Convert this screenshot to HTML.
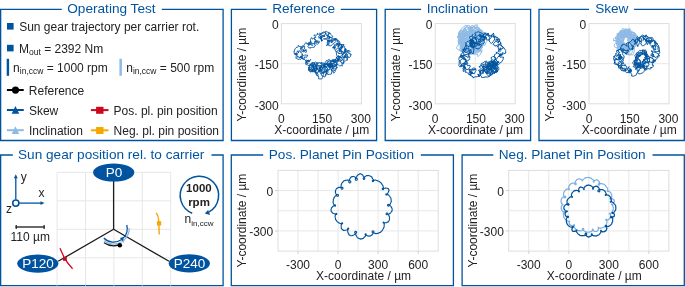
<!DOCTYPE html>
<html><head><meta charset="utf-8"><style>
html,body{margin:0;padding:0;background:#fff;width:685px;height:287px;overflow:hidden}
svg{display:block;will-change:transform}
text{font-family:"Liberation Sans",sans-serif}
</style></head><body>
<svg width="685" height="287" viewBox="0 0 685 287">
<path d="M61.80,9.4 H0.65 V140.5 H223.1 V9.4 H161.80" fill="none" stroke="#00549F" stroke-width="1.3"/>
<text x="111.45" y="13.10" text-anchor="middle" font-size="13.63" fill="#00549F">Operating Test</text>
<path d="M266.60,9.4 H231.4 V140.5 H376.6 V9.4 H340.80" fill="none" stroke="#00549F" stroke-width="1.3"/>
<text x="303.65" y="13.10" text-anchor="middle" font-size="13.63" fill="#00549F">Reference</text>
<path d="M421.10,9.4 H385.2 V140.5 H530.6 V9.4 H494.10" fill="none" stroke="#00549F" stroke-width="1.3"/>
<text x="457.35" y="13.10" text-anchor="middle" font-size="13.63" fill="#00549F">Inclination</text>
<path d="M589.00,9.4 H539.0 V140.5 H684.3 V9.4 H634.10" fill="none" stroke="#00549F" stroke-width="1.3"/>
<text x="611.80" y="13.10" text-anchor="middle" font-size="13.63" fill="#00549F">Skew</text>
<path d="M12.80,155.0 H0.65 V285.6 H223.1 V155.0 H211.50" fill="none" stroke="#00549F" stroke-width="1.3"/>
<text x="111.15" y="158.70" text-anchor="middle" font-size="13.63" fill="#00549F">Sun gear position rel. to carrier</text>
<path d="M263.20,155.0 H231.3 V285.6 H453.4 V155.0 H420.80" fill="none" stroke="#00549F" stroke-width="1.3"/>
<text x="341.45" y="158.70" text-anchor="middle" font-size="13.63" fill="#00549F">Pos. Planet Pin Position</text>
<path d="M493.30,155.0 H462.1 V285.6 H684.3 V155.0 H652.50" fill="none" stroke="#00549F" stroke-width="1.3"/>
<text x="572.20" y="158.70" text-anchor="middle" font-size="13.63" fill="#00549F">Neg. Planet Pin Position</text>
<rect x="7" y="23" width="6.6" height="6.6" fill="#00549F"/>
<text x="19.2" y="31.2" fill="#222222" font-size="12">Sun gear trajectory per carrier rot.</text>
<rect x="7" y="44.8" width="6.6" height="6.6" fill="#00549F"/>
<text x="19.0" y="52.5" fill="#222222" font-size="12">M<tspan font-size="8.5" dy="2.5">out</tspan><tspan dy="-2.5"> = 2392 Nm</tspan></text>
<rect x="6.7" y="58.8" width="2.4" height="17" fill="#00549F"/>
<text x="13.1" y="71.7" fill="#222222" font-size="12">n<tspan font-size="8.5" dy="2.6">in,ccw</tspan><tspan dy="-2.6"> = 1000 rpm</tspan></text>
<rect x="119.4" y="58.8" width="2.5" height="17" fill="#8EBAE5"/>
<text x="126.2" y="71.7" fill="#222222" font-size="12">n<tspan font-size="8.5" dy="2.6">in,ccw</tspan><tspan dy="-2.6"> = 500 rpm</tspan></text>
<line x1="6.9" y1="90.0" x2="23.7" y2="90.0" stroke="#000" stroke-width="2"/>
<circle cx="15.5" cy="90.1" r="3.6" fill="#000"/>
<text x="28.8" y="95" fill="#222222" font-size="12">Reference</text>
<line x1="6.9" y1="110.0" x2="23.8" y2="110.0" stroke="#00549F" stroke-width="2"/>
<path d="M15.45,106.1 L19.25,113.8 L11.649999999999999,113.8Z" fill="#00549F"/>
<text x="28.9" y="115" fill="#222222" font-size="12">Skew</text>
<line x1="6.9" y1="130.2" x2="23.8" y2="130.2" stroke="#8EBAE5" stroke-width="2"/>
<path d="M15.45,126.3 L19.25,134.0 L11.649999999999999,134.0Z" fill="#8EBAE5"/>
<text x="28.9" y="135" fill="#222222" font-size="12">Inclination</text>
<line x1="90.9" y1="110.1" x2="108.5" y2="110.1" stroke="#CC071E" stroke-width="2"/>
<rect x="96.1" y="106.8" width="7.4" height="7.0" fill="#CC071E"/>
<text x="113.6" y="114.8" fill="#222222" font-size="12">Pos. pl. pin position</text>
<line x1="90.9" y1="130.3" x2="108.5" y2="130.3" stroke="#F6A800" stroke-width="2"/>
<rect x="96.1" y="127.0" width="7.4" height="7.0" fill="#F6A800"/>
<text x="113.6" y="134.9" fill="#222222" font-size="12">Neg. pl. pin position</text>
<line x1="321.4" y1="23.6" x2="321.4" y2="103.8" stroke="#e7e7e7" stroke-width="1"/>
<line x1="281.4" y1="63.7" x2="361.4" y2="63.7" stroke="#e7e7e7" stroke-width="1"/>
<rect x="281.4" y="23.6" width="80.0" height="80.19999999999999" fill="none" stroke="#dddddd" stroke-width="1"/>
<path d="M323.8 35.9 324.5 35.4 323.7 36.4 323.7 35.8 323.7 35.5 323.4 35.8 325.1 36.4 324.1 36.3 323.6 36.9 323.4 36.6 323.2 36.7 323.0 36.3 322.2 35.8 320.9 34.1 319.8 34.0 319.8 34.1 319.8 32.9 320.8 33.7 323.2 32.1 324.7 32.0 326.3 31.3 328.6 32.8 329.1 31.9 329.0 33.2 329.1 33.4 328.4 35.1 326.9 35.5 327.9 36.1 327.1 35.7 327.5 36.1 327.5 36.1 327.1 35.5 327.2 35.2 328.1 35.6 328.2 36.6 330.0 36.6 328.9 38.4 329.5 38.2 328.3 37.8 328.2 38.1 327.6 39.1 325.5 39.3 324.5 38.9 324.0 39.3 323.4 38.9 324.9 38.9 328.0 37.4 328.0 35.0 328.7 33.6 328.7 33.0 329.9 33.7 330.7 33.3 330.7 34.3 331.9 35.5 333.0 36.9 330.7 37.5 330.9 37.4 330.0 37.5 331.3 37.7 332.0 38.8 332.6 38.7 334.0 39.1 334.5 38.6 336.4 38.7 334.9 40.0 335.9 41.4 334.3 43.2 334.3 43.1 332.8 44.0 330.9 45.9 329.9 45.7 328.9 45.8 328.2 44.5 327.1 44.5 327.6 42.9 326.9 42.1 328.9 41.8 328.9 41.4 329.1 40.2 330.7 40.9 331.7 40.2 331.5 40.3 333.1 40.4 333.8 40.6 335.0 39.8 334.1 38.8 336.2 38.6 335.7 39.4 337.5 39.6 337.6 40.3 339.2 41.0 338.9 42.1 339.2 41.6 338.8 43.4 340.1 44.2 340.1 45.0 338.5 46.8 338.5 47.1 337.8 46.4 338.1 46.2 338.0 44.8 338.7 45.7 339.5 44.2 338.4 45.8 338.6 44.6 338.5 45.8 338.1 46.7 338.6 47.0 338.8 45.9 338.3 44.7 337.9 44.1 336.9 43.3 337.3 44.6 336.6 45.4 338.7 43.7 340.1 42.5 339.4 43.6 341.9 44.6 341.9 44.0 342.0 44.7 341.8 46.5 341.5 45.3 340.9 44.5 343.0 45.0 343.6 44.9 343.5 44.4 343.9 44.0 343.9 44.0 343.6 45.6 343.3 46.2 341.8 46.9 341.8 48.9 340.3 50.1 339.0 51.3 339.2 51.3 339.5 48.8 339.6 48.5 342.4 47.2 341.2 47.0 343.6 45.9 344.5 47.1 345.0 46.7 344.3 47.6 344.7 48.2 345.0 49.2 344.8 50.3 345.5 49.3 344.9 49.6 345.8 49.1 345.4 48.4 347.1 50.8 347.4 51.1 349.0 50.2 348.7 50.7 350.2 51.3 349.4 52.2 348.4 52.4 346.6 52.0 347.5 51.2 346.0 52.1 344.9 51.5 345.9 50.9 345.0 50.9 345.4 49.4 345.6 48.8 345.6 50.6 344.8 49.7 344.5 52.1 345.6 52.0 345.5 52.1 344.1 53.0 344.0 51.7 344.2 52.3 345.7 51.4 348.1 50.7 348.0 51.3 348.2 52.8 349.1 53.8 350.3 53.4 350.4 55.3 351.2 54.4 350.9 55.2 350.3 56.8 349.0 57.6 347.6 57.2 346.5 57.9 346.4 57.0 344.6 57.6 344.6 56.4 343.9 56.9 344.8 57.9 345.7 56.4 346.2 55.7 345.6 56.1 345.5 57.0 344.2 56.3 344.0 57.1 345.1 56.8 343.7 56.2 345.3 55.1 345.8 54.7 344.9 53.5 346.4 55.1 347.3 55.3 347.3 55.9 348.3 56.5 346.7 56.1 347.2 58.5 347.2 57.7 347.6 60.1 346.0 60.0 346.1 59.8 345.8 60.6 344.5 61.9 343.4 62.9 343.8 61.9 343.6 63.9 341.1 62.6 341.3 61.9 339.9 61.0 340.7 60.8 341.4 60.5 340.1 59.3 338.3 59.4 337.7 59.1 338.1 59.4 338.6 59.9 337.5 59.5 339.7 58.8 339.7 57.9 340.3 57.6 341.1 56.5 340.1 56.1 339.7 56.4 341.4 57.6 341.2 58.1 342.9 59.5 344.1 60.8 342.8 62.5 341.7 64.3 342.3 64.5 342.3 66.1 341.4 65.5 339.6 66.1 338.6 65.0 337.9 64.3 336.7 65.7 336.5 64.8 337.0 63.3 335.6 62.8 334.9 62.1 335.4 60.9 333.4 60.8 333.9 60.0 332.5 61.4 332.3 60.6 333.0 60.8 330.9 62.1 331.4 60.5 331.5 61.2 332.8 61.3 335.2 60.7 335.1 60.6 335.1 59.7 335.4 59.2 336.8 58.8 336.3 56.8 336.8 58.3 338.0 58.6 338.1 61.1 337.7 62.0 336.8 62.9 336.7 63.9 336.2 65.7 334.5 65.6 332.9 66.0 331.2 65.7 328.7 67.0 328.9 66.3 327.8 64.5 326.6 64.9 327.6 64.2 326.9 64.2 327.5 64.3 327.3 63.2 327.4 62.5 328.2 61.3 327.6 62.5 328.2 61.3 330.3 60.9 330.0 60.6 331.2 63.3 331.9 62.9 331.8 63.2 332.1 64.6 332.2 65.8 330.9 65.2 332.0 66.1 330.3 66.8 329.7 66.4 329.4 66.1 329.9 67.3 329.0 67.8 330.2 66.4 330.5 66.7 331.1 67.3 329.1 67.3 328.7 66.9 327.7 66.8 326.3 66.6 326.5 66.5 326.8 67.0 325.8 68.0 326.2 67.7 324.6 66.6 324.2 66.3 324.1 66.7 324.1 65.0 324.2 64.5 324.8 65.1 326.2 63.3 327.9 64.6 327.3 65.1 329.0 65.5 328.9 67.0 329.9 66.4 330.0 68.5 329.4 68.7 328.7 69.6 326.6 70.6 327.5 71.9 325.9 71.2 326.4 72.2 324.2 71.5 323.6 71.8 322.4 72.3 319.8 71.1 319.8 69.2 319.7 68.2 320.2 67.3 321.6 67.0 322.7 67.2 324.3 66.2 325.3 65.9 326.4 67.4 327.6 68.3 326.6 70.0 326.4 69.7 326.4 71.3 325.6 71.2 325.3 72.6 322.7 73.0 322.6 72.5 322.1 73.0 320.7 73.5 319.8 72.1 319.6 70.8 318.3 70.6 318.6 71.5 319.5 70.1 320.5 69.9 320.4 68.9 320.5 68.4 319.9 67.4 320.5 68.0 319.0 67.3 320.1 68.5 319.8 69.1 320.6 69.2 321.2 70.2 320.4 70.2 320.9 69.2 322.3 70.0 321.3 71.3 321.5 70.7 321.4 69.6 320.5 70.3 320.2 70.8 319.5 71.7 318.5 71.4 318.4 71.6 316.7 72.7 316.5 73.0 317.1 72.8 314.4 71.6 314.8 70.6 313.8 68.1 312.9 66.3 313.1 64.9 314.6 64.4 315.1 64.5 314.3 62.9 315.5 61.8 316.6 63.2 316.9 62.4 316.3 64.2 317.1 65.8 316.6 67.0 317.1 68.0 317.5 69.2 317.1 69.7 316.6 67.8 315.8 69.3 315.5 67.7 314.4 68.7 312.5 69.6 313.9 68.0 314.0 67.4 312.3 65.2 312.6 64.9 311.6 65.4 310.8 64.4 310.8 64.0 311.1 65.3 312.5 64.9 312.6 64.6 312.3 64.4 312.4 64.1 313.1 63.7 313.1 63.8 311.6 63.5 312.1 62.3 312.0 62.6 312.5 62.5 313.0 62.8 314.2 63.5 314.5 63.3 314.0 64.6 313.9 66.0 314.6 66.3 312.7 67.7 312.7 66.2 311.0 68.5 309.7 67.1 309.0 65.8 307.5 64.9 307.6 65.0 305.7 64.4 306.1 62.7 306.8 62.4 306.1 62.0 306.3 61.8 306.9 60.8 307.9 60.6 309.4 60.7 310.2 59.8 310.8 59.3 309.7 60.8 310.1 60.7 309.9 61.1 310.0 61.0 307.8 61.2 306.8 61.4 306.3 61.9 306.4 60.5 306.6 59.7 306.8 59.9 307.7 60.9 309.2 61.9 308.8 60.1 307.1 60.7 307.7 61.7 308.0 63.8 305.9 62.7 305.6 63.3 306.1 61.2 306.0 61.4 305.2 59.9 304.0 59.2 302.4 58.5 302.6 57.6 301.1 58.1 300.5 56.4 302.3 56.9 301.0 57.1 302.0 55.4 302.6 55.1 303.5 55.7 303.6 55.6 304.2 55.0 304.8 55.1 307.7 55.1 306.7 57.2 304.1 57.0 304.6 58.3 303.0 59.4 301.5 57.5 301.5 57.3 300.8 57.8 301.8 56.1 301.3 56.4 302.1 56.4 300.9 57.7 301.4 57.5 303.0 58.4 302.5 57.9 302.4 58.9 301.6 58.5 300.6 59.6 299.9 59.1 299.1 59.2 297.9 59.6 297.1 58.4 297.2 57.9 295.9 58.3 296.1 56.2 296.5 56.2 295.6 54.2 294.6 53.9 296.9 54.4 296.8 54.0 297.3 54.6 297.4 54.1 296.7 53.2 297.4 53.3 299.0 52.1 298.4 52.7 297.4 51.7 297.0 50.9 298.3 51.5 298.9 51.7 298.7 50.8 300.0 50.9 300.5 52.4 301.3 52.3 302.7 54.6 301.8 54.5 302.5 55.9 302.5 56.3 300.6 56.5 301.2 56.7 299.9 58.2 299.0 56.7 298.0 57.1 298.0 57.3 296.7 55.0 296.1 54.4 296.1 53.9 297.1 53.8 296.6 53.6 295.4 53.5 296.3 52.7 295.3 54.6 295.0 53.8 294.2 53.8 294.2 51.9 294.4 50.9 294.1 51.3 295.0 48.9 296.0 47.6 298.2 46.9 298.4 45.2 299.7 46.8 300.1 46.3 301.6 47.2 302.0 48.1 302.3 47.9 301.6 48.2 300.3 49.2 300.6 47.4 302.4 46.1 302.0 46.1 303.1 46.3 305.1 46.9 304.0 47.4 304.8 49.4 306.3 50.8 306.4 52.2 305.2 52.3 304.6 51.6 302.9 51.8 302.9 51.3 303.4 49.9 303.8 51.1 302.8 49.1 303.1 50.2 304.2 50.8 306.6 50.1 304.8 50.2 304.7 50.4 304.2 50.8 303.3 50.6 302.3 51.4 301.2 50.9 301.0 49.1 301.5 49.1 302.5 47.1 303.5 46.3 304.6 44.2 306.0 42.5 306.7 43.8 307.9 43.8 310.3 42.6 309.9 44.0 310.0 43.9 309.1 44.6 308.2 44.6 307.5 44.1 308.4 42.6 309.8 42.8 310.3 41.2 313.0 43.8 313.5 43.4 314.7 45.1 315.7 45.1 314.7 46.2 314.4 47.2 312.9 47.3 311.4 47.5 310.2 47.5 310.3 48.5 309.5 47.8 308.6 47.7 307.9 46.3 309.2 45.0 308.3 44.5 310.3 43.9 311.2 43.3 312.0 43.8 312.2 45.8 311.3 44.4 311.1 44.6 309.1 44.6 310.6 42.3 310.8 42.0 310.5 39.9 310.4 39.2 311.7 37.5 312.5 39.3 313.8 37.9 315.5 39.6 316.6 40.6 318.7 41.3 319.4 41.2 319.2 42.6 317.9 42.4 318.6 43.5 317.2 44.3 315.8 43.5 316.5 42.3 313.9 43.7 315.2 41.7 314.7 42.1 314.9 41.5 314.5 41.7 315.9 41.3 316.8 41.3 316.9 41.8 317.9 42.1 316.3 41.2 316.0 41.8 314.7 39.2 314.6 39.4 315.2 39.6 314.3 38.7 314.7 37.2 316.0 37.5 313.8 35.0 315.9 35.3 317.8 34.4 317.1 33.1 318.6 34.1 319.1 34.6 320.6 36.0 320.9 36.9 321.7 37.5 320.7 37.8 322.0 39.6 320.5 38.7 321.7 38.3 322.6 36.6 321.8 37.5 320.8 36.6 321.1 36.5 321.8 36.0 321.4 36.5 321.5 36.0 320.7 36.8 320.4 38.9 320.7 38.0 320.4 38.2 319.2 37.7 319.4 37.5 319.1 38.2 318.7 36.3 319.1 36.4 320.6 34.3 321.5 33.7 324.0 32.7 324.0 32.7 324.7 32.4 325.3 32.3 325.3 32.0 325.9 32.9 325.7 34.0 325.6 34.0 325.9 34.1 325.5 33.3 325.8 33.2 326.4 33.9 326.2 34.2" fill="none" stroke="#00549F" stroke-width="0.85" stroke-linejoin="round" opacity="1.0"/><path d="M321.1 38.3 321.0 38.2 321.4 38.1 321.3 39.3 320.7 38.5 322.2 40.1 322.6 40.5 321.4 40.3 321.4 40.5 322.3 40.2 321.7 41.4 321.2 39.6 320.9 38.8 320.1 38.2 320.5 37.2 321.2 36.4 323.4 35.4 325.4 34.6 325.8 35.0 327.6 35.3 328.4 36.2 329.9 36.7 328.9 39.0 329.3 40.5 329.1 41.6 329.2 40.5 329.5 40.6 327.3 41.0 327.9 39.9 328.7 41.4 329.0 40.6 329.9 41.6 328.9 43.0 329.2 43.7 329.1 44.3 328.0 44.3 326.9 44.8 326.7 45.9 327.7 44.7 328.4 43.6 327.7 41.3 327.3 40.5 327.9 40.2 327.7 40.0 328.9 41.5 330.0 41.2 332.0 40.8 331.0 42.8 333.3 41.6 331.3 40.8 332.3 40.7 330.4 40.1 331.8 39.3 332.6 39.2 334.8 39.6 337.5 40.4 337.3 40.1 337.7 42.1 337.9 42.4 336.6 44.8 335.4 46.2 335.1 47.0 334.2 48.2 333.2 47.0 332.5 47.9 334.4 47.1 333.3 46.4 334.1 47.4 335.4 47.1 335.1 48.3 334.7 48.3 335.1 49.5 333.8 48.6 334.0 46.7 334.6 46.1 333.9 44.9 335.9 45.0 336.3 43.6 336.9 44.0 337.7 43.5 340.6 44.3 341.2 45.9 342.3 46.1 343.0 47.3 341.1 47.8 341.7 48.2 341.5 48.9 340.7 46.6 340.1 48.3 340.8 49.8 341.1 51.0 341.1 51.6 341.2 51.8 341.7 54.0 340.8 53.5 338.5 53.5 339.5 53.4 335.6 51.2 335.0 50.9 336.1 49.6 336.6 48.8 337.9 48.0 339.4 47.8 338.7 48.8 339.6 48.6 340.1 48.8 340.9 50.0 339.0 51.5 339.1 51.3 340.1 51.9 341.8 50.6 342.4 51.6 342.4 50.9 344.1 53.2 345.1 52.6 347.7 54.4 345.2 55.1 345.7 55.2 344.1 57.0 343.3 58.0 340.9 57.6 339.2 56.5 338.1 57.8 336.6 55.0 336.3 52.1 337.2 50.8 338.2 50.6 339.7 48.8 339.7 50.0 340.6 50.9 342.4 52.3 342.4 52.5 343.1 53.9 342.7 54.6 343.0 53.7 344.1 53.5 341.6 55.4 342.7 54.4 342.3 54.0 342.8 54.2 342.3 55.9 343.3 57.7 344.1 57.8 343.9 60.3 341.8 59.7 341.4 60.8 340.1 61.3 339.9 61.0 338.8 61.0 337.9 59.2 338.8 59.2 339.4 57.2 339.5 57.3 339.3 56.7 339.5 56.5 338.6 56.7 338.2 57.2 338.5 56.0 339.2 56.6 338.0 56.4 338.2 56.8 338.0 55.7 339.0 56.0 338.8 56.4 339.3 57.8 338.8 58.9 339.3 59.4 338.2 59.8 338.9 61.1 339.1 60.9 337.0 60.8 337.9 60.3 336.8 60.0 337.5 59.9 336.5 60.5 336.3 61.2 336.3 62.0 336.3 61.2 334.5 61.9 334.9 62.9 334.6 63.1 333.0 60.9 332.1 59.8 333.2 59.4 335.1 60.0 335.8 59.2 334.6 61.0 335.2 62.1 335.7 62.4 335.0 62.5 334.9 62.5 334.4 61.8 335.2 59.7 335.6 59.1 334.9 59.4 336.3 60.4 337.1 61.6 336.6 63.3 337.4 63.9 336.2 65.6 335.3 66.5 333.5 66.7 332.1 66.2 330.9 65.5 329.1 65.1 328.8 64.2 330.2 64.1 331.1 65.2 330.5 65.2 330.0 65.5 331.2 65.6 328.7 65.8 328.2 65.2 328.6 64.8 327.8 64.8 328.0 63.8 328.9 64.6 329.2 63.8 331.8 63.7 330.6 62.4 330.2 63.7 329.7 64.1 329.8 63.8 329.0 64.9 328.4 65.2 327.5 65.8 328.3 64.0 329.4 64.7 329.3 63.5 329.9 66.8 329.3 67.6 331.3 68.0 330.1 69.5 327.2 70.3 326.6 70.3 324.3 69.2 322.4 68.3 321.0 65.7 320.8 66.2 321.6 64.7 321.0 63.2 322.0 63.1 324.7 63.0 324.7 64.4 324.4 65.2 325.3 64.7 325.3 66.9 324.5 65.9 324.6 66.9 323.7 65.4 323.3 65.4 323.2 64.0 325.2 63.4 324.5 63.9 323.9 64.5 322.8 68.0 322.9 67.5 322.1 67.9 319.4 68.4 319.5 68.4 316.5 67.8 316.5 65.1 317.8 64.2 317.0 63.0 317.3 62.7 317.9 63.8 318.2 62.6 319.0 63.3 319.1 62.7 320.4 62.6 320.5 63.5 321.7 62.5 322.2 63.2 321.6 63.3 322.0 63.4 322.5 65.4" fill="none" stroke="#00549F" stroke-width="0.85" stroke-linejoin="round" opacity="1.0"/><path d="M313.2 64.3 313.7 63.8 314.7 65.0 315.9 65.7 315.8 66.2 318.3 66.1 319.7 65.7 320.4 66.9 320.7 67.8 320.1 70.0 318.8 70.5 317.7 69.2 315.3 67.1 315.0 66.6 317.1 64.8 317.0 64.6 317.6 64.8 317.8 65.0 318.2 65.4 317.5 65.4 320.0 66.3 320.6 65.1 321.9 67.1 322.8 69.2 322.5 69.9 321.9 69.8 319.7 69.9 320.0 68.7 319.9 68.9 320.8 66.3 322.1 65.5 324.1 67.0 324.1 67.9 325.3 68.1 324.7 67.6 323.6 67.2 324.5 66.6 323.8 65.7 325.0 65.3 325.5 64.1 326.7 63.7 326.9 64.7 327.3 64.6 328.4 63.1 328.7 62.9 329.7 62.9 330.1 63.0 330.9 64.8 330.2 65.3 328.4 65.9 327.3 65.5 325.8 63.3 325.8 62.1 326.0 60.8 327.6 60.4 329.2 59.3 330.4 60.8 333.2 61.8 333.6 62.0 332.6 63.7 331.7 64.0 331.1 64.5 331.2 63.9 330.5 64.9 331.7 65.3 332.6 64.6 332.8 65.7 333.3 65.7 332.3 66.4 332.4 65.5 331.7 64.5 332.1 63.8 333.8 63.4 334.4 64.5 335.3 64.7 335.2 65.9 335.2 67.0 334.1 66.1 332.7 66.9 332.0 65.2 331.6 65.7 331.7 65.2 330.4 66.3 330.5 65.2 329.5 64.4 329.5 63.8 328.3 64.1 329.0 64.8 331.9 64.7 333.3 66.5 332.9 66.8 333.5 67.9 333.6 67.7 334.9 68.4 335.6 68.4 334.9 70.0 335.1 70.3 335.3 71.6 333.7 73.2 332.9 71.8 333.3 71.4 332.7 70.7 333.3 70.2 332.7 68.2 332.3 67.8 331.4 66.7 333.5 63.9 334.6 64.0 336.2 65.0 336.9 67.1 336.6 68.0 336.7 67.1 337.2 67.0 336.4 69.0 335.4 70.1 333.6 70.8 331.8 71.2 331.2 69.9 332.2 68.7 333.5 68.5 332.0 67.5 332.2 67.5 330.3 66.2 330.8 65.9 332.2 65.8 333.1 67.0 333.0 68.0 331.3 69.8 331.1 69.2 331.7 69.7 331.9 71.4 331.4 74.0 328.2 74.6 327.9 74.1 326.2 74.0 326.5 71.8 326.8 71.6 327.2 70.9 324.7 71.0 324.0 69.4 324.9 68.7 325.9 67.8 326.6 67.5 327.6 68.9 328.0 71.4 327.9 73.4 326.0 73.5 325.8 75.5 325.6 74.3 325.5 75.5 325.2 75.5 325.0 77.0 321.7 75.6 321.1 73.9 320.7 73.6 321.5 72.0 322.6 70.8 324.7 71.8 324.4 72.5 323.8 72.5 322.2 73.3 323.5 72.5 323.6 72.8 323.4 74.6 322.5 77.4 321.8 79.0 318.4 78.8 318.9 76.6 316.3 75.1 316.9 75.2 317.9 76.0 318.2 74.3 316.9 73.7 315.6 72.9 316.0 71.0 317.3 68.9 318.0 69.1 319.2 71.2 317.8 72.5 317.1 73.9 316.1 74.5 314.9 71.5 315.4 71.5 314.9 71.1 315.0 72.0 313.5 71.7 312.8 71.7 312.7 70.5 313.2 69.4 314.2 68.0 315.2 70.0 316.2 70.7 316.1 70.6 314.4 70.6 314.2 70.3 315.1 69.7 313.6 71.1 312.2 71.2 310.9 72.1 309.8 71.6 309.3 70.7 308.0 69.8 311.3 69.3 312.4 69.2 312.8 69.9 313.4 70.1 313.2 69.7 312.4 70.9 312.6 70.5 311.4 70.6 312.9 71.1 311.4 70.9 310.7 71.5 309.3 70.7 309.3 68.6 308.5 67.5 309.7 66.4 310.5 64.8 311.7 65.0 313.5 65.6 313.3 66.5 312.8 67.5 314.4 68.4 312.8 68.2 313.2 68.4 313.0 68.5 311.4 70.4 311.3 70.0 308.5 69.9 308.5 67.1 309.5 66.8 309.9 63.7 312.4 66.0 313.8 65.6 313.9 66.1 314.6 67.3 314.9 68.4 314.6 69.0 314.5 70.6 315.8 71.2 315.1 71.0 313.3 71.5 312.2 72.0 310.0 69.4 309.3 68.0 310.6 64.2 311.8 63.3 313.8 62.5 314.9 63.2 315.7 65.3 315.8 66.3 315.6 65.6 315.5 65.8 316.2 67.9 316.8 68.4 316.0 70.2 314.8 70.8 312.5 69.7 310.9 67.5 311.8 66.1 314.1 65.2" fill="none" stroke="#00549F" stroke-width="0.85" stroke-linejoin="round" opacity="1.0"/>
<text x="278.7" y="28.900000000000002" text-anchor="end" fill="#222222" font-size="12">0</text>
<text x="278.7" y="68.5" text-anchor="end" fill="#222222" font-size="12">-150</text>
<text x="278.7" y="109.89999999999999" text-anchor="end" fill="#222222" font-size="12">-300</text>
<text x="281.4" y="122.9" text-anchor="middle" fill="#222222" font-size="12">0</text>
<text x="322.09999999999997" y="122.9" text-anchor="middle" fill="#222222" font-size="12">150</text>
<text x="360.79999999999995" y="122.9" text-anchor="middle" fill="#222222" font-size="12">300</text>
<text x="321.7" y="134.4" text-anchor="middle" fill="#222222" font-size="12">X-coordinate / µm</text>
<text transform="translate(246.0,74.7) rotate(-90)" text-anchor="middle" fill="#222222" font-size="12">Y-coordinate / µm</text>
<line x1="475.20000000000005" y1="23.6" x2="475.20000000000005" y2="103.8" stroke="#e7e7e7" stroke-width="1"/>
<line x1="435.2" y1="63.7" x2="515.2" y2="63.7" stroke="#e7e7e7" stroke-width="1"/>
<rect x="435.2" y="23.6" width="80.00000000000006" height="80.19999999999999" fill="none" stroke="#dddddd" stroke-width="1"/>
<path d="M465.8 29.3 465.9 30.2 466.6 31.3 467.4 32.4 466.1 32.4 466.5 33.8 465.2 33.7 464.4 33.8 464.6 33.8 463.6 34.5 463.3 32.1 462.5 31.4 463.7 30.4 462.7 30.8 464.4 29.6 464.3 28.5 465.3 27.2 466.5 26.9 467.1 25.8 468.6 25.2 468.7 25.5 470.9 26.5 470.1 26.8 471.0 28.0 470.9 28.5 472.2 29.5 472.3 30.6 473.0 30.6 473.6 30.9 473.7 31.0 472.3 31.5 472.1 32.6 472.3 31.7 472.3 30.6 473.0 30.6 472.9 30.8 473.7 30.5 474.1 32.1 475.1 33.0 475.6 33.5 475.2 33.8 474.6 34.2 473.3 34.4 472.1 35.6 470.2 34.7 469.5 34.6 469.5 33.3 469.7 31.4 469.3 31.1 469.8 29.3 470.3 29.1 469.9 28.7 470.6 28.2 471.5 26.9 471.9 27.2 472.9 27.1 474.2 25.8 475.4 25.1 476.1 25.0 477.4 24.8 477.1 25.9 478.5 27.0 479.1 28.0 480.3 29.3 480.0 30.4 479.7 29.9 478.8 30.1 477.9 30.8 478.2 31.2 478.4 31.3 479.2 31.2 479.4 31.4 480.0 32.8 480.2 34.0 479.7 35.3 478.5 36.9 478.5 36.5 477.2 36.9 477.0 35.6 476.9 34.7 476.7 34.6 475.9 33.5 475.6 33.8 475.9 33.8 475.0 33.2 475.0 33.0 475.4 31.9 476.6 30.8 477.2 30.3 478.2 29.0 479.5 30.4 481.6 30.0 481.7 32.0 480.8 33.6 481.1 35.6 479.7 36.6 477.8 34.4 476.8 35.0 476.3 34.6 477.0 34.2 478.6 34.8 478.1 34.6 478.4 35.1 479.1 36.6 478.9 37.5 478.9 37.2 478.5 36.2 479.1 37.4 478.6 37.3 478.8 37.6 479.3 38.4 478.8 39.3 478.6 39.6 478.1 40.0 477.3 41.7 476.6 42.8 475.2 42.5 474.8 41.5 474.5 40.1 475.5 39.2 476.0 37.6 476.5 37.0 476.8 37.3 477.0 37.4 477.1 36.9 477.1 36.8 477.3 37.9 477.4 38.1 477.3 38.9 477.6 39.0 478.3 39.7 478.5 38.8 479.1 39.1 479.9 39.2 479.7 40.2 479.9 39.7 479.1 39.2 479.5 40.3 478.5 39.1 478.7 38.5 479.6 38.6 480.6 38.8 481.5 39.7 482.9 41.3 482.5 43.0 482.2 44.4 482.0 45.4 480.8 47.1 479.6 47.4 478.1 46.9 478.2 46.6 478.1 46.8 477.9 47.2 478.4 49.2 478.3 48.2 477.1 48.5 476.3 46.6 476.8 44.8 475.3 44.4 476.2 43.5 477.0 44.1 477.6 45.0 477.3 46.2 476.3 47.5 475.3 48.2 475.3 47.5 475.0 46.7 474.2 47.8 474.5 47.6 474.0 48.5 474.2 49.2 473.0 48.2 472.4 48.6 471.2 47.5 471.2 44.5 471.8 44.2 474.3 42.9 474.6 41.2 476.3 42.0 475.8 41.8 475.9 42.1 476.9 41.6 477.5 41.7 478.8 42.5 479.5 44.2 479.3 46.0 478.8 46.6 477.2 47.9 475.9 47.5 475.7 47.6 475.4 47.3 475.8 48.0 476.2 46.8 475.7 46.4 475.8 47.4 474.4 47.3 475.3 46.7 475.5 47.9 476.7 47.3 477.2 48.3 476.8 49.4 476.4 51.6 475.9 53.4 475.2 52.7 475.4 53.1 474.6 53.6 475.1 53.6 474.5 54.0 473.0 53.9 472.6 53.6 469.8 52.6 468.2 51.6 467.4 50.0 468.3 49.0 468.6 48.2 470.3 48.3 470.8 47.5 471.0 48.6 472.2 48.8 472.4 48.7 471.7 47.1 471.3 47.2 471.3 47.1 470.5 47.5 470.8 47.7 471.3 47.6 470.9 46.9 470.5 46.1 470.2 44.3 471.5 43.3 471.3 41.8 472.1 41.9 474.1 42.2 473.8 44.3 475.3 45.0 476.2 46.7 475.8 46.9 475.5 48.0 475.5 48.0 473.9 48.3 472.9 48.5 472.6 48.6 472.5 49.0 472.8 49.1 472.3 50.3 471.2 51.3 470.0 52.0 469.5 50.3 468.8 50.7 468.4 50.9 468.2 50.5 468.3 50.5 468.3 49.5 467.7 50.1 468.2 49.6 467.9 49.3 467.4 50.0 466.8 50.6 466.8 50.1 467.2 49.1 466.4 49.1 465.4 48.4 465.9 48.1 464.9 48.6 463.8 48.0 462.9 49.2 460.9 48.5 461.7 48.6 462.2 47.3 462.5 46.3 463.5 44.8 464.5 44.1 465.6 43.9 466.8 44.6 466.8 43.7 466.9 44.0 466.6 43.9 466.1 43.4 466.5 43.8 467.0 43.7 467.9 44.8 468.3 44.7 469.2 45.9 469.2 46.8 469.0 47.9 468.1 46.7 467.6 47.7 466.7 46.7 465.9 47.4 466.2 48.0 466.8 48.7 466.9 49.6 466.2 50.8 465.7 50.8 464.2 50.9 462.1 52.1 460.1 50.8 459.6 50.2 460.0 49.0 461.0 48.4 462.4 48.9 461.8 48.7 461.9 49.2 460.7 49.1 460.1 48.2 460.3 46.6 460.4 45.2 461.6 42.9 462.1 44.1 463.5 44.4 463.5 46.0 464.6 46.2 463.1 46.5 462.6 45.5 463.5 45.1 462.8 44.5 464.5 44.5 465.5 44.8 465.2 44.7 465.4 45.5 465.2 45.9 465.4 46.3 464.8 45.3 464.2 45.5 464.3 44.1 464.3 44.0 464.2 42.8 465.0 44.5 465.8 45.5 465.7 45.9 466.3 46.5 465.2 47.2 464.4 47.1 464.4 47.1 465.3 47.5 464.4 48.8 463.9 48.3 464.1 48.6 463.5 49.6 462.0 50.0 458.7 50.0 457.2 49.0 456.6 47.6 457.4 46.3 458.3 44.9 459.2 43.7 458.7 42.7 459.0 42.8 459.0 41.7 459.3 40.3 459.3 38.9 460.3 38.1 460.3 37.3 462.4 36.3 462.9 37.1 463.5 38.5 464.9 39.1 463.9 41.0 464.6 41.9 464.6 42.7 464.1 41.0 463.5 41.3 463.6 41.5 463.4 43.0 463.2 43.1 462.7 43.5 462.4 43.3 462.1 42.1 461.9 41.4 462.0 39.9 462.9 39.2 463.1 38.6 463.1 39.5 463.0 39.4 462.2 41.0 461.3 41.4 461.4 42.6 460.8 42.7 459.4 42.7 460.2 41.9 459.9 42.0 459.0 42.0 459.8 41.8 460.0 40.8 460.5 40.4 460.5 40.1 459.7 39.9 460.4 38.3 460.7 37.7 460.1 35.6 460.5 34.2 461.6 33.3 461.8 33.2 462.3 33.0 463.7 33.2 463.9 34.3 465.3 34.8 466.6 35.1 466.5 36.2 467.7 36.5 467.6 37.5 467.1 38.5 466.4 39.0 467.0 38.8 465.4 40.4 465.2 40.7 463.8 39.6 463.6 38.5 462.0 37.9 461.7 37.0 462.5 36.4 463.6 35.8 463.6 34.3 463.8 35.0 464.2 35.0 463.9 36.0 464.6 36.7 463.5 38.0 463.4 38.5 462.5 39.2 461.6 38.7 460.4 37.3 459.4 36.8 458.3 35.2 459.3 34.1 459.8 32.7 459.9 31.7 461.6 30.8 462.5 30.1 464.1 28.6 464.8 28.7 465.5 28.6 466.2 30.1 466.8 31.3 468.3 31.3 467.7 32.0 467.8 32.4 467.9 33.9 467.0 33.3 466.7 33.4 466.9 33.8 466.2 33.4 465.8 32.7 466.6 33.4 466.4 33.1 468.0 34.1 467.8 33.9 466.7 34.1 467.1 33.8 466.8 34.6 466.8 34.2 466.6 34.4 466.3 34.9 464.7 34.6 463.4 35.6 462.8 34.6 461.4 35.1 460.3 33.1 459.8 31.9 460.5 30.6 461.2 29.1 462.3 27.9 463.8 26.7 465.9 25.3 467.2 26.5 468.4 27.2 469.1 26.9 468.9 28.0 469.5 27.3 470.7 27.5 471.7 27.9 471.7 27.4 472.0 28.0 472.4 28.1 471.8 27.0 471.4 28.5 471.0 28.5 470.5 28.7 470.2 28.7 470.5 28.0 470.4 27.9 471.1 27.1 470.7 27.8 472.2 28.8 472.0 30.4 472.8 31.4 472.0 31.7 470.7 31.7 469.8 30.8 470.8 30.1 470.1 30.4 470.6 29.3 470.9 28.7 471.4 28.9 472.1 29.7 472.7 29.8 471.5 29.3 472.0 27.9 472.5 27.7 473.2 27.2 475.0 26.6 475.1 27.7 476.7 29.5 477.3 30.8 479.2 31.9 477.6 31.9 476.5 32.2 475.9 32.0 475.1 31.5 475.0 31.3 475.9 29.9 475.3 30.1 474.6 30.8 476.2 32.3 475.8 33.1 476.0 33.8 475.9 34.5 476.6 34.9 475.7 34.9 475.1 35.4 474.7 35.0 474.7 35.3 472.9 34.1 473.4 34.5 473.5 35.2 473.5 34.9 472.6 35.4 472.2 35.2 471.6 34.7 470.9 33.3 471.8 31.6 472.4 29.4 475.1 28.8 477.0 27.6 477.9 28.3 478.5 29.5 479.7 31.0 479.4 32.7 480.0 34.3 479.3 34.7 479.5 33.1 479.6 32.4 479.4 32.3 479.7 32.8 479.5 32.1 479.6 31.9 479.4 32.2 479.5 31.9 478.8 31.9 478.9 32.2 480.0 32.9 480.7 32.7 482.2 31.8 483.6 33.0 485.7 33.4 485.9 34.4 485.7 36.0 484.3 37.0 483.1 38.1 482.7 39.1 481.4 39.0 481.2 38.4 481.3 38.7 481.1 39.4 480.8 39.3 479.0 39.5 478.4 40.2 476.9 39.1 476.5 38.6 476.2 38.2 476.7 37.4 478.0 38.2 480.4 38.8 481.6 41.3 481.2 41.9 480.0 43.3 479.9 42.3 479.2 41.9 478.8 40.5 477.5 40.5 476.5 41.0 476.6 40.2 476.0 41.8 474.9 41.4 474.1 41.3 473.6 40.3 474.3 40.5 475.9 39.6 476.7 39.9 478.0 40.4 477.8 40.7 478.5 40.2 479.9 39.3 480.5 38.3 481.4 38.5 482.7 39.4 481.9 40.3 481.2 42.2 479.2 43.3 478.3 43.5 478.0 44.4 479.3 43.7 479.2 44.1 479.6 44.0 480.6 44.4 480.5 44.4 480.6 43.4 480.1 43.4 480.7 43.9 481.1 44.4 481.3 45.9 481.4 47.1 480.8 48.6 480.3 49.6 479.0 50.0 476.5 50.3 475.7 50.7 474.4 50.5 474.2 50.5 473.2 49.8 471.6 48.4 471.3 47.4 470.6 45.7 471.3 44.5 472.1 43.6 474.1 43.4 475.6 43.2 476.3 44.0 477.1 45.6 476.9 46.2 475.9 46.2 475.6 47.3 476.0 46.3 475.2 46.0 476.4 45.6 476.7 45.7 475.9 44.7 475.3 45.6 474.1 44.8 474.4 44.5 474.3 44.4 474.7 44.0 475.6 43.5 476.3 44.1 477.6 43.3 478.4 44.6 478.6 46.7 478.5 47.5 478.2 49.3 478.3 49.9 478.3 50.3 478.7 50.4 479.4 50.4 478.8 50.3 478.4 50.0 477.2 50.4 476.0 51.1 474.3 51.5 473.5 51.9 472.5 51.7 471.4 50.4 471.1 51.0 471.6 50.1 472.2 50.9 473.8 50.0 473.3 50.6 473.4 50.4 472.5 51.0 471.6 50.5 472.0 49.9 470.8 50.0 470.6 50.0 471.8 50.0 472.1 49.5 471.9 49.6 472.3 49.6 471.2 50.8 470.9 50.0 469.9 49.9 469.0 48.7 468.0 47.7 468.2 46.7 468.2 46.8 468.5 47.4 469.2 47.2 469.5 48.0 469.5 48.7 469.1 47.7 468.2 47.8 469.2 47.6 469.2 47.3 470.4 46.9 472.6 47.6 474.1 48.2 473.8 49.3 474.5 50.7 474.7 51.3 474.0 50.7 473.5 50.5 472.8 50.4 472.2 50.4 471.9 51.4 471.8 53.3 472.2 53.8 470.9 54.4 469.8 54.2 468.3 53.6 467.4 52.1 465.9 51.5 465.6 50.8 465.3 50.3 464.7 50.0 463.8 48.7 463.9 48.1 463.9 48.7 463.5 48.1 462.5 46.6 463.0 45.1 463.6 44.1 465.4 42.6 466.5 43.5 468.1 44.1 468.8 44.7 469.5 45.9 469.3 46.7 469.1 46.9 468.6 46.9 468.5 46.2 469.1 45.5 469.1 44.7 468.8 44.9 468.4 45.3 467.3 46.2 466.0 46.6 465.8 46.5 465.7 46.2 466.2 46.0 467.6 45.6 468.7 46.2 469.0 46.3 468.9 47.3 468.8 47.3 466.4 47.6 466.1 47.2 465.2 46.6 464.9 46.2 464.5 45.9 465.3 45.9 465.4 47.6 465.9 49.0 464.5 49.3 464.4 49.9 463.4 49.3 461.8 49.5 461.2 47.1 461.2 45.7 461.1 43.9 460.0 43.7 459.2 43.6 459.3 44.0 460.6 43.5 459.7 43.3 461.4 42.6 463.1 43.2 464.7 42.3 466.5 42.2 466.5 43.7 467.3 44.8 467.5 45.7 466.9 46.0 465.3 46.0 465.2 45.0 464.2 45.5 463.7 44.8 463.9 45.1 463.0 46.1 463.1 47.1 463.4 47.7 462.2 48.4 461.6 48.5 462.3 47.7 462.3 47.9 462.6 46.9 463.4 45.9 463.2 44.9 463.6 44.7 463.4 44.8 463.3 45.1 462.0 45.8 460.6 45.5 460.5 45.5 460.4 45.9 461.2 44.8 461.6 45.0 461.5 44.2 460.5 44.1 459.7 44.7 458.4 43.1 458.7 40.8 458.5 40.6 460.4 38.1 461.4 37.1 462.1 36.6 463.4 36.0 464.9 36.3 466.9 37.4 468.0 37.8 468.5 39.4 468.2 39.9 467.6 41.9 466.2 43.3 464.0 42.9 463.7 43.5 462.7 45.0 462.1 43.9 461.9 44.4 461.5 43.9 461.6 44.4 461.3 43.4 461.2 42.9 461.0 42.3 461.6 40.9 461.6 40.4 462.7 39.9 462.6 39.4 464.4 39.7 465.3 40.3 465.7 39.9 464.1 40.7 462.7 42.1 461.6 41.5 459.6 40.4 459.9 39.4 458.2 38.1 457.2 37.1 458.4 35.3 458.9 33.2 460.0 31.8 460.6 30.6 461.0 31.4 462.0 32.4 463.0 33.3 463.3 33.4 463.4 34.8 463.7 36.1 463.9 35.4 466.0 35.0 465.2 36.4 464.8 36.0 464.3 37.0 463.3 36.5 462.5 37.8 462.3 38.0 463.0 38.2 462.3 38.1 462.5 38.4 464.2 39.0 464.0 38.7 464.2 37.9 463.9 38.3 463.3 37.6 463.2 37.9 463.1 36.8 463.6 37.7 463.1 36.7 462.9 36.8 462.6 37.4 461.6 36.8 461.1 36.9 460.8 35.7 461.3 34.7 461.5 33.6 462.2 32.3 463.0 31.8 464.1 30.1 464.9 31.6 465.4 32.1 464.6 32.8 465.7 33.8 465.3 34.0 465.2 34.6 466.0 34.3 465.5 34.8 465.4 34.8 466.2 34.8 465.1 34.9 464.9 35.3 465.0 35.5 465.0 35.1 463.8 35.3 464.1 34.6 464.3 34.3 465.9 33.3 466.9 31.9 468.6 32.6 469.6 33.8 470.1 34.7 467.7 36.1 466.0 35.8 465.1 36.6 464.3 35.0 464.0 34.6 464.2 34.8 463.7 34.2 465.0 33.8 465.8 33.1 466.9 32.8 467.2 33.3 466.8 32.9 467.6 32.4 468.5 31.2 468.7 30.7 470.1 30.6 471.7 29.9 472.0 30.5 472.2 31.9 472.3 33.1 472.2 34.3 471.2 34.8 470.2 35.0 470.0 34.4 468.9 34.6 469.2 34.0 469.4 33.1 469.8 32.5 470.0 32.2 471.6 32.0 471.4 32.3 471.7 32.8 471.1 34.8 470.6 35.2 469.3 35.1 469.9 34.3 469.5 34.0 469.7 31.8 469.5 31.3 469.1 30.4 469.1 30.5 469.1 29.6 468.0 30.0 468.7 29.7 469.0 27.9 468.8 27.5 470.3 26.7 472.0 25.9 472.3 25.5 473.2 25.6 474.7 27.3 475.3 28.1 474.5 27.9 475.2 28.3 474.6 29.1 474.8 29.0 475.5 28.4 474.7 28.9 475.2 27.8 475.8 28.5 476.8 28.0 476.3 27.5 475.9 28.6 476.2 28.5 476.5 28.0 477.3 27.8 477.7 28.3 478.5 29.0 479.5 29.7 480.8 30.2 481.0 31.1 480.7 32.6 480.6 34.1 480.1 34.4 479.3 35.3 478.7 34.8 476.6 33.9 476.8 34.4 477.5 34.8 477.4 35.5 476.2 35.2 476.0 35.6 475.7 34.8 474.6 33.5 475.8 33.2 476.8 32.8 477.7 33.4 478.4 33.3 478.0 34.5 477.3 35.2 476.7 34.6 476.3 33.5 476.2 33.6 477.1 33.5 478.1 34.5 476.9 34.5 476.5 35.2 475.3 34.3 474.4 33.0 473.1 31.2 473.7 31.0 474.9 30.8 476.4 30.0 478.2 30.2 479.6 30.7 479.3 30.6 480.5 30.6 482.0 30.2 482.4 31.1 483.1 32.2 483.2 34.5 482.2 35.9 481.3 37.7 481.1 38.2 480.4 38.0 480.7 37.9 481.3 38.6 481.3 38.6 481.8 39.5 481.4 38.9 482.0 38.7 481.9 37.6 483.7 37.3 484.4 37.7 485.3 37.2 485.2 38.9 484.5 39.4 482.9 41.1 480.7 41.5 480.0 42.5 479.8 43.8 479.2 44.1 479.6 43.7 479.5 44.2 478.4 44.3 477.6 43.8 476.6 42.9 476.6 42.2 476.2 40.3 476.8 39.8 477.0 39.6 477.1 40.3 478.5 40.1 478.8 41.3 479.3 39.8 479.3 40.5 480.3 40.3 479.3 38.1 481.0 38.1 480.6 39.7 480.8 39.2 481.3 40.1 480.2 41.0 479.7 41.0 479.6 40.3 480.1 39.6 481.3 39.7 481.6 40.2 482.6 39.9 482.9 41.4 483.2 42.8 483.5 43.7 482.8 45.0 481.8 46.9 482.1 47.0 480.7 47.1 480.9 47.0 480.5 47.0 480.1 47.4 479.6 47.9 478.8 48.8 478.6 49.3 478.3 50.2 477.2 49.5 476.0 48.9 475.7 48.7 475.6 47.1 476.0 46.0 476.6 45.5 477.8 45.9 478.4 46.5 478.7 47.5 477.9 47.7 477.6 47.8 476.6 46.4 476.7 46.2 477.0 45.9 476.7 45.3 477.1 46.8 477.5 48.3 476.8 49.0 474.9 49.2 474.2 49.3 473.2 49.1 472.2 48.8 472.6 47.5 472.6 47.5 473.9 46.2 475.3 46.6 475.4 46.4 476.3 47.4 476.3 47.2 475.5 46.6 475.3 48.0 476.0 46.2 476.1 45.6 477.7 46.0 477.5 46.2 478.4 47.7 478.8 49.2 479.3 50.9 479.9 51.5 478.0 52.4 477.0 51.9 476.4 52.5 475.5 52.4 474.5 52.1 474.4 52.3 472.9 53.1 472.1 53.6 471.2 54.2 471.1 54.0 470.2 53.4 470.3 51.8 470.0 51.0 470.4 50.8 470.7 50.6 470.1 50.5 470.2 50.9 470.5 50.3 469.4 48.6 469.3 47.8 469.8 46.9 470.8 45.0 471.5 44.0 472.3 44.6 472.6 45.0 473.5 46.8 473.2 47.6 473.2 48.1 472.1 49.3 472.0 49.1 472.8 49.9 472.7 50.1 472.6 50.1 472.9 50.6 472.2 51.2 472.5 51.9 471.0 51.3 470.8 50.1 469.3 49.1 468.7 49.7 468.7 49.5 469.3 49.6 469.9 49.5 470.1 50.6 470.2 50.5 469.6 50.8 469.5 50.5 468.8 50.4 468.4 49.9 469.0 50.7 468.0 50.9 467.3 51.4 466.2 51.7 465.5 52.2 463.2 51.7 463.1 51.4 462.7 49.6 462.4 48.6 463.3 47.4 465.0 47.4 465.3 46.9 466.3 46.7 465.9 46.3 466.2 45.3 466.8 45.4 467.5 44.8 467.5 45.5 468.3 46.3 468.4 46.9 469.7 47.3 468.8 48.6 468.8 48.1 468.2 49.7 467.5 49.7 466.1 49.3 466.4 49.0 466.6 49.2 466.8 49.3 466.7 49.9 466.8 50.8 465.1 51.6 465.3 51.1 464.7 50.2 463.7 49.7 463.4 49.1 464.4 48.5 464.9 48.8 465.4 47.6 465.1 47.9 464.8 47.9 463.5 48.2 462.6 48.1 462.2 47.6 462.3 48.1 461.6 47.0 460.9 46.6 460.7 46.8 460.5 46.3 461.5 45.2 461.9 44.7 461.1 42.4 462.5 41.4 463.6 40.2 465.1 38.4 466.7 39.2 466.9 39.3 469.1 39.5 469.3 41.5 470.1 42.9 469.8 44.0 468.6 45.6 467.8 46.3 467.4 47.2 465.3 48.0 466.3 48.7 465.0 48.6 465.0 47.0 464.3 47.4 464.8 47.2 464.5 47.3 464.2 47.3 463.4 47.7 463.1 46.9 462.1 47.1 461.9 47.1 462.4 45.4 462.0 45.5 461.0 45.5 460.9 44.3 461.7 43.8 460.6 44.2 459.6 42.9 459.8 43.9 458.7 43.6 458.2 43.3 458.7 42.3 458.1 41.4 458.4 39.7 459.1 38.4 459.4 37.5 460.2 37.1 462.1 36.2 464.0 37.0 465.3 38.4 465.9 39.8 465.8 40.7 465.5 41.6 464.5 42.1 463.3 42.3 462.1 42.6 462.8 43.1 461.9 43.3 461.4 42.3 462.5 42.4 462.3 40.7 462.2 40.2 462.3 40.2 461.6 39.3 461.5 40.6 460.4 41.0 460.4 41.8 458.9 40.7 459.8 39.3 459.1 39.9 459.5 39.7 460.1 40.2 460.3 40.3 460.7 40.0 460.9 41.0 461.2 40.8 461.5 40.2 460.7 39.4 460.3 36.6 459.9 36.1 459.8 35.6 461.4 34.7 462.4 35.4 463.2 35.8 463.9 36.8 464.3 38.4 464.3 38.2 463.7 39.2 462.0 39.1 462.6 39.0 462.0 38.6 463.7 38.3 463.2 38.9 464.5 38.4 463.8 38.0 463.6 38.6 463.2 39.4 462.3 38.9 462.8 38.8 462.1 38.5 461.9 38.5 462.9 37.6 462.4 38.6 462.6 38.1 462.8 38.2 462.7 39.2 462.4 39.1 460.2 38.4 458.7 36.6 458.8 34.7 458.5 33.0 458.9 32.1 459.2 31.4 460.5 30.4 462.1 30.8 463.1 31.3 463.9 31.2 465.1 32.1 465.4 33.6 465.3 34.3 466.0 35.0 467.6 35.5 467.4 36.3 467.8 37.5 467.0 38.3 466.8 38.9 465.2 39.3 465.3 38.6 464.8 37.5 463.4 35.6 463.9 34.7 465.1 33.1 465.2 32.3 465.7 32.3 466.6 32.7 465.6 34.5 465.4 34.6 464.1 36.0 464.5 36.0 463.8 36.5 463.4 36.3 463.4 35.7 462.5 35.4 462.4 35.0 462.9 34.6 462.5 35.0 462.7 34.6 463.5 34.7 464.1 33.5 465.0 32.6 465.8 31.5 466.3 30.5 467.6 28.5 468.9 28.4 470.2 29.2 471.3 30.8 472.0 32.2 471.0 32.8 469.8 34.8 469.7 35.8 469.4 35.5 468.5 35.0 468.3 33.3 468.9 32.7 469.6 32.6 470.5 31.9 470.4 32.1 469.6 31.5 470.3 31.4 470.8 32.5 471.3 32.1 471.3 32.9 473.3 33.1 473.6 34.2 474.8 35.6 475.4 38.4 474.4 39.3 474.2 40.6 472.3 40.4 470.7 39.6 470.5 38.3 469.5 37.1 469.1 36.3 468.5 36.6 467.3 36.6 467.4 35.9 467.6 35.1 467.8 33.1 469.0 31.7 468.8 30.5 470.5 30.7 471.2 30.5 472.7 32.4 472.3 34.0 472.8 34.1 472.5 34.2 472.9 34.2 471.9 33.9 471.9 33.5 471.8 32.2 471.4 31.7 470.6 31.7 471.2 30.1 470.0 28.5 470.6 27.5 471.9 27.5 473.0 26.7 474.5 27.5 475.9 27.6 475.3 27.4 475.9 27.8 476.7 26.4 477.3 27.4 479.2 28.8 480.1 29.8 481.1 31.3 480.8 31.7 480.2 33.4 479.4 34.1 479.1 34.5 479.8 33.8 480.4 33.5 480.6 34.5 481.2 34.6 480.8 33.9 480.1 34.0 480.1 34.2 479.2 33.6 479.7 34.3 480.4 33.4 480.5 34.8 479.4 36.6 478.6 36.5 477.7 36.8 476.9 36.0 476.6 36.7 477.0 36.6 476.3 36.7 476.7 36.5 476.8 36.5 475.8 35.5 476.0 35.1 476.1 34.2 477.1 32.9 476.7 31.3 479.3 29.9 479.7 31.1 480.3 32.4 480.2 35.2 480.2 34.9 479.5 35.5 479.7 35.4 480.8 35.8 480.7 35.2 481.3 34.8 481.8 35.2 481.4 35.7 481.4 35.8 481.1 36.5 481.5 36.5 480.9 34.8 481.0 34.2 481.3 32.7 484.2 32.8 484.8 34.5 485.7 36.0 485.1 38.0 483.5 40.2 481.3 42.2 479.6 43.6 477.6 43.1 477.2 42.1 477.1 42.5 477.1 40.8 478.6 40.2 479.1 42.6 479.1 42.7 479.3 42.9 478.7 43.2 477.6 41.8 478.0 40.8 478.2 40.5 477.5 39.9 478.2 39.8 479.3 40.3 479.0 41.0 478.5 41.4 478.1 43.0 477.6 43.7 477.2 43.3 478.6 42.9 478.3 41.5 478.5 41.2 479.6 42.7 479.6 43.1 479.3 43.7 479.9 43.2 480.1 43.0 479.1 44.0 479.7 42.9 479.1 43.2 479.4 42.0 480.4 41.9 480.4 41.1 480.6 41.7 480.8 42.1 480.4 43.5 480.8 44.2 481.1 45.0 480.4 44.4 479.5 45.5 481.3 44.7 482.0 44.9 482.4 45.1 482.7 46.9 482.3 47.8 480.6 49.4 480.2 49.5 480.5 50.0 480.4 51.0 480.0 50.2 480.7 50.9 481.8 51.0 481.1 51.3 480.3 52.0 479.3 51.5 477.6 51.6 477.4 51.0 476.0 49.8 475.3 49.4 475.6 47.3 475.7 47.5 476.2 47.1 476.2 46.5 475.9 45.4 474.7 44.5 474.6 45.0 474.5 44.4 476.1 44.0 477.3 44.5 478.3 44.7 479.6 45.4 480.5 46.4 480.0 48.0 479.3 48.4 479.0 48.9 478.0 49.2 477.4 50.2 476.7 49.5 476.9 50.1 476.9 51.6 477.1 52.0 475.8 52.9 474.7 52.6 474.6 52.8 474.1 52.8 473.8 50.8 474.5 51.3 474.4 51.5 474.6 50.7 474.8 51.9 473.7 51.1 473.2 51.1 472.6 50.4 471.8 50.7 471.6 50.8 471.3 51.1 472.7 51.5 472.8 52.2 472.0 52.9 470.4 53.6 469.4 52.9 469.0 51.8 466.4 49.5 467.3 48.5 468.3 47.8 469.1 46.5 470.0 46.4 471.6 46.4 472.2 46.7 472.9 46.7 472.9 46.8 473.1 46.5 474.6 46.5 474.9 47.3 475.4 47.4 476.5 49.0 475.8 49.9 475.2 50.3 474.0 52.4 472.2 53.2 470.5 53.1 469.9 53.4 468.3 54.3 468.9 53.2 468.2 54.5 468.3 53.2 468.6 52.5 468.0 51.9 468.2 51.2 466.8 50.5 467.8 50.0 467.2 50.0 467.1 50.1 467.3 50.5 468.6 50.6 469.1 49.7 468.6 50.4 468.2 50.4 467.4 49.0 466.4 48.5 465.0 48.1 465.1 47.9 464.6 46.7 464.9 46.3 464.6 44.9 465.5 44.3 464.7 44.2 465.8 44.4 466.0 43.4 467.3 42.5 467.4 41.5 469.0 42.7 470.6 43.9 471.9 44.8 473.0 45.7 472.5 48.0 471.9 49.1 470.3 50.2 469.5 50.8 467.9 51.9 466.1 52.6 465.5 52.2 464.6 52.5 463.7 51.3 463.8 50.0 463.5 49.3 463.7 48.6 463.5 50.4 463.5 49.7 463.9 49.4 463.8 49.4 463.7 48.3 463.2 47.9 463.6 47.6 463.3 46.4 463.3 45.7 463.5 45.2 464.4 47.6 465.4 47.8 464.4 48.1 464.4 48.6 463.4 48.7 461.9 47.3 461.9 46.5 461.2 44.4 461.6 44.1 462.3 44.0 463.2 43.0 465.2 43.0 466.3 43.3 467.2 43.7 467.6 45.2 466.2 46.6 466.8 47.6 466.3 47.4 465.0 49.0 464.1 49.8 461.9 49.0 461.4 47.5 460.0 46.6 460.2 46.2 460.5 45.0 461.9 44.7 462.5 44.7 463.6 44.1 463.9 44.0 463.2 44.1 464.3 44.2 463.1 43.8 462.5 45.0 461.7 45.7 461.1 44.7 461.8 44.6 461.5 44.4 462.0 43.2 461.4 43.4 461.7 42.8 461.8 41.5 461.5 40.4 462.1 39.6 462.4 38.7 463.3 37.2 464.2 36.9 466.7 36.1 467.7 36.6 468.2 38.2 467.5 39.3 467.3 41.9 466.0 42.7 465.6 44.3 464.3 44.1 464.1 43.5 462.8 44.1 461.8 43.3 462.6 43.2 461.9 42.3 462.0 41.5 461.4 42.6 460.5 42.0 459.7 41.4 460.1 40.9 459.4 40.8 460.4 40.8 461.2 40.8 461.2 41.1 462.2 41.1 461.7 41.8 460.7 42.4 459.9 41.7 459.1 40.8 459.2 39.3 458.0 37.7 459.1 36.0 459.4 33.8 460.8 33.5 462.0 33.6 463.2 33.8 464.6 34.8 465.0 35.6 465.7 37.3 467.0 37.0 466.2 37.7 466.1 38.8 466.1 39.5 466.0 39.8 464.8 39.9 463.9 40.4 462.5 40.0 461.0 38.8 460.6 37.1 460.3 35.5 459.7 34.0 460.0 34.1 461.5 35.0 463.0 34.1 464.0 35.3 463.5 37.2 461.9 38.4 461.6 39.0 459.8 40.1 459.2 39.3 458.3 38.5 458.6 38.2 458.6 37.2 460.1 35.6 459.2 36.1 459.7 34.0 461.2 34.1 460.6 34.1 460.3 33.6 461.1 32.5 461.1 32.8 461.8 32.0 463.2 31.6 464.0 31.6 466.2 30.5 466.4 31.7 466.1 32.3 466.3 33.7 465.2 34.8 464.5 35.2 464.9 35.0 464.2 35.0 465.6 34.6 465.5 34.0 466.6 32.9 467.6 33.2 467.0 33.5 467.7 33.6 468.5 34.4 468.5 34.5 468.5 35.5 468.4 35.5 468.8 36.0 469.6 36.0 470.0 36.4 469.9 37.1 468.6 39.9 468.6 40.3 466.3 40.4 465.6 39.4 463.3 38.9 463.0 37.2 462.0 36.2 464.4 36.6 463.9 35.3 462.9 35.3 463.6 34.7 463.9 34.0 463.6 33.6 465.1 34.0 465.6 32.8 465.5 33.5 465.2 34.3 464.6 34.5 463.7 34.3 463.6 32.5 463.5 31.2 463.6 29.6 465.0 29.4 465.8 30.2 465.1 30.0 465.3 29.7 465.1 29.5 465.0 27.8 466.2 27.5 467.8 26.9 468.6 27.9 469.5 28.4 471.4 28.7 471.6 29.1 472.1 28.6 472.8 28.7 473.1 28.8 474.1 30.3 474.1 32.4 473.8 33.0 473.5 33.1 472.3 33.8 471.2 32.8 472.3 32.2 472.5 33.6 471.8 34.7 472.4 35.7 471.1 35.9 470.6 35.9 470.0 35.4 470.8 34.0 471.5 33.5 472.6 33.2 474.8 34.9 475.2 36.2 475.4 37.1 473.8 37.0 473.3 37.2 471.7 35.5 471.6 35.4 471.3 34.2 471.5 34.3 470.8 34.6 470.5 35.5 469.9 34.5 470.1 33.6 470.6 32.4 470.6 30.5 472.7 30.2 473.4 31.0 475.1 31.2 475.1 32.1 474.9 32.9 473.7 33.0 472.8 33.5 472.8 33.4 472.0 32.9 472.9 33.4 473.6 33.2 473.9 34.2 474.3 35.3 474.4 35.1 474.1 35.0 474.4 34.5 475.7 33.3 475.4 32.2 476.7 32.3 477.7 31.7 478.1 32.5 478.4 34.7 479.3 35.5 479.3 37.3 479.0 37.1 478.0 37.9 477.2 36.8 476.7 36.7 477.0 36.6 478.2 36.0 477.6 36.5 476.9 36.2 476.4 36.3 476.0 36.6 474.9 37.5 475.1 36.9 474.2 36.4 474.6 36.1 474.9 34.7 475.8 34.0 476.7 35.3 478.1 35.0 477.2 35.6 477.3 36.0 478.5 35.9 478.4 35.6 478.4 34.4 479.3 34.3 481.0 34.4 481.4 35.0 481.6 36.2 480.9 37.1 480.7 37.3 479.7 37.2 479.2 37.0 478.3 36.2 478.5 35.7 479.0 35.1 480.4 34.6 481.2 35.2 481.4 35.4 482.8 36.5 483.1 37.5 482.7 39.4 483.7 38.8 484.4 39.1 485.1 38.8 485.6 39.6 486.5 40.2 486.9 40.7 486.7 41.4 485.9 42.9 484.6 45.4 483.5 44.9 482.7 44.6 483.1 44.2 480.6 44.3 481.2 44.6 480.4 45.0 480.2 45.0 478.7 45.5 479.0 44.8 475.6 43.6 476.2 43.0 476.4 42.5 476.8 41.8 478.1 41.3 478.3 40.7 477.4 40.2 477.9 39.6 478.1 39.4 478.6 38.9 477.9 39.4 478.5 39.2 479.2 39.4 481.3 39.1 482.6 40.4 483.4 42.2 483.7 44.0 483.5 44.8 482.3 46.3 482.3 46.9 481.3 46.3 481.4 47.4 482.3 47.5 482.5 47.5 481.3 47.9 480.4 49.3 479.8 50.3 478.7 50.5 477.4 50.6 477.7 50.1 477.0 48.7 477.4 47.7 478.8 48.7 479.8 48.2 480.3 48.8 478.7 48.1 478.0 48.1 476.1 48.7 474.4 49.2 475.7 48.5 474.4 48.3 474.3 48.8 474.6 47.9 474.6 47.5 473.7 48.5 472.8 48.8 472.9 47.7 471.8 48.7 473.5 48.2 474.0 48.0 474.2 48.2 477.2 48.1 477.6 48.2 478.1 47.3 478.2 46.9 478.8 47.0 479.6 46.6 480.6 47.2 480.7 48.0 481.9 49.4 481.8 51.6 481.0 53.6 479.8 54.6 479.0 55.7 478.3 56.5 477.2 55.9 477.7 55.5 477.4 54.6 477.4 53.6 476.8 54.5 474.8 53.8 474.5 53.9 472.8 53.2 471.9 53.0 470.8 52.1 471.1 51.8 471.3 51.9 471.7 50.3 472.2 51.4 471.5 51.7 471.7 51.3 470.9 51.1 471.3 51.2 470.7 50.9 470.0 50.5" fill="none" stroke="#8EBAE5" stroke-width="1.0" stroke-linejoin="round" opacity="1.0"/><path d="M475.0 45.7 473.6 47.6 473.1 47.0 473.1 47.3 472.1 47.2 471.2 44.2 470.1 44.4 470.7 43.4 470.8 44.0 470.3 44.9 470.1 44.9 469.9 44.4 469.1 42.8 468.9 42.8 469.2 42.9 470.5 42.4 472.7 43.4 472.4 43.8 472.9 43.2 472.7 44.3 471.1 43.2 470.0 41.1 470.8 39.9 470.8 39.7 470.0 40.1 470.7 39.9 471.5 40.4 471.5 41.5 472.5 40.6 472.5 39.0 472.6 39.9 473.9 38.5 474.9 37.5 476.7 37.5 476.9 37.9 477.6 38.8 478.3 39.1 478.7 39.8 480.0 38.8 480.1 39.4 480.4 39.1 481.4 39.5 480.8 40.3 481.6 41.2 480.6 41.7 480.6 42.2 479.3 43.2 476.7 43.3 476.7 43.6 475.7 43.4 476.3 43.1 474.5 43.5 474.4 42.9 474.0 43.4 473.7 42.1 473.2 41.5 471.7 40.1 471.4 39.9 472.2 38.0 473.4 36.9 474.1 36.2 475.5 36.0 476.0 34.9 474.9 34.0 475.0 32.8 475.9 32.7 476.4 32.3 478.4 31.8 480.9 32.8 483.4 34.2 483.7 36.1 484.1 36.1 484.3 36.9 483.7 35.6 483.6 35.2 483.8 36.2 485.0 37.0 485.0 39.0 484.5 40.0 484.0 40.4 483.2 40.5 481.4 41.2 480.6 40.8 479.8 39.9 479.7 40.0 479.9 39.1 480.1 39.4 481.0 37.9 481.1 38.1 480.9 37.7 482.3 38.2 481.3 36.9 480.1 36.3 479.4 35.6 479.0 34.5 479.2 34.6 480.1 33.9 480.4 34.3 480.9 35.4 482.7 36.5 481.8 36.9 481.4 36.6 482.7 36.5 483.3 35.1 483.3 34.2 484.5 34.4 484.8 32.7 485.2 33.6 485.9 32.8 486.1 34.1 488.0 34.5 489.2 34.9 489.7 35.7 489.1 35.2 488.6 36.2 489.3 37.1 490.0 37.5 489.1 38.3 489.2 38.7 489.2 39.9 488.6 40.1 488.1 40.0 487.2 40.0 486.1 38.6 486.4 39.1 486.3 37.0 485.6 36.7 485.5 36.3 486.3 35.8 486.1 35.6 485.6 34.6 486.8 34.7 488.1 33.5 488.8 33.6 487.5 34.1 487.7 33.6 487.7 35.4 487.5 34.5 488.2 36.0 488.9 35.4 489.9 36.1 491.0 36.0 490.9 35.3 492.2 35.2 492.4 34.2 493.9 33.2 492.8 34.0 493.2 33.8 494.0 34.1 493.5 35.9 493.9 36.9 493.1 36.0 493.4 37.2 494.7 37.1 494.0 36.7 495.0 36.9 494.6 37.8 494.6 40.0 494.2 40.1 493.1 41.6 492.2 42.9 491.3 43.5 491.0 43.2 489.7 42.0 488.9 39.8 489.3 39.2 491.0 37.9 491.5 37.2 491.7 36.0 490.9 36.2 493.1 36.1 493.5 36.3 495.3 36.1 494.8 36.8 494.3 37.2 496.2 36.7 496.5 38.2 496.7 37.8 497.5 37.3 497.9 38.0 497.8 39.8 496.8 39.3 496.9 39.4 496.2 39.6 495.5 40.1 497.2 39.9 497.7 39.4 498.4 38.6 499.9 39.3 499.2 40.4 499.0 41.3 497.3 42.2 498.7 42.9 498.6 42.2 499.2 41.6 498.5 40.9 500.1 41.6 500.8 43.0 499.9 44.0 499.7 44.7 499.4 44.7 499.0 44.5 497.6 44.9 495.9 46.0 494.8 46.0 495.0 45.2 494.4 45.1 493.1 44.5 493.6 43.3 494.3 42.8 494.9 42.0 496.2 41.2 497.1 41.6 496.7 40.9 498.4 39.6 499.3 39.6 499.7 40.0 499.4 40.9 499.5 41.5 500.8 42.7 501.1 43.5 500.7 44.3 501.0 45.5 501.4 45.8 502.8 47.1 502.9 47.3 503.4 47.7 503.0 47.5 503.0 48.2 500.0 49.5 499.7 49.7 498.4 49.8 500.0 50.0 500.2 48.0 500.3 47.7 500.9 49.3 500.9 49.2 500.8 49.3 501.2 49.7 500.9 50.4 499.7 51.8 499.3 52.2 499.2 52.0 498.2 51.0 498.1 51.3 498.4 50.9 498.5 50.7 499.2 48.8 498.2 48.3 498.2 47.9 498.3 46.3 497.4 46.6 496.9 46.7 499.0 45.4 499.0 43.7 500.4 45.3 501.8 45.2 501.3 46.0 503.6 47.3 504.6 49.0 505.8 50.4 505.5 51.7 505.9 53.0 505.9 52.9 503.8 53.9 503.3 53.7 502.3 53.5 502.9 52.4 502.5 53.2 502.0 53.9 502.6 54.8 502.0 55.0 502.2 54.8 500.7 55.6 501.8 54.2 501.0 54.4 501.0 55.1 500.2 54.4 499.9 55.4 500.0 55.4 499.1 56.0 497.5 57.3 496.6 59.2 496.5 59.3 494.8 59.9 495.0 58.6 494.7 57.2 494.5 56.6 494.5 54.6 497.1 53.1 495.9 51.9 496.3 52.3 496.9 52.6 499.1 53.9 499.7 55.2 500.2 53.8 500.8 55.3 501.1 56.0 500.0 55.6 500.1 55.3 499.9 55.1 500.7 54.2 499.7 54.3 501.3 54.1 499.7 55.2 499.1 56.3 499.2 55.6 500.0 57.1 501.2 57.1 503.6 57.2 503.3 58.3 503.1 59.6 501.9 61.7 500.2 62.8 499.9 63.4 498.3 64.7 497.8 64.0 496.9 64.4 497.6 63.9 496.9 63.1 496.6 64.8 496.4 64.3 495.1 63.9 493.9 62.4 492.9 62.1 494.5 62.3 494.5 61.3 494.2 61.3 495.0 60.9 494.2 60.0 493.6 60.3 493.3 60.1 492.7 60.0 492.3 59.8 491.7 59.6 491.0 57.6 492.2 57.1 492.8 56.4 495.4 57.2 495.8 59.9 497.0 60.8 498.0 62.2 498.4 62.8 499.1 62.1 498.8 61.5 497.9 62.0 498.6 62.0 498.7 63.1 498.1 62.3 497.6 63.0 495.3 62.4 496.1 63.0 495.6 64.0 496.3 65.3 497.4 66.1 498.0 66.7 497.2 69.4 496.5 68.2 495.1 68.7 494.2 68.7 492.6 68.2 491.7 66.5 491.9 67.3 491.7 65.6 490.4 65.6 489.7 66.0 489.4 65.8 489.7 64.9 488.0 62.5 488.9 61.7 490.4 61.9 491.7 60.9 494.0 61.9 493.6 62.5 493.8 63.4 492.4 63.4 490.7 64.6 491.2 65.1 491.9 63.7 491.9 63.7 491.2 64.4 493.6 65.0 494.1 64.8 493.8 66.0 494.4 66.0 493.8 67.3 494.0 68.9 495.3 67.8 495.5 69.3 494.9 69.7 495.5 70.3 495.9 71.1 494.6 73.3 492.8 72.7 492.1 74.4 490.7 74.6 489.7 74.1 487.5 73.3 486.5 73.0 485.5 72.5 485.3 71.6 484.6 71.1 483.6 68.8 482.9 68.1 484.5 67.2 484.5 66.4 485.7 66.9 486.9 66.2 487.7 66.5 487.6 66.5 487.1 66.4 487.2 67.3 487.6 66.3 487.3 66.7 487.3 66.4 487.7 68.1 488.6 67.3 487.3 67.2 488.3 67.4 488.4 66.7 489.6 65.2 490.4 66.4 490.7 68.1 490.7 69.6 491.0 69.7 491.8 71.4 491.7 72.2 491.0 71.5 490.8 71.8 490.5 73.6 489.7 75.1 490.0 75.8 487.8 77.1 485.0 76.9 485.0 77.1 482.7 77.6 481.5 77.4 481.4 76.1 480.9 75.6 479.7 74.7 480.8 73.9 480.1 72.9 480.6 71.8 480.6 72.5 480.3 71.8 480.7 72.9 481.4 72.8 480.9 73.8 480.6 74.3 479.8 73.6 480.6 72.7 479.7 73.3 479.8 72.9 480.0 71.9 481.6 71.0 480.7 70.0 480.0 70.5 480.1 72.1 479.0 71.2 478.8 71.1 478.7 70.0 479.0 69.9 480.0 69.9 482.2 70.9 482.7 69.6 482.8 71.2 482.8 72.7 483.5 72.9 482.6 72.7 483.6 72.7 481.9 73.5 481.1 74.5 480.5 74.7 480.0 76.1 478.3 76.4 479.1 76.4 479.3 76.0 478.8 75.2 478.0 74.6 477.8 74.1 478.9 74.9 478.9 74.5 479.1 75.8 479.3 76.2 478.9 76.2 479.1 76.1 478.2 74.8 478.3 75.3 478.2 74.4 478.7 75.3 478.1 76.2 477.4 76.7 477.0 76.8 475.2 76.7 472.9 78.0 473.4 77.0 470.9 75.6 470.3 75.4 470.7 75.8 470.7 73.8 470.4 73.6 470.4 72.6 471.4 70.3 471.9 69.6 473.0 69.2 475.1 69.4 476.0 70.3 475.2 71.7 474.7 73.1 474.3 73.8 472.4 73.0 470.7 74.2 469.2 74.6 469.2 73.5 469.2 72.1 469.0 72.2 470.8 72.2 470.5 71.4 469.5 71.0 469.1 69.9 470.4 69.5 472.0 69.2 473.7 67.8 473.9 67.9 474.9 68.4 476.3 69.0 475.8 69.5 473.6 69.8 472.6 71.0 471.5 72.0 471.7 72.4 471.9 72.5 472.8 72.6 472.1 72.9 471.0 73.5 472.0 72.5 470.6 72.1 470.2 70.7 470.2 70.4 470.0 69.3 469.8 71.3 470.8 72.5 471.8 71.8 471.8 72.4 472.8 73.3 471.0 73.9 470.6 74.7 468.9 74.6 468.4 73.5 467.2 72.7 466.3 72.2 465.9 72.7 465.5 72.4 465.8 71.4 464.3 71.0 463.1 71.4 463.3 69.4 464.3 68.5 463.6 66.5 465.0 64.5 463.8 66.0 465.1 67.0 464.8 68.0 464.8 68.9 465.7 68.9 465.0 68.5 465.2 67.7 464.7 66.9 465.4 67.2 465.7 67.3 464.8 66.5 463.8 66.5 463.3 66.1 463.2 64.9 463.4 63.7 463.2 64.0 464.2 62.9 465.6 62.7 466.2 64.3 466.6 63.7 467.3 64.6 467.7 65.9 468.3 65.5 470.0 65.4 470.3 66.0 469.8 67.3 469.3 67.5 468.9 69.2 466.1 69.6 465.6 70.5 462.8 68.8 462.6 68.5 464.0 67.7 464.2 66.6 465.0 67.4 466.0 68.1 466.0 68.6 465.0 68.5 464.5 67.4 463.5 67.3 463.6 66.6 462.5 65.9 462.9 66.1 460.7 65.4 462.2 65.0 461.3 66.9 460.2 66.8 460.7 65.7 459.6 66.7 458.8 65.6 459.3 63.2 459.1 61.1 460.5 60.5 461.1 59.5 462.8 58.7 463.8 59.4 464.9 59.0 464.7 59.3 465.3 59.3 464.7 59.7 465.6 58.8 465.9 61.1 465.6 61.2 467.2 61.5 466.1 61.0 467.9 63.4 465.7 64.6 465.9 64.8 464.2 64.1 464.3 63.4 464.2 62.6 464.7 61.9 466.3 61.1 466.0 60.7 466.0 60.9 466.5 61.6 466.0 63.1 464.8 63.9 464.0 63.6 463.8 63.8 464.2 64.0 463.0 63.1 462.4 63.9 461.7 64.9 462.0 64.6 461.0 64.3 460.7 62.9 460.6 61.7 458.8 59.8 459.0 58.2 459.0 57.9 460.0 56.1 462.1 55.8 463.8 56.6 464.5 57.3 464.5 58.0 462.5 58.3 462.0 57.3 460.9 57.7 460.5 57.0 460.5 56.0 461.2 55.9 462.1 55.9 463.4 55.4 463.7 55.0 464.3 55.1 465.8 54.6 465.4 55.2 467.2 53.9 468.0 54.4 468.6 53.5 469.3 54.3 468.6 54.5 469.3 56.7 470.2 56.9 469.3 58.3 469.6 59.5 467.4 60.7 466.5 60.0 466.0 60.5 465.7 59.8 465.7 59.3 465.3 59.9 465.6 59.2 464.3 59.2 464.2 58.1 463.3 58.8 463.8 58.3 463.2 57.9 463.0 57.0 462.4 56.0 460.7 54.9 462.4 56.0 463.7 55.4 462.4 56.5 463.3 57.0 461.7 57.2 460.9 57.2 461.0 56.5 460.6 55.8 461.1 54.8 461.5 53.8 461.8 53.5 461.8 53.7 462.5 52.8 462.8 52.3 463.4 52.3 465.2 50.6 465.5 50.8 466.8 47.9 467.7 48.8 468.8 48.2 468.8 49.9 469.7 51.8 469.8 52.0 469.8 54.0 471.2 52.0 469.1 52.8 468.3 53.3 468.6 54.2 468.2 54.8 468.3 55.5 468.6 56.8 467.9 57.7 467.4 56.7 464.1 55.7 464.7 55.5 464.3 55.7 464.1 55.0 463.7 54.7 464.1 54.2 463.9 54.2 464.3 54.0 463.4 53.3 462.8 52.3 462.2 51.2 462.0 50.8 462.5 49.9 462.7 49.4 464.6 49.7 464.7 48.3 463.8 49.1 463.9 49.2 464.5 47.5 465.6 46.2 465.7 45.6 466.3 44.9 465.8 45.9 466.7 45.2 467.8 46.2 468.9 46.6 469.1 46.8 468.6 47.2 469.4 45.6 469.9 46.0 470.9 46.7 472.3 47.7 473.9 49.0 473.7 50.8 473.0 54.2 471.5 52.4 471.2 52.2 471.1 50.6 470.4 49.9 471.2 49.5 470.0 50.3 470.5 50.0 468.3 50.9 467.2 52.4 465.1 52.2 464.9 51.6 463.0 50.7 465.6 49.3 466.3 47.9 466.0 47.3 466.6 46.7 466.1 45.5 465.6 43.8 466.4 43.5 466.0 43.3 465.4 42.7 466.8 41.9 468.9 41.1 469.9 40.3 469.6 41.0 471.0 41.2 471.1 41.8 471.4 41.9 473.3 41.0 473.7 41.4 474.1 42.8 474.8 45.6 474.2 46.3 474.3 46.3 474.5 46.9 472.7 46.0 472.8 47.0 472.1 46.8 470.3 46.1 470.6 45.3 471.0 46.8" fill="none" stroke="#00549F" stroke-width="0.95" stroke-linejoin="round" opacity="1.0"/><path d="M497.7 63.9 497.8 65.2 497.3 65.8 496.1 65.8 496.2 65.4 496.1 65.2 495.4 64.6 495.4 64.9 495.4 64.8 495.5 65.4 495.5 66.3 494.2 66.6 493.6 66.2 493.1 66.1 492.3 65.7 493.0 65.5 493.9 64.3 494.1 62.6 493.6 62.7 493.9 63.2 494.4 63.4 493.6 64.4 493.2 64.9 493.1 65.0 494.1 63.6 494.8 62.9 495.7 62.9 496.2 63.9 496.2 64.7 496.1 66.1 496.4 68.1 496.3 69.9 496.8 71.6 496.4 72.6 495.6 72.5 494.2 73.2 494.1 72.2 493.2 71.2 492.6 71.2 491.8 70.2 491.6 69.4 491.6 69.1 491.7 67.9 492.3 67.1 493.2 66.8 494.2 67.2 496.0 68.1 496.0 69.1 496.9 70.5 497.1 70.4 496.3 71.3 496.0 71.1 494.7 71.4 493.7 71.0 493.5 70.1 492.6 69.8 493.0 71.3 492.3 72.1 492.4 73.4 491.8 74.8 491.0 75.3 489.1 76.4 487.9 75.4 486.8 74.4 486.5 72.7 486.0 70.8 486.6 69.8 487.7 68.4 489.2 68.5 490.1 68.6 491.7 69.6 491.9 70.3 491.3 72.5 490.9 73.0 490.7 73.5 490.2 73.2 489.1 72.2 489.7 71.5 489.5 70.2 489.5 70.3 488.3 69.4 488.0 70.2 487.4 70.6 486.6 70.3 485.9 69.3 486.5 68.6 485.5 67.5 486.3 67.6 486.6 67.2 487.6 67.5 487.2 67.5 486.4 68.6 485.5 68.9 484.3 70.2 484.2 71.3 482.8 71.4 483.5 71.5 484.1 71.0 483.6 70.0 485.1 70.2 484.6 69.4 484.6 68.7 484.5 68.7 482.9 68.3 482.6 68.2 482.7 66.7 483.0 66.1 484.0 65.9 484.3 66.4 484.0 66.4 483.0 67.1 482.5 67.0 482.4 67.0 482.8 66.7 482.4 66.6 483.1 66.2 483.8 66.6 484.7 66.4 483.9 66.6 483.2 66.0 482.2 66.0 481.0 65.8 480.7 65.9 481.0 65.1 481.0 64.1 482.1 63.1 483.3 63.0 484.7 61.4 486.0 61.3 486.9 61.1 486.8 61.4 487.0 61.8 487.6 62.8 489.0 63.6 490.0 63.9 491.0 65.1 491.9 66.6 491.7 67.3 491.4 68.9 490.0 69.3 488.4 69.6 487.6 68.8 487.0 67.0 486.8 65.6 487.3 64.4 487.9 63.4 489.4 63.0 489.4 62.6 490.1 63.3 491.1 62.9 491.0 61.6 490.8 60.7 491.3 60.4 491.3 60.9 492.2 61.0 492.3 61.7 492.7 63.4 492.8 64.4 493.0 66.2 492.1 66.6 491.1 66.4 489.9 67.5 490.0 66.1 490.3 65.6 490.5 64.2 490.7 63.9 491.5 63.0 492.0 62.0 491.7 62.0 492.5 62.0 493.5 60.7 493.7 60.3 494.5 60.0 495.3 59.4 496.1 60.2 496.4 60.4 497.0 61.6 496.8 63.4 496.9 63.9 496.2 64.9 495.3 65.0 493.5 66.1 493.0 66.8 492.3 66.6 491.1 66.6 491.2 66.2 491.2 65.9 491.7 66.7 492.9 67.2 493.7 67.3 495.1 66.6 495.3 66.7 495.4 65.4 495.7 64.3 495.6 63.7 496.3 63.5 498.0 62.5 497.8 63.1 497.1 64.2 496.1 65.1 494.8 65.3 494.6 64.8 494.1 65.5 493.4 65.2 493.1 64.8 494.0 64.1 494.5 64.3 495.4 65.3 495.4 66.3 495.5 67.8 494.8 68.7 493.0 69.3 492.7 69.3 492.1 69.4 492.0 69.0 490.5 68.5 490.8 68.3 490.9 67.4 491.5 66.5 491.6 65.7 493.9 65.4 495.0 65.2 496.1 65.1 497.3 66.2 498.4 67.3 499.1 68.1 498.9 68.4 498.6 69.8 498.0 70.4 498.0 69.6 497.6 69.9 497.5 70.4 497.4 71.2 497.4 71.7 497.9 70.9 497.8 71.3 497.7 71.4 497.1 71.9 495.6 71.9 493.6 72.2 493.3 72.1 491.6 71.4 491.1 70.5 491.7 68.9 491.7 67.4 491.7 67.6 492.4 67.7 493.0 68.0 494.2 68.2 494.2 69.1 496.0 70.4 496.5 70.2 496.3 70.3 496.4 71.8 495.0 72.2 494.0 73.4 493.5 74.0 493.0 73.4 492.2 73.9 491.0 74.2 490.0 73.9 489.9 73.8 489.5 73.4 489.3 73.1 488.6 72.0 488.9 70.5 489.4 69.6 490.3 69.4 490.5 69.0 490.2 69.6 490.4 70.4 489.6 70.8 488.4 71.5 487.4 72.1 486.0 72.3 485.4 72.8 485.5 72.9 485.8 72.7 485.9 72.0 486.6 73.1 487.9 73.3 487.8 72.8 487.9 71.5 487.7 70.2 488.0 69.1 489.3 68.4 489.6 68.1 489.5 68.9 489.1 69.3 488.7 69.4 487.8 70.7 487.5 71.1 487.6 71.4 487.8 71.1 486.6 71.0 486.9 71.4 487.7 72.0 487.7 72.5 487.6 72.8 487.5 72.9 486.2 72.3 485.4 71.8 484.8 71.0 483.4 70.6 483.3 69.2 485.1 67.9 485.7 67.4 486.1 67.3 486.5 67.3 487.0 68.2 487.4 68.5 486.6 69.1 487.2 68.6 488.0 68.1 488.3 68.0 488.2 67.3 487.6 68.2 487.0 69.0 484.4 70.7 482.3 69.6 481.7 69.2 480.6 68.0 478.9 66.7 480.6 66.1 482.4 64.5 482.9 64.5 484.2 64.8 484.7 64.9 485.3 64.6 485.4 65.0 485.2 64.1 485.5 62.7 485.1 63.0 486.2 62.4 486.8 62.9 488.1 64.6 486.5 65.6 485.8 65.7 485.3 66.3 484.8 67.0 484.0 67.0 484.0 67.3 485.2 65.6 485.5 65.4 486.1 64.7 487.0 65.0 487.6 65.3 488.0 66.2 488.5 66.4 488.0 66.1 488.1 65.3 488.4 65.1 488.8 65.0 489.1 64.8 490.6 64.6 492.2 64.2 492.7 64.8 493.0 65.1 492.1 65.8 491.9 65.6 490.5 66.2 490.1 66.2 488.8 66.8 488.3 65.4 488.3 64.5 488.6 63.9 489.6 63.1 490.1 63.6 489.6 64.4 490.2 64.1 489.4 63.3 490.0 63.7 490.8 63.6 491.8 62.6 492.5 61.9 493.5 61.6 494.3 61.8 495.6 61.3 495.4 63.1 494.8 63.1 493.9 63.2 493.6 63.5 494.2 64.1 494.4 63.8 494.4 64.3 494.6 65.0 494.4 66.5 493.9 67.4 493.8 67.0 492.8 67.8 491.3 68.7 489.4 68.6 488.9 67.1 488.9 66.2 488.1 64.3 488.9 63.1 489.2 62.4 490.8 61.7 491.5 61.7 493.2 61.4 493.8 62.3" fill="none" stroke="#00549F" stroke-width="0.95" stroke-linejoin="round" opacity="1.0"/><path d="M482.8 36.2 484.4 37.6 483.9 38.0 483.9 38.1 484.2 38.9 484.6 37.9 483.9 38.1 484.5 38.5 484.9 37.2 486.0 37.1 486.0 37.0 484.3 37.2 482.4 37.3 482.4 37.6 480.9 36.7 479.7 36.4 479.9 35.6 480.7 35.3 480.6 35.3 482.7 35.0 483.2 36.5 483.9 37.8 484.6 38.2 484.5 39.0 483.8 40.1 482.9 39.3 483.3 39.9 482.8 39.2 483.0 39.5 482.4 39.4 484.0 40.1 484.3 41.0 484.5 41.1 483.9 41.2 484.2 41.5 484.3 43.0 482.6 43.9 481.3 43.8 480.3 44.7 479.1 45.0 478.2 45.3 477.9 44.6 477.1 45.1 477.2 43.7 478.2 42.1 478.6 40.9 479.2 40.7 478.3 41.2 478.9 41.3 480.4 41.9 479.9 42.6 479.2 43.3 479.7 44.9 478.7 44.0 478.7 44.6 480.2 45.1 480.3 44.8 480.8 44.7 481.0 44.4 481.7 45.6 481.4 45.5 479.7 48.0 479.3 48.6 477.0 48.9 475.5 47.9 474.1 47.9 472.2 46.0 471.9 43.3 470.8 43.0 471.6 41.0 472.2 40.6 471.8 39.3 473.3 41.0 473.4 40.4 473.3 41.7 473.8 41.6 474.9 42.6 475.3 42.6 476.1 42.1 477.1 41.6 477.0 42.3 477.0 42.5 477.1 43.6 477.0 44.7 476.4 46.2 476.1 46.5 475.3 46.4 474.2 45.8 472.9 44.8 473.0 44.7 473.0 44.4 473.6 43.2 473.0 43.4 473.4 42.9 472.6 44.4 472.9 44.2 471.1 45.5 470.9 45.2 470.8 43.9 472.6 43.1 473.3 43.6 474.4 43.4 475.3 43.8 474.8 45.2 474.0 46.6 473.4 46.6 472.0 45.8 471.9 44.7 470.7 42.7 470.4 42.5 470.4 41.1 470.8 42.0 472.0 41.3 471.7 40.7 472.5 40.8 472.6 41.9 472.8 41.3 473.4 41.9 473.6 41.1 473.9 41.1 473.5 41.3 473.5 41.8 474.0 42.3 474.2 42.9 473.5 42.8 473.0 42.7 472.4 42.1 470.5 41.0 470.2 39.4 469.5 36.8 471.9 36.2 472.2 35.7 472.8 34.4 472.6 35.2 472.2 36.4 472.2 37.1 472.1 37.9 472.6 38.2 472.6 38.1 473.8 37.1 474.7 37.7 476.3 39.0 476.5 41.3 475.7 43.1 474.4 42.9 472.4 42.4 472.2 42.4 471.7 39.5 472.6 39.0 473.6 38.2 474.5 38.2 475.1 39.0 475.6 39.9 476.0 39.1 475.7 37.6 476.8 36.8 477.7 36.0 478.5 35.5 479.5 36.4 481.2 36.0 480.6 37.7" fill="none" stroke="#00549F" stroke-width="0.95" stroke-linejoin="round" opacity="1.0"/>
<text x="432.5" y="28.900000000000002" text-anchor="end" fill="#222222" font-size="12">0</text>
<text x="432.5" y="68.5" text-anchor="end" fill="#222222" font-size="12">-150</text>
<text x="432.5" y="109.89999999999999" text-anchor="end" fill="#222222" font-size="12">-300</text>
<text x="435.2" y="122.9" text-anchor="middle" fill="#222222" font-size="12">0</text>
<text x="475.90000000000003" y="122.9" text-anchor="middle" fill="#222222" font-size="12">150</text>
<text x="514.6" y="122.9" text-anchor="middle" fill="#222222" font-size="12">300</text>
<text x="475.5" y="134.4" text-anchor="middle" fill="#222222" font-size="12">X-coordinate / µm</text>
<text transform="translate(399.8,74.7) rotate(-90)" text-anchor="middle" fill="#222222" font-size="12">Y-coordinate / µm</text>
<line x1="629.0" y1="23.6" x2="629.0" y2="103.8" stroke="#e7e7e7" stroke-width="1"/>
<line x1="589.0" y1="63.7" x2="669.0" y2="63.7" stroke="#e7e7e7" stroke-width="1"/>
<rect x="589.0" y="23.6" width="80.0" height="80.19999999999999" fill="none" stroke="#dddddd" stroke-width="1"/>
<path d="M627.9 35.5 627.2 35.0 626.7 35.7 627.4 35.8 626.3 35.9 626.4 35.8 625.8 34.7 625.6 35.0 625.4 34.3 626.0 34.2 626.0 33.8 626.6 33.1 627.1 33.7 627.2 34.4 628.3 35.0 627.4 35.9 627.3 35.5 626.7 34.5 626.1 34.9 625.3 34.6 624.7 35.1 623.6 35.3 623.1 34.5 623.3 34.6 624.1 33.0 624.5 31.9 624.9 30.6 626.0 30.4 626.2 29.8 627.3 29.6 628.2 30.0 629.3 29.5 629.5 29.8 629.4 30.6 629.2 31.0 629.4 31.1 629.1 31.2 628.9 31.0 629.6 31.0 630.0 30.7 630.1 31.5 631.1 32.1 631.2 32.5 631.5 32.5 631.4 33.0 632.3 32.4 632.2 32.5 632.9 32.4 632.5 32.7 633.1 32.7 633.7 32.5 634.3 34.0 635.1 34.5 635.5 35.3 634.8 36.1 634.8 36.6 633.6 36.7 633.2 37.3 633.5 37.3 632.9 37.4 633.1 37.0 632.3 37.0 632.0 35.2 631.1 35.1 630.9 34.6 630.6 35.0 631.1 34.4 631.6 34.1 632.5 34.0 633.1 34.2 633.6 34.8 633.3 34.9 633.7 34.8 632.4 34.7 632.7 34.7 633.4 34.7 634.5 35.1 634.6 36.1 634.8 37.7 633.8 37.1 632.9 38.2 632.4 37.9 632.8 36.8 634.0 35.6 634.8 34.3 635.6 35.2 636.4 36.3 637.1 36.9 636.7 38.2 636.9 38.4 636.5 38.9 637.1 39.1 636.5 39.6 636.9 39.8 635.9 41.1 633.9 42.1 632.8 42.4 631.7 42.5 631.0 42.3 630.8 41.0 631.8 40.8 632.4 41.0 632.5 40.5 631.7 41.3 631.1 41.3 631.0 41.2 631.3 41.0 632.1 40.5 632.3 40.8 631.9 41.4 631.6 41.8 630.8 42.1 629.4 42.1 629.0 40.9 628.5 39.7 630.0 38.5 630.2 38.0 630.7 38.1 632.0 38.3 632.4 38.9 632.0 39.9 632.1 39.8 632.6 40.1 632.4 40.5 633.5 40.8 633.7 41.8 633.6 42.8 632.4 42.6 631.3 43.2 630.2 42.9 630.2 43.2 630.5 43.1 630.8 43.8 631.2 43.9 631.6 44.3 632.4 44.5 632.5 44.6 633.1 44.8 632.7 43.8 633.4 44.3 633.6 44.3 633.2 45.2 633.0 46.6 631.9 46.8 631.0 47.0 629.5 47.1 628.1 46.9 628.0 45.7 628.4 46.3 629.2 47.2 629.3 47.6 629.5 48.1 628.5 47.4 628.3 46.8 627.9 46.2 628.2 45.2 628.5 44.6 628.9 44.7 628.9 45.2 628.8 45.7 627.6 46.8 626.4 46.3 625.9 46.1 625.6 45.3 625.6 45.5 626.7 44.6 627.0 44.2 627.6 43.9 628.2 43.5 627.9 42.7 628.9 41.7 629.0 41.9 629.4 41.7 631.5 43.0 632.7 43.4 633.1 44.8 632.7 46.5 632.7 47.0 631.6 47.8 630.8 47.4 630.2 47.4 629.2 47.6 630.5 46.5 629.9 48.6 630.1 48.2 630.7 48.0 630.6 47.1 629.3 47.2 628.7 47.7 629.3 47.5 629.0 46.9 629.2 47.6 628.8 47.6 628.8 48.2 628.7 48.9 628.9 49.6 627.7 50.0 627.5 49.6 627.3 50.4 626.3 49.2 625.4 48.7 624.9 48.9 624.3 48.5 624.1 47.8 623.4 48.6 623.0 47.3 624.2 47.0 624.0 46.2 624.0 45.5 624.5 43.7 624.2 42.7 624.3 43.0 625.2 43.1 625.3 44.1 625.2 44.6 626.0 45.4 626.2 45.5 626.1 46.5 627.7 46.4 628.0 46.9 627.7 47.0 626.4 47.1 626.4 47.5 626.5 48.6 626.2 48.7 626.9 48.2 626.1 47.9 625.5 47.3 625.6 47.1 625.2 47.1 625.7 47.6 625.8 47.6 625.0 48.6 625.1 49.3 625.1 50.6 623.8 50.4 624.0 49.9 623.6 50.4 623.4 49.9 623.0 50.2 622.4 50.3 621.8 50.0 621.1 49.9 619.8 50.2 619.4 49.9 618.8 48.9 618.8 47.9 618.6 46.8 618.9 45.8 619.7 44.5 620.4 44.5 621.0 43.9 621.7 43.1 622.2 43.4 622.5 43.6 621.6 43.8 622.7 43.6 623.1 44.8 624.6 45.2 624.1 46.0 623.8 47.5 624.0 48.7 624.2 48.9 623.6 48.4 623.2 49.0 622.7 48.5 623.4 47.7 622.4 47.9 622.2 47.6 621.7 47.9 620.6 47.7 618.9 48.1 618.3 47.8 617.5 46.7 617.5 46.4 618.3 45.7 619.2 44.7 619.9 44.8 620.7 45.7 621.3 46.5 620.0 45.6 619.8 44.6 619.2 44.2 619.3 44.2 620.5 43.0 620.9 42.1 621.7 42.2 622.8 43.0 623.0 43.3 622.5 44.2 622.0 44.5 622.1 45.5 622.0 45.3 621.7 45.3 622.2 45.1 621.8 44.3 621.7 44.5 621.7 43.5 621.9 43.5 621.9 43.2 621.5 44.5 621.8 44.3 621.5 44.5 621.3 44.3 621.0 45.3 620.9 44.8 620.2 44.7 620.5 44.2 619.9 43.8 620.0 44.5 619.4 44.5 618.5 43.6 617.6 43.8 616.7 44.0 616.9 44.1 617.2 43.1 617.6 43.1 618.1 42.0 618.4 41.5 618.0 41.8 618.3 41.0 618.0 39.7 618.9 39.0 618.6 39.4 619.5 39.2 618.6 39.7 619.2 40.3 619.2 41.1 619.0 40.4 618.5 40.6 619.5 39.7 619.7 39.8 620.2 39.7 620.5 40.0 620.7 41.6 621.0 41.8 620.0 43.4 618.8 43.4 618.7 43.1 617.1 42.4 616.7 43.2 617.3 41.8 616.8 41.7 617.2 42.1 616.4 42.5 615.7 41.9 615.5 40.2 613.5 40.9 613.5 39.1 613.8 38.9 614.6 38.1 616.0 37.4 617.3 36.4 617.9 37.0 618.5 37.4 618.2 37.8 617.7 38.5 617.7 38.4 617.3 38.6 617.5 37.7 618.3 37.3 618.4 36.1 619.7 36.0 619.7 35.2 620.4 35.7 620.1 35.8 619.3 35.2 619.9 36.1 620.6 34.8 621.8 35.7 622.7 35.8 624.0 37.3 623.3 38.3 623.6 40.6 623.6 41.4 623.5 42.8 623.1 42.7 621.1 42.5 619.7 42.5 619.4 41.0 618.6 40.0 617.9 38.6 618.3 37.9 618.0 37.4 618.2 36.4 618.1 36.3 617.3 36.8 617.4 36.8 617.5 35.9 618.4 34.7 618.6 34.1 619.3 33.8 620.4 34.1 620.5 34.7 620.8 34.3 620.1 34.1 620.3 34.0 619.3 32.7 619.2 33.1 619.2 32.9 620.3 32.0 620.9 31.9 621.4 31.8 622.0 31.2 623.0 31.7 624.0 31.5 625.1 32.4 625.6 32.8 625.4 33.6 625.0 34.8 624.1 35.6 624.3 35.9 623.6 36.8 623.3 37.8 622.8 37.2 622.2 36.7 622.9 36.7 622.4 35.4 622.3 35.8 622.6 35.3 621.7 33.8 621.5 34.4 621.4 34.2 621.0 34.2 620.7 34.7 620.8 35.0 621.4 34.4 621.8 34.1 621.9 34.4 622.4 34.7 621.8 34.9 621.3 34.6 621.5 34.0 620.7 33.2 620.8 32.2 620.6 30.6 621.2 30.6 622.1 29.3 622.4 28.4 623.4 28.8 624.3 29.2 625.6 28.8 626.4 29.9 627.1 31.7 628.1 32.3 627.4 32.8 627.8 33.4 626.4 33.2 625.9 32.8 626.4 33.8 626.0 33.1 626.2 33.8 626.1 33.8 626.1 34.0 626.4 34.9 626.5 34.6 626.8 34.7 626.3 34.8 626.6 34.0 626.9 33.7 627.1 33.3 628.4 33.3 629.0 33.9 629.6 35.0 629.2 35.6 628.9 36.1 628.5 36.0 627.5 36.7 627.2 36.3 626.3 35.8 626.2 34.8 626.5 34.8 625.6 34.8 625.1 35.1 624.5 35.7 624.7 34.3 624.9 33.6 625.0 33.2 625.7 32.0 627.8 32.0 629.1 32.4 630.1 32.2 629.1 34.0 629.1 34.7 628.9 34.0 628.8 34.1 628.5 33.6 628.5 34.1 628.7 33.3 629.0 33.4 628.8 33.2 629.4 33.8 629.0 33.4 629.2 33.4 629.8 31.4 631.2 31.9 632.2 32.1 633.7 33.3 634.6 34.5 634.6 34.9 634.3 35.6 633.4 36.7 633.7 35.7 634.1 35.4 633.3 35.7 633.1 36.7 632.4 37.5 631.1 37.8 629.8 38.1 628.9 37.3 628.7 36.6 628.9 36.3 629.8 36.1 630.2 36.1 630.5 35.1 631.2 35.5 631.5 34.0 630.6 34.4 630.6 34.3 631.3 34.6 630.6 35.4 630.3 36.2 630.9 36.5 630.4 36.0 630.7 36.0 630.3 35.1 631.2 33.2 631.9 32.7 633.0 32.6 634.5 33.2 634.0 33.4 634.1 34.7 633.1 35.7 634.4 34.8 635.1 34.4 635.8 35.0 636.8 35.2 637.5 37.0 635.8 38.1 636.2 38.2 635.6 37.8 635.4 38.2 635.6 38.1 636.6 37.7 636.6 38.4 636.3 39.7 635.9 40.9 635.9 41.2 636.5 41.5 636.8 41.7 636.7 42.3 636.3 42.9 636.1 44.0 634.6 44.0 633.8 44.7 632.5 43.9 631.8 43.4 631.9 42.8 632.2 40.9 632.9 40.9 634.2 40.3 633.7 40.6 634.1 41.2 632.7 41.4 632.9 40.7 632.6 41.0 633.0 40.5 633.3 41.2 633.4 42.1 633.3 42.8 631.8 42.6 631.8 42.6 631.1 42.2 630.9 41.9 630.8 40.3 631.7 39.2 632.1 38.9 633.0 38.9 632.6 39.6 633.2 39.1 633.6 39.1 633.1 39.4 633.8 39.8 635.1 39.3 635.4 41.0 636.0 40.8 635.5 42.5 635.0 43.7 634.2 45.3 633.5 46.0 632.6 45.5 632.0 45.3 631.7 45.9 631.5 45.8 631.4 45.6 631.3 45.2 631.0 44.6 631.6 44.4 631.4 45.5 630.8 45.2 630.8 46.0 630.6 46.4 630.7 46.9 631.0 47.4 630.0 47.4 630.4 48.5 630.2 48.4 629.5 49.0 628.5 49.3 628.0 48.7 626.5 49.3 626.8 48.1 625.5 48.0 624.8 47.1 625.1 47.2 624.4 46.0 624.6 45.3 625.2 44.7 625.3 45.1 625.8 43.7 626.8 44.0 627.8 42.7 629.1 42.4 629.8 41.3 630.8 42.0 631.4 42.7 632.1 43.8 631.8 45.8 631.0 47.4 631.1 48.2 630.7 48.5 629.9 48.1 629.7 47.8 629.0 48.7 629.5 48.3 628.9 48.5 628.8 48.7 628.2 48.8 628.1 48.3 627.4 48.1 627.4 47.1 626.7 46.9 627.2 46.6 627.5 46.8 627.4 47.5 627.0 48.7 627.2 48.3 626.9 49.3 626.1 49.3 626.1 48.6 625.6 48.7 625.9 49.1 626.6 48.8 626.4 48.9 626.0 48.9 625.5 48.0 624.9 47.9 624.4 46.9 624.4 46.8 625.2 46.1 625.6 45.5 626.1 44.7 626.8 45.1 626.6 45.8 626.7 45.4 625.7 44.9 625.7 46.1 626.5 45.2 627.8 45.0 628.1 45.5 628.9 45.6 628.4 46.5 628.3 47.3 627.2 48.2 626.6 48.3 625.7 48.7 626.3 49.2 625.3 49.5 625.0 49.2 624.4 49.6 624.5 50.2 623.8 50.5 622.9 49.6 622.2 50.1 621.4 49.4 620.7 48.3 620.0 47.3 620.4 45.6 620.8 44.7 621.5 44.8 622.3 44.4 622.1 44.3 623.5 44.2 623.2 44.8 623.8 45.2 622.9 46.0 624.1 45.3 624.5 45.7 625.8 44.9 626.3 45.7 626.4 46.6 626.5 47.7 626.2 47.7 625.6 48.2 624.2 47.4 622.9 47.0 623.0 46.5 622.6 46.2 623.1 45.9 623.3 47.4 623.3 47.0 622.7 47.4 623.1 46.8 622.1 47.9 622.5 48.5 621.9 47.9 621.3 47.6 620.9 47.9 621.0 46.3 621.0 46.5 620.3 45.8 619.8 46.1 619.8 46.6 619.5 45.7 619.2 46.5 618.5 45.9 618.7 45.2 618.2 45.5 618.2 44.5 618.1 44.1 618.1 43.0 618.4 41.6 619.2 41.7 620.0 42.4 620.7 43.1 620.9 43.3 620.9 44.8 621.4 45.2 621.4 45.0 621.9 45.5 621.3 45.4 621.6 45.1 621.5 44.6 622.0 44.5 622.0 45.1 622.5 46.5 621.6 47.1 620.2 48.5 619.1 49.2 617.9 49.9 616.8 49.0 617.3 48.3 617.5 47.0 617.7 46.1 618.2 44.7 617.1 43.2 618.0 42.7 617.4 42.7 617.7 41.8 617.6 41.6 617.1 41.6 618.1 41.4 618.0 41.0 617.9 41.4 618.8 41.2 620.0 41.6 619.1 41.6 619.5 42.0 619.1 41.6 619.2 41.8 619.5 41.3 620.2 40.9 621.4 40.6 621.4 40.6 623.3 40.3 622.7 39.7 622.6 41.3 622.9 40.6 623.3 40.8 622.6 41.1 622.3 41.0 622.8 41.5 622.8 41.7 622.9 42.6 622.7 42.8 622.0 43.3 621.0 43.3 619.8 43.4 618.9 43.7 617.3 44.3 616.7 43.7 616.9 43.0 616.7 41.7 616.5 39.6 617.0 40.3 618.1 38.9 618.1 38.4 617.7 38.9 619.1 39.3 618.8 38.6 618.5 37.9 618.0 37.4 618.2 36.9 617.7 36.7 618.1 36.1 618.9 36.6 619.1 36.6 619.0 37.0 619.1 36.5 618.5 36.4 619.0 35.2 618.9 35.8 619.1 35.1 619.5 34.4 619.8 34.4 620.8 34.7 622.2 35.3 623.2 36.3 623.5 36.9 624.6 37.7 624.4 38.8 623.8 40.1 622.2 40.4 620.7 40.5 619.5 40.6 617.1 40.1 616.7 39.1 616.3 38.4 616.3 38.6 616.7 38.1 617.0 36.6 617.4 36.8 617.9 36.0 618.1 36.8 618.0 36.7 617.7 36.0 617.6 36.0 618.5 36.3 618.6 36.6 619.2 36.8 618.1 36.5 618.6 36.1 617.6 36.0 618.5 35.8 618.2 34.7 618.9 34.4 618.6 33.8 619.3 32.6 619.7 31.9 619.6 32.8 620.1 32.1 621.5 32.2 621.8 32.1 622.1 32.8 621.8 32.7 622.1 32.8 622.9 33.0 622.0 33.6 622.1 34.4 621.7 35.4 621.8 34.7 622.0 34.5 621.9 34.2 622.9 34.8 623.5 34.0 623.7 35.1 623.3 35.1 624.0 35.9 622.3 34.9 623.4 34.9 623.5 34.5 624.1 34.8 625.1 34.5 625.4 35.6 625.8 36.0 625.1 36.5 624.0 38.1 623.0 37.7 622.4 37.6 621.0 37.1 621.4 36.2 621.7 36.2 621.7 36.3 622.7 35.4 622.8 35.1 622.7 34.1 622.5 34.0 621.9 32.3 622.2 31.1 623.0 30.4 623.9 29.6 625.0 30.0 625.7 30.7 626.2 31.3 625.6 31.9 625.0 32.4 624.9 32.4 625.0 31.8 625.1 31.2 625.5 31.0 625.9 32.2 626.2 32.7 626.6 33.4 626.4 33.0 627.1 32.2 627.0 31.6 627.7 30.8 628.4 30.3 629.1 30.2 629.1 30.9 628.8 32.0 628.5 32.5 628.1 33.3 627.5 33.0 627.3 33.0 627.4 34.3 627.9 35.4 627.6 35.8 627.0 36.4 626.1 36.3 625.0 35.9 624.9 33.8 625.1 33.4 625.8 32.8 626.4 32.9 626.7 33.4 626.4 33.4 625.5 34.1 625.1 33.6 625.4 33.9 625.7 33.9 627.0 34.5 627.2 34.9 627.5 35.4 627.4 34.5 627.4 34.5 627.6 32.7 627.9 31.3 629.2 30.4 630.3 31.1 631.8 32.6 631.3 32.9 631.8 33.6 630.8 34.2 630.1 34.3 630.8 34.8 630.9 35.0 630.9 36.2 630.9 36.5 630.6 36.6 629.6 37.1 629.4 36.3 629.2 35.3 629.9 35.2 630.5 35.1 632.9 36.5 632.6 37.1 633.5 37.9 633.0 39.0 633.2 38.9 633.0 39.6 632.5 39.4 632.7 39.8 632.0 40.2 631.3 41.1 630.5 41.7 629.7 42.4 628.0 40.9 627.1 40.1 627.4 39.0 627.6 38.3 628.1 38.4 629.5 37.2 629.9 37.4 629.9 36.9 630.2 36.9 630.4 36.8 631.2 36.4 631.7 36.8 631.9 37.3 631.8 38.6 631.3 38.3 630.7 38.2 630.1 38.4 628.9 37.9 629.6 36.9 630.1 36.9 630.6 36.4 631.2 35.8 632.9 35.4 632.4 35.4 633.0 35.8 633.3 36.3 633.5 35.5 634.3 35.9 635.6 36.0 636.7 36.5 637.6 37.6 638.1 38.9 638.1 40.1 637.1 41.9 636.6 42.1 635.8 42.3 635.6 42.0 635.4 41.9 634.9 42.3 634.7 42.1 634.2 42.1 634.0 42.1 633.1 42.8 633.1 43.2 632.7 42.9 633.1 42.5 633.1 42.3 633.4 41.5 633.8 41.9 634.4 42.7 634.7 42.7 634.5 43.8 633.6 43.7 632.8 43.8 631.4 43.4 630.3 43.3 630.4 43.1 630.4 42.9 630.3 42.5 631.4 41.8 632.3 42.0 634.7 40.8 634.8 41.1 635.6 40.0 635.0 39.8 635.9 39.7 636.7 40.1 637.1 40.9 637.5 41.3 637.4 42.5 637.4 43.0 636.9 44.7 635.9 46.3 635.2 46.2 635.5 46.6 634.7 47.1 634.1 47.0 634.1 47.3 633.6 46.8 633.6 46.3 633.7 46.2 632.9 47.1 631.7 48.1 631.5 47.0 631.4 46.1 632.5 46.6 633.5 46.7 633.7 47.3 633.2 47.7 632.9 48.7 632.5 48.5 631.4 48.9 631.1 48.2 629.7 47.6 629.2 47.0 629.5 47.1 630.1 48.1 631.4 48.3 630.5 49.2 629.9 49.1 629.6 48.0 629.3 47.1 629.2 45.8 629.0 45.1 629.1 44.8 629.7 45.4 629.7 45.8 630.7 46.9 630.7 46.8 630.6 46.4 631.2 46.5 632.1 45.8 632.3 45.8 632.7 45.7 633.2 45.7 633.1 47.2 632.8 48.3 632.1 49.8 631.3 50.0 629.8 50.4 629.2 50.9 629.2 49.8 627.8 50.2 628.8 49.3 627.0 49.2 627.1 49.1 625.8 49.1 625.3 48.8 624.1 47.7 623.8 47.1 624.0 46.2 623.8 46.0 624.3 45.6 624.9 45.7 625.4 45.8 626.5 45.9 626.4 45.7 626.6 45.9 626.2 45.7 626.2 46.2 626.5 45.8 626.3 45.5 628.2 44.1 627.6 44.9 627.5 45.4 627.7 46.2 628.1 46.0 628.3 47.4 627.8 47.8 626.8 48.9 626.1 49.2 625.5 49.5 624.8 49.7 624.8 50.1 624.3 50.0 625.1 50.4 625.4 51.2 624.8 49.9 625.3 50.7 625.1 50.8 624.7 49.9 624.2 49.5 622.7 49.1 623.0 47.2 622.2 46.5 623.1 45.1 623.5 45.2 623.4 45.8 623.6 46.0 624.0 45.7 624.8 46.5 623.4 46.4 623.3 46.7 622.6 45.8 622.4 45.1 622.2 44.1 622.7 43.9 624.1 43.0 624.3 43.1 624.4 44.1 625.1 45.1 624.8 45.9 624.5 46.6 624.3 47.5 624.0 48.4 623.7 47.9 623.2 48.0 624.2 47.6 624.4 48.8 624.6 48.6 624.9 49.0 624.3 49.1 623.2 49.4 621.9 49.3 620.3 49.2 618.8 48.4 617.9 46.8 617.7 47.0 618.0 46.0 618.4 45.1 618.2 44.9 619.1 45.1 618.5 44.5 619.9 44.1 619.5 43.5 619.8 43.1 620.0 42.4 620.4 43.0 620.7 43.5 621.7 44.1 621.7 44.6 621.3 44.8 621.4 44.7 620.4 44.7 620.9 45.0 621.2 44.3 621.4 43.4 620.8 42.5 620.8 42.6 622.2 42.6 622.9 43.5 622.4 44.0 622.3 44.4 622.1 45.3 623.1 45.5 622.9 45.8 622.6 46.0 622.6 46.4 622.3 46.8 620.7 47.2 620.9 47.4 619.2 47.9 618.4 48.0 617.4 47.8 615.8 47.5 614.6 47.0 614.2 45.2 614.7 44.2 615.6 43.1 616.7 41.7 617.1 41.0 617.2 42.3 617.2 42.7 617.5 42.4 617.9 42.2 618.8 41.6 619.1 41.6 618.8 41.4 619.1 40.8 619.5 40.2 620.0 40.1 620.2 40.7 620.4 41.6 620.3 42.3 620.3 42.3 620.4 42.0 620.1 42.0 620.3 41.5 621.2 41.2 621.2 40.7 621.7 41.1 622.0 41.2 621.7 41.7 621.4 42.4 620.8 43.3 620.3 43.3 619.6 43.6 618.4 44.6 618.2 44.9 618.1 44.4 617.4 42.4 617.3 42.1 617.2 41.2 617.5 39.7 618.3 39.6 619.6 39.3 619.4 38.4 619.8 39.3 619.4 39.0 620.0 40.1 619.4 40.0 619.5 40.4 619.5 40.6 619.5 40.1 619.1 40.5 618.6 38.8 619.0 38.0 618.8 37.9 618.8 36.7 619.0 36.3 618.9 36.0 618.6 37.0 618.2 36.8 618.3 36.4 619.0 35.7 620.3 36.0 621.0 34.8 621.9 34.6 623.1 34.3 623.3 34.9 623.2 36.0 623.0 36.4 623.4 37.8 623.1 38.0 622.7 37.3 621.4 36.7 621.8 36.7 621.6 36.7 621.5 36.5 622.0 37.0 622.3 37.7 622.7 37.6 622.8 38.3 622.2 37.8 621.8 37.2 621.8 36.3 622.1 36.0 622.2 36.3 621.9 36.0 621.4 37.6 622.1 38.3 620.8 38.8 620.4 38.0 619.6 37.7 618.9 36.5 618.6 36.0 618.0 35.2 618.5 34.5 618.5 34.4 618.3 34.6 617.2 34.7 617.1 33.4 617.2 33.8 618.6 33.5 619.3 32.2 620.6 32.3 621.3 32.5 621.9 31.9 621.9 31.8 621.9 31.5 622.3 30.8 622.2 31.1 622.9 31.6 623.4 30.8 623.8 31.3 623.8 31.8 623.5 32.5 623.0 34.2 622.3 33.4 622.4 33.2 622.6 32.6 623.6 32.5 625.2 33.0 624.9 33.5 624.8 34.7 623.8 34.9 624.0 34.9 622.8 35.2 622.7 35.1 624.0 35.9 623.9 36.8 623.8 38.0 623.2 37.8 622.4 36.8 621.4 36.1 620.5 34.9 622.2 34.0 622.5 32.6 624.4 33.0 625.1 32.9 624.9 33.3 624.4 32.8 624.5 32.4 624.5 32.2 624.6 33.4 624.5 32.9 623.7 33.6 624.0 34.0 622.5 34.0 622.5 33.6 622.8 31.9 623.7 31.0 624.9 30.3 626.5 30.0 627.9 30.5 628.7 31.8 628.7 32.9 628.4 34.2 628.0 34.3 628.1 34.0 628.5 33.3 629.0 33.7 629.0 34.1 628.7 34.7 627.7 34.0 627.8 34.6 628.1 33.9 627.8 33.5 628.5 33.5 629.4 32.9 630.2 34.3 630.1 34.4 629.2 35.3 629.1 36.4 629.2 36.2 628.3 36.1 628.6 36.7 627.9 36.4 627.6 37.4 627.1 37.3 625.9 37.3 625.1 36.8 624.6 36.5 624.3 35.1 625.1 34.2 626.4 33.3 627.3 32.7 627.5 32.6 629.2 32.8 629.2 33.0 629.9 33.1 629.5 32.7 629.4 32.9 630.3 32.3 630.8 32.2 630.0 32.5 629.2 32.8 628.7 31.8 628.5 31.9 627.5 30.9 628.0 30.2 629.0 29.2 629.0 28.3 630.2 29.1 630.7 30.8 631.8 31.3 632.5 31.6 633.0 32.6 633.4 32.5 633.8 32.9 633.8 33.6 634.9 35.3 636.0 36.5 635.0 38.0 634.5 39.5 633.4 39.7 632.4 41.5 631.2 40.3 630.9 39.9 630.8 38.5 630.3 38.6 629.5 38.6 630.1 39.4 630.0 39.1 629.7 39.1 630.0 39.3 630.3 37.6 629.8 36.9 630.4 36.6 629.8 36.7 629.6 37.2 630.2 37.6 629.9 38.5 630.2 39.4 630.3 39.8 629.3 39.9 629.1 40.0 628.7 39.2 628.7 38.2 628.3 38.4 628.9 37.6 629.5 37.9 630.1 37.5 630.7 36.7 630.0 37.3 630.4 36.7 631.0 37.1 631.8 36.8 632.7 36.9 633.1 37.0 634.7 37.9 635.4 39.3 636.0 40.3 636.2 42.1 635.0 42.3 634.3 42.2 633.8 43.1 633.0 43.3 633.6 42.2 633.8 42.8 633.0 41.9 633.5 42.6 632.5 42.8 632.1 42.0 631.8 41.6 632.1 40.6 632.5 40.2 632.9 39.3 633.4 39.8 634.1 39.9 633.8 41.2 633.1 41.8 632.1 42.0 631.8 42.0 631.2 42.3 631.5 42.6 632.1 42.1 631.7 42.1 631.5 42.1 631.5 42.2 631.9 42.7 632.3 42.9 631.6 43.3 631.1 42.3 631.4 41.6 632.4 40.7 633.1 41.7 633.9 42.6 634.9 42.8 634.8 43.0 634.8 43.0 634.7 44.1 634.1 44.0 633.0 44.2 633.0 45.0 634.1 45.4 633.9 45.5 634.4 46.5 634.3 46.8 633.8 48.9 632.6 49.0 632.5 48.9 632.5 49.2 632.7 49.2 632.7 49.4 632.0 49.0 631.5 49.4 631.9 49.9 631.4 48.9 631.6 49.1 630.6 48.9 630.1 47.6 629.4 46.8 630.0 45.3 630.8 44.5 631.8 43.4 632.7 43.5 633.3 45.2 633.4 45.4 633.4 46.0 633.3 46.3 633.4 46.8 633.1 46.2 633.1 46.8 634.0 47.4 634.3 48.7 634.2 50.0 634.2 51.7 633.6 53.2 632.8 54.9 631.4 54.7 630.2 55.1 630.1 54.3 628.7 54.1 628.3 52.9 628.8 52.1 628.4 50.9 628.7 50.5 628.9 49.4 628.2 50.1 627.8 50.3 627.9 49.9 626.8 49.6 626.4 49.2 625.8 49.2 626.6 48.4 626.7 48.0 626.6 47.9 627.2 47.8 627.8 47.6 628.3 47.6 628.1 48.4 628.3 48.4 628.3 48.8 628.3 48.8 627.4 48.8 627.5 48.2 626.4 47.5 627.2 48.0 626.9 48.3 628.0 47.7 628.2 48.5 628.2 48.7 628.0 48.6 627.2 48.7 627.9 48.6 628.2 48.5 628.2 49.0 628.3 49.3 628.0 49.3 627.2 50.3 626.1 50.8 625.0 51.5 624.1 52.5 623.6 51.7 623.0 51.7 622.3 51.4 622.2 50.8 621.3 49.4 621.7 48.2 621.8 46.9 621.3 46.1 622.1 45.0 622.3 44.8 622.9 43.6 622.6 43.8 622.7 43.8 623.2 43.4 623.8 43.2 624.6 43.8 625.0 44.7 625.8 44.8 626.1 46.0 626.2 46.7 625.7 47.9 626.1 48.6 626.2 48.5 625.8 48.3 625.8 47.0 625.5 46.4 625.4 46.2 624.7 46.3 624.4 46.4 623.5 47.2 622.8 48.3 622.5 48.3 622.4 48.5 621.7 48.8 622.7 49.2 623.2 50.0 623.2 50.4 623.2 50.9 622.0 50.9 620.8 51.0 620.4 50.3 619.4 49.8 618.7 48.4 617.7 46.5 618.7 45.3 619.0 43.8 619.0 43.2 620.1 43.2 620.6 42.4 621.4 42.0 622.3 42.6 621.9 43.9 622.1 44.7 621.2 45.3 621.3 45.3 621.3 44.8 621.7 44.9 621.7 44.0 621.4 44.5 621.2 44.8 621.0 45.4 621.0 46.7 621.9 45.4 620.9 45.1 621.7 44.6 621.8 43.5 622.1 43.1 621.9 43.0 621.9 43.3 622.2 43.8 622.7 44.6 622.5 45.3 622.4 45.4 622.2 46.5 621.4 46.8 620.4 46.6 618.9 46.1 618.2 46.3 616.5 45.3 616.7 44.7 616.4 42.9 616.2 41.8 617.1 40.9 619.4 41.7 620.6 42.0 621.1 42.6 621.5 43.7 620.9 44.2 620.1 45.0 619.7 45.6 619.0 44.6 618.3 43.6 618.6 42.1 617.5 41.6 617.2 40.4 617.2 39.9 617.8 39.2 618.4 38.9 618.2 38.3 618.0 38.8 617.3 38.7 618.1 39.0 619.4 38.9 620.3 39.3 620.8 39.1 622.5 39.4 622.5 39.3 623.2 39.6 622.6 40.2 622.4 41.6 621.5 42.3 621.4 42.3 620.9 42.7 620.7 42.6 620.7 41.8 621.5 41.1 620.8 40.4 621.2 41.4 619.8 41.6 619.3 42.0 618.4 43.1 618.5 42.9 618.8 43.1 618.7 42.4 618.5 41.7 618.6 41.7 618.9 41.8 618.7 41.7 618.4 41.7 617.6 42.0 616.9 40.9 616.7 40.9 616.1 39.9 616.0 38.7 615.9 38.4 615.9 38.6 615.9 39.0 615.9 38.6 615.5 37.2 616.0 36.9 616.8 35.5 617.5 34.5 619.1 33.7 620.2 34.3 621.1 35.2 620.9 35.8 620.8 35.7 621.1 36.6 620.5 37.1 620.7 37.2 620.3 37.9 620.8 37.4 620.7 37.7 620.5 37.8 620.3 37.4 619.5 37.0 619.9 37.0 619.7 35.5 619.9 36.5 620.6 36.3 622.5 37.9 623.4 39.0 623.2 40.5 622.5 41.5 621.7 40.5 621.3 40.0 620.1 40.1 620.0 39.5 619.9 40.3 619.0 39.2 618.5 39.2 618.4 38.0 617.9 35.9 618.6 34.2 619.4 33.4 620.5 33.5 620.6 33.9 620.0 34.5 619.1 35.2 618.9 35.5 619.2 35.3 619.1 34.7 619.9 34.2 620.6 34.6 620.6 34.4 620.3 34.8 620.6 33.5 620.8 32.9 621.5 32.2 622.1 32.4 623.6 30.9 623.9 31.0 624.5 31.8 624.9 33.1 624.6 34.3 624.5 34.9 624.3 35.5 623.9 36.0 623.6 36.1 623.6 35.9 623.7 36.2 624.4 35.0 624.0 34.9 624.0 34.1 624.2 33.7 624.8 33.7 625.0 33.9 626.0 34.6 625.6 35.9 625.2 36.8 625.1 38.0 623.6 37.7 623.4 37.0 623.8 36.9 623.5 36.6 623.6 36.9 622.7 36.5 622.2 36.1 620.9 35.0 620.2 32.8 620.6 32.1 619.8 31.6 620.9 30.3 622.5 30.5 623.0 30.4 623.7 31.9 625.2 31.9 625.0 31.3 625.4 31.3 625.9 31.8 625.9 31.1 625.9 31.5 625.0 31.7 624.9 33.2 624.5 33.2 623.7 33.0 623.8 32.4 623.1 30.6 624.5 30.4 625.0 29.5 625.7 29.4 627.1 29.0 628.5 29.5 628.8 30.6 629.4 31.4 630.6 32.5 630.6 33.7 630.7 34.5 630.4 35.1 631.5 35.3 630.8 36.3 630.8 37.1 630.9 37.0 629.1 37.1 627.7 37.2 626.3 36.9 626.2 35.6 626.5 35.6 627.0 34.9 627.6 34.2 627.2 34.6 628.4 34.3 628.3 34.3 627.9 34.2 627.6 34.9 628.3 33.3 628.5 33.0 629.0 32.6 630.6 33.1 630.5 33.9 630.6 35.3 629.2 36.7 628.8 37.2 627.1 36.5 625.9 36.0 626.2 34.1 626.6 33.5 626.7 33.3 628.0 32.9 628.9 33.9 630.6 34.0 631.0 33.7 631.6 33.6 631.4 33.3 631.7 32.4 633.0 32.5 633.7 32.5 634.6 32.6 635.3 33.3 636.1 34.7 635.4 36.4 634.6 37.6 634.4 38.6 633.2 38.2 632.5 37.2 631.7 37.4 631.7 37.3 631.5 37.2 631.8 38.0 631.0 37.7 630.2 38.4 630.1 38.5 630.7 37.6 630.7 37.6 630.9 37.1 632.3 36.3 632.6 36.3 633.4 35.2 633.3 35.4 633.6 35.5 632.6 34.8 632.8 35.4 633.0 35.7 632.4 35.5 632.4 36.2 632.9 36.7 632.9 36.6 632.6 37.0 632.1 37.5 631.9 37.3 631.9 38.4 632.5 38.4 632.8 37.5 632.6 37.8 633.9 37.7 634.3 38.2 634.2 38.6 634.6 39.0 634.1 39.3 633.3 39.6 633.5 39.2 634.5 39.5 634.0 40.1 634.8 40.8 635.3 41.8 635.9 43.1 634.5 43.6 633.3 43.2 631.0 43.2 629.9 42.5 629.5 42.0 629.2 40.9 629.3 41.3 629.1 41.6 629.8 42.3 629.5 42.3 629.2 42.9 628.8 42.2 628.8 41.2 629.0 40.1 629.4 39.1 629.9 38.0 630.6 38.7 631.5 38.3 632.8 39.2 633.2 40.5 633.5 41.3 634.4 41.9 634.5 43.0 634.1 42.4 634.3 43.2 634.3 43.1 634.9 43.1 635.0 44.0 635.9 45.3 634.8 46.3 634.0 46.9 633.0 47.5 631.8 48.3 630.4 48.1 629.7 47.4 628.5 47.6 627.8 47.3 627.9 46.7 628.1 46.6 628.5 46.0 629.1 45.4 629.0 46.1 629.5 45.9 629.7 45.7 630.2 44.9 630.9 44.3 630.8 43.4 630.8 43.5 631.2 43.9 632.6 43.6 633.1 44.4 633.5 44.9 633.5 45.3 633.1 46.3 633.7 46.7 631.9 46.9 631.3 47.1 630.9 46.0 630.8 45.8 630.5 45.4 630.7 45.7 630.9 46.6 630.8 46.9 631.2 47.8 631.3 48.6 631.5 49.9 632.3 50.6 632.1 51.0 632.5 51.9 631.8 52.8 631.3 53.6 631.6 54.2 630.6 54.2 630.0 54.6 629.4 55.0 628.5 54.9 626.8 53.7 626.5 52.7 625.3 50.4 625.4 49.3 624.6 48.3 625.2 47.8 625.8 46.8 626.8 47.6 627.4 47.4 628.1 47.4 629.4 48.0 628.7 47.9 629.3 47.6 630.1 48.1 630.3 48.1 630.6 48.4 630.2 48.8 630.5 49.8 629.7 51.4 629.9 51.5 628.9 53.0 627.8 53.5 626.7 53.5 626.8 52.4 627.4 52.3 627.5 52.1 627.8 51.9 628.3 52.5 628.4 53.2 628.6 53.9 629.3 54.3 628.9 54.4 628.1 54.4 627.1 54.6 626.6 54.4 625.5 53.9 625.6 53.2 624.5 52.3 623.9 53.0 622.6 51.7 622.6 51.4 622.2 50.4 621.6 50.4" fill="none" stroke="#8EBAE5" stroke-width="1.0" stroke-linejoin="round" opacity="1.0"/><path d="M621.8 57.0 619.9 56.7 621.4 56.5 620.5 55.6 621.0 56.3 621.5 57.0 621.4 57.5 620.4 57.6 618.8 56.6 618.6 55.7 618.5 54.3 618.5 53.3 619.1 53.5 618.7 53.3 619.6 52.9 619.9 52.5 618.3 51.8 618.3 52.0 618.0 49.8 618.5 49.8 620.6 49.2 621.3 49.7 622.2 51.0 623.3 51.1 622.5 50.9 624.2 50.8 623.4 49.5 622.7 49.0 623.4 48.8 623.5 49.2 624.2 49.4 624.5 50.3 627.2 50.9 627.6 51.0 628.2 51.2 628.7 51.5 628.2 49.9 628.0 50.0 626.9 50.0 627.3 50.9 626.9 52.0 627.7 52.5 626.0 53.3 624.9 53.8 625.1 53.8 625.3 53.7 625.0 53.8 625.4 53.1 626.5 54.1 627.1 53.7 625.4 52.6 623.2 52.2 622.0 50.5 620.5 49.4 620.8 48.9 620.7 47.9 621.6 45.4 622.1 45.8 622.7 44.2 624.8 44.6 626.8 46.2 626.9 44.8 626.5 44.4 626.4 43.4 627.0 43.1 628.1 42.4 628.9 42.5 630.5 43.7 631.2 44.3 632.2 46.6 632.7 47.0 632.9 48.7 633.0 48.7 632.5 47.5 633.6 46.4 632.6 45.1 632.7 45.2 633.0 46.3 632.8 47.3 632.7 47.7 632.3 48.1 632.2 48.8 632.3 49.6 633.0 49.3 632.5 48.2 632.4 48.9 632.7 48.2 632.7 48.9 632.1 48.8 630.5 49.3 629.1 49.0 628.9 48.8 629.6 48.2 628.9 48.0 628.4 47.6 628.3 46.4 628.4 46.9 628.2 46.2 628.5 45.4 628.2 43.9 629.5 42.3 630.1 42.2 631.2 41.0 632.6 39.2 633.5 39.2 633.8 40.5 634.4 40.3 635.7 41.2 635.2 40.7 634.0 41.3 634.1 41.6 635.6 41.6 635.8 42.2 637.1 42.4 637.3 42.0 637.9 42.1 637.3 41.8 637.5 41.2 638.6 39.8 638.0 40.2 639.0 40.7 638.9 41.1 639.5 41.2 639.5 42.5 638.9 43.9 638.9 44.5 637.1 46.1 638.2 46.2 637.2 44.6 636.2 43.8 636.1 42.6 635.1 42.8 635.0 44.1 634.8 44.6 634.6 43.8 635.4 42.8 635.3 41.5 635.6 40.0 635.7 39.7 635.4 39.2 636.5 39.0 637.3 39.1 637.4 40.2 637.7 39.5 637.6 39.6 637.4 37.9 637.0 37.8 636.6 37.6 637.7 36.7 638.9 37.7 639.5 37.2 639.6 38.0 640.0 37.0 640.2 37.1 641.8 35.5 642.4 35.0 644.5 36.0 645.9 37.8 646.7 40.1 646.6 43.1 646.1 43.6 643.7 45.6 642.3 45.8 641.7 45.0 640.6 43.3 641.2 43.0 641.5 43.0 641.1 42.7 641.2 41.4 639.8 41.5 639.4 40.5 639.3 38.3 640.9 38.1 641.3 38.5 641.4 40.3 642.2 40.8 640.5 41.6 640.9 41.1 638.8 40.6 638.2 40.6 638.5 39.1 639.3 37.9 640.6 36.9 643.2 36.2 644.4 36.5 645.9 36.2 645.8 36.1 646.2 34.8 646.0 35.9 646.1 36.6 646.5 37.0 648.0 38.4 648.2 40.4 648.8 42.2 647.3 44.7 646.9 42.6 646.8 42.4 645.5 42.0 645.9 41.3 646.1 39.7 645.5 39.5 645.3 39.7 645.8 39.6 645.8 39.6 645.5 40.5 644.2 38.5 643.2 38.4 643.3 40.4 644.3 38.2 644.4 39.1 644.5 39.2 643.4 37.4 643.1 38.0 642.6 37.0 643.8 37.7 644.9 35.8 645.2 36.4 645.7 35.5 646.7 35.9 648.2 37.1 649.2 37.3 649.9 38.6 649.8 38.7 650.7 38.3 651.5 38.6 651.7 39.7 651.1 39.8 650.5 40.6 648.3 41.5 647.2 41.6 647.2 42.1 647.9 41.1 647.9 40.8 649.1 39.9 649.7 39.9 651.2 41.4 651.7 40.1 650.4 41.7 649.5 40.7 649.5 41.6 649.0 40.6 649.3 41.2 647.9 41.8 647.5 41.3 648.1 40.8 648.5 41.4 647.4 40.5 645.5 40.5 645.9 39.3 648.0 38.2 649.2 38.0 651.7 37.4 652.7 37.8 653.0 38.8 653.2 39.7 652.5 40.4 652.2 40.5 652.3 40.4 651.9 39.5 651.9 39.4 651.6 40.3 651.9 40.7 650.8 42.6 651.2 43.1 650.0 43.4 651.1 41.9 652.1 41.6 653.4 40.6 654.9 40.6 655.5 41.1 656.1 43.5 655.1 45.0 653.9 46.6 651.4 46.5 651.5 46.2 650.0 44.4 649.6 43.5 649.9 42.2 650.0 42.0 649.7 42.6 649.0 42.4 649.5 41.2 649.1 41.8 650.7 42.3 650.7 41.3 652.2 41.2 654.1 40.5 653.9 41.1 656.0 42.5 655.6 42.9 656.2 42.5 655.3 42.7 654.0 42.8 654.7 43.3 654.8 42.4 654.5 42.8 655.4 43.2 657.1 43.6 656.8 43.7 657.3 44.7 657.0 43.2 657.0 43.5 656.4 42.9 656.7 44.1 658.1 45.0 659.0 47.1 659.1 47.9 659.4 49.9 659.3 51.2 657.5 51.6 656.7 51.6 654.9 51.5 654.4 51.3 653.4 49.2 653.7 48.3 652.8 47.8 652.7 48.0 651.8 47.7 652.3 46.8 652.6 46.5 652.4 46.3 652.7 45.2 652.6 45.7 652.8 46.0 654.1 44.7 654.9 45.4 655.5 45.9 655.3 48.2 655.9 48.8 655.6 50.0 654.6 48.8 655.5 49.9 653.3 48.1 653.5 46.8 654.2 45.8 655.5 46.0 656.4 45.5 656.6 45.6 656.8 46.4 658.5 47.4 658.2 47.3 657.8 49.5 658.4 49.9 659.7 51.5 659.1 51.1 659.7 52.3 659.9 52.9 659.1 53.0 658.4 54.5 659.7 56.0 658.7 56.1 657.0 56.5 656.6 56.9 655.1 57.5 653.9 56.1 652.3 56.9 652.3 55.7 652.9 56.2 654.3 56.3 653.3 56.7 653.7 56.6 653.9 56.3 653.4 54.7 652.5 55.1 650.9 55.6 651.3 54.1 651.8 53.5 652.5 53.8 652.7 54.1 652.0 54.5 652.1 54.1 653.8 54.8 652.7 54.1 652.6 53.1 652.3 52.2 651.9 50.4 652.0 50.6 651.5 50.9 652.2 52.0 652.9 52.0 654.2 52.1 655.1 52.6 656.2 52.7 657.9 53.6 658.9 54.8 657.6 56.3 658.1 57.8 657.3 58.1 656.2 59.0 655.5 60.0 655.5 60.6 655.5 60.3 653.8 60.1 655.8 60.9 654.9 60.6 655.1 61.2 653.8 60.3 654.6 60.8 654.1 61.2 654.0 61.2 654.2 61.4 654.2 62.2 651.8 62.0 651.5 62.3 650.2 62.0 648.9 61.0 649.8 61.1 649.4 62.4 649.0 62.1 648.0 62.3 648.2 61.6 647.7 62.3 648.0 61.4 646.9 60.0 647.1 59.0 648.1 59.0 648.2 58.8 649.7 58.0 650.9 56.9 650.9 58.0 652.8 58.0 652.4 58.9 653.3 58.8 654.5 61.2 652.7 61.2 653.2 60.2 653.4 61.5 653.1 61.7 652.8 62.4 653.1 61.9 654.0 62.1 653.2 61.9 653.2 62.8 651.7 62.0 652.6 63.9 652.8 64.5 651.9 64.8 652.9 65.3 653.5 65.5 652.6 65.9 653.3 66.5 652.3 67.5 650.4 67.5 651.2 68.3 650.0 69.1 648.9 68.7 647.3 68.8 646.3 70.1 646.1 69.9 645.7 70.4 645.7 68.4 645.4 69.5 646.1 68.8 646.3 67.6 647.5 66.7 646.5 66.6 647.2 65.6 647.0 66.1 646.2 65.9 645.3 66.4 644.8 66.9 643.6 66.5 641.9 66.4 641.9 66.9 641.9 66.0 642.7 66.5 642.9 66.5 642.9 65.4 643.5 65.5 642.7 63.9 643.3 64.2 643.4 64.3 643.7 63.6 644.7 63.5 646.0 62.0 647.4 62.4 648.5 63.1 649.1 65.2 648.1 66.1 646.7 67.5 647.3 67.8 645.9 68.6 645.0 68.5 643.9 67.2 643.3 67.5 644.7 68.1 644.3 66.5 644.5 65.8 644.2 65.6 643.8 65.3 644.0 66.0 644.0 67.3 643.8 67.6 644.5 67.2 644.7 67.6 644.2 68.4 644.5 68.3 644.6 68.5 644.4 70.1 644.3 70.7 644.1 71.4 643.4 72.4 642.4 72.9 640.7 73.7 638.9 73.9 637.4 72.5 637.8 71.9 637.0 70.0 637.2 68.4 635.2 69.2 636.1 68.6 636.1 68.7 635.9 68.2 636.2 68.9 637.1 68.2 637.2 68.3 637.3 67.5 636.7 67.5 637.1 67.1 638.3 67.2 637.3 67.4 637.6 67.0 636.4 67.7 637.3 67.2 635.9 67.6 635.9 66.2 635.0 67.4 635.4 67.0 634.3 66.8 633.1 66.7 633.4 66.2 634.2 65.3 635.0 64.9 636.1 65.7 636.8 66.4 639.1 66.0 640.5 66.5 640.8 67.2 640.6 67.5 641.3 67.8 639.9 68.9 639.3 69.8 639.5 70.2 638.2 70.0 639.0 71.0 638.6 70.7 638.3 71.8 637.9 72.5 636.9 73.0 636.5 74.7 634.8 75.7 633.4 76.2 631.6 76.0 631.7 74.5 631.3 73.5 630.6 72.1 630.8 70.9 630.7 69.9 631.1 69.5 631.2 69.9 631.1 71.2 630.5 72.6 629.3 72.2 629.6 73.0 628.9 73.0 628.4 72.3 628.6 71.6 628.9 69.6 630.2 70.3 630.6 69.2 631.2 71.2 630.2 70.3 629.5 71.7 629.7 70.7 628.1 70.5 627.4 70.0 627.2 68.7 628.7 67.8 629.2 66.6 628.2 68.1 628.4 68.1 629.7 68.8 630.5 68.7 630.7 70.1 629.4 71.4 630.0 70.5 629.5 71.9 628.9 71.8 629.5 71.4 630.5 70.3 631.4 70.3 631.3 71.1 630.6 71.2 630.7 71.3 630.0 71.3 626.6 72.8 625.7 71.6 625.4 71.0 622.8 70.8 623.8 70.7 624.3 69.6 624.9 69.9 625.7 69.3 626.1 70.5 626.3 70.2 625.4 69.8 625.4 70.5 625.0 70.6 624.6 70.7 625.7 69.7 625.4 70.5 626.2 70.1 626.0 69.7 623.9 70.2 623.4 70.0 621.9 69.8 622.2 70.6 621.0 70.2 620.6 68.2 620.9 66.3 621.3 66.0 622.1 65.0 624.3 65.4 625.3 64.7 625.0 65.7 624.8 65.6 624.0 65.1 624.7 65.1 624.8 65.7 626.4 66.1 626.5 66.2 627.0 67.0 626.1 69.0 624.7 68.7 624.6 68.0 622.7 68.7 621.8 67.2 621.1 67.0 621.6 67.7 621.4 67.9 622.4 67.8 622.9 68.9 622.6 68.6 621.6 68.2 620.6 67.3 621.3 66.3 622.3 65.3 621.4 66.0 620.4 67.5 621.2 67.5 620.9 68.1 619.9 68.3 620.4 67.5 618.8 68.3 618.6 67.0 618.8 66.4 618.3 65.8 618.4 66.4 618.8 66.7 617.9 64.8 618.2 64.5 618.2 62.6 619.1 62.1 619.0 61.7 620.7 61.6 621.1 62.1 621.1 62.6 621.5 63.3 621.5 62.7 621.6 64.0 622.2 63.3 624.1 63.1 622.8 62.7 621.3 63.9 621.7 64.9 620.0 65.0 620.2 65.6 620.1 65.3 619.5 65.8 619.6 66.0 619.9 65.9 619.8 65.3 619.2 66.2 618.5 66.2 619.0 66.7 618.0 66.1 619.1 65.7 619.2 65.7 618.4 65.7 618.8 64.9 617.0 64.9 616.7 64.0 616.0 63.8 615.5 62.9 614.4 62.5 614.6 62.9 614.5 63.1 615.0 62.0 614.9 62.3 614.6 60.5 614.0 60.8 614.3 60.0 616.0 59.8 615.8 59.1 617.7 60.0 618.4 59.1 618.7 57.4 617.8 57.2 619.4 58.0 619.8 56.2 621.0 57.3 622.6 57.2 623.1 59.0 623.1 60.0 623.3 60.5 622.7 61.6 623.1 61.3 621.0 60.6 621.3 60.8 620.4 62.5 619.3 63.7 618.3 64.4 616.8 64.7 614.3 63.8 614.2 63.5 614.6 62.0 614.4 61.9 614.7 61.4 614.8 60.4 615.3 59.9 615.0 60.2 614.4 59.7 613.5 59.3 613.9 57.5 614.0 57.1 615.0 55.4 615.7 55.8 617.0 56.4 617.2 54.6 617.6 55.6 617.7 56.0 618.0 55.2 619.1 54.6 620.8 55.3 620.3 54.2 620.7 55.0 619.9 56.7 620.6 57.0 620.0 58.9 619.9 58.4 621.1 58.8 620.9 59.3 621.3 57.7 619.4 57.5 620.2 58.2 619.8 59.4 619.5 59.3 620.4 59.5 620.7 60.1 620.4 59.3 619.7 60.2 619.4 60.2 619.5 59.8 618.0 60.0 618.1 59.8 616.8 59.0 616.7 59.6 617.4 59.4 616.7 58.4 615.3 58.6 614.4 56.5 614.2 56.2 613.7 56.9 614.7 55.8 615.5 55.0 615.8 54.6 616.0 53.2 616.0 53.7 617.3 52.2 616.1 51.0 616.8 50.4 618.0 50.6 619.5 49.5 620.8 48.4 622.5 49.4 621.5 50.7 622.7 53.5 622.3 54.5 623.7 55.3 623.8 55.7 624.2 57.0 623.5 58.8 622.6 59.7 621.6 58.5 620.9 58.1 620.9 56.0 619.5 54.9 619.5 55.8 619.3 57.0 619.9 58.8 620.2 58.0" fill="none" stroke="#00549F" stroke-width="0.95" stroke-linejoin="round" opacity="1.0"/><path d="M643.2 59.4 644.3 59.5 644.0 60.1 644.3 60.9 643.6 60.9 643.2 61.5 642.9 61.8 642.2 61.2 642.3 61.6 643.4 61.8 645.1 62.3 645.4 62.7 645.8 63.6 645.3 64.3 644.2 65.3 643.5 66.0 642.9 66.0 641.5 66.4 640.5 65.4 640.1 64.7 639.7 64.7 640.1 63.9 639.8 64.0 639.7 64.2 639.9 64.2 639.0 64.1 637.5 63.7 637.6 62.8 637.6 62.3 639.3 63.1 640.4 62.8 641.5 63.7 643.4 64.1 644.2 64.8 643.7 65.5 643.2 67.0 642.6 67.5 642.0 68.2 641.3 67.9 640.4 67.6 639.6 67.0 639.7 66.6 638.5 66.9 638.0 66.3 637.6 65.4 637.7 64.7 636.5 62.8 637.3 60.6 638.4 59.7 639.7 60.1 639.9 61.0 640.5 62.4 640.5 63.4 640.7 64.8 639.8 65.5 639.3 65.4 639.5 65.3 639.2 64.7 638.4 64.9 638.5 63.4 638.2 63.0 637.1 63.2 635.6 63.9 635.4 62.8 634.6 62.6 634.9 60.8 636.0 59.5 637.5 58.3 638.9 59.3 640.3 60.4 640.5 61.9 640.5 62.8 640.2 63.7 638.7 63.9 637.4 64.1 637.0 64.2 636.6 64.8 636.3 64.6 635.9 64.2 636.3 64.0 635.5 63.8 635.7 64.3 635.4 63.3 635.4 63.1 635.2 62.1 634.6 60.7 635.5 59.4 635.8 57.7 636.3 55.8 637.4 54.7 638.8 53.6 638.9 53.9 639.8 54.2 640.2 54.5 639.6 55.7 638.6 56.0 637.7 57.2 636.9 57.7 636.0 58.3 635.3 56.6 634.9 56.2 634.7 56.0 635.0 55.3 635.5 54.6 636.2 54.8 637.3 54.2 638.3 53.9 639.8 53.0 640.4 52.1 640.1 52.2 640.6 52.3 641.0 53.0 641.5 53.1 642.1 53.2 641.4 52.5 641.9 53.1 641.9 52.4 642.7 53.3 643.1 53.3 642.5 53.7 641.4 54.6 640.2 56.0 639.1 55.8 637.6 55.3 636.7 53.4 636.5 53.4 637.5 52.7 638.9 51.4 639.6 50.5 639.7 50.8 641.3 50.5 642.9 50.2 643.9 50.9 643.3 51.3 643.2 51.4 643.0 51.5 642.5 51.4 642.6 50.1 643.1 49.7 643.3 50.1 644.3 49.9 644.7 50.7 644.5 52.2 644.7 53.9 644.5 54.4 643.8 54.0 642.7 54.3 642.2 54.6 642.8 54.5 642.3 52.9 641.7 52.4 642.2 52.1 642.3 51.3 643.4 51.9 644.2 52.6 644.3 53.4 645.2 54.1 646.0 56.1 646.1 57.2 646.7 57.1 647.0 56.3 647.5 56.0 648.3 55.8 648.7 55.9 649.3 57.4 649.2 58.1 649.0 58.5 647.8 58.1 647.4 58.1 646.7 56.4 646.6 55.6 647.1 55.1 647.6 54.5 647.1 54.9 646.9 55.3 645.7 55.0 644.8 55.3 644.5 55.3 644.4 54.8 645.0 54.0 646.5 54.7 647.2 56.2 646.4 57.6 646.0 58.9 646.9 59.3 646.2 58.7 646.1 58.0 647.3 58.1 647.3 58.1 648.0 58.7 647.6 60.0 647.3 61.7 646.7 61.8 645.5 62.7 644.2 63.4 643.4 63.2 642.8 61.9 642.6 61.2 642.2 61.1 642.3 61.4 642.1 61.1 642.4 61.4 642.6 61.8 642.2 63.0 642.3 63.2 641.9 62.4 642.2 62.1 642.5 61.3 643.8 60.4 644.6 60.2 645.1 60.7 645.6 62.2 644.2 63.0 643.3 64.5 642.1 65.5 641.0 66.0 639.5 66.0 638.9 66.0 638.9 65.8 638.7 66.1 639.8 66.3 640.0 67.5 639.5 67.9 638.9 68.2 638.3 67.2 638.7 66.6 639.1 65.2 639.6 64.7 641.7 64.3 642.1 65.3 643.7 65.5 643.6 66.9 643.3 67.8 643.4 68.5 642.4 67.6 641.0 66.4 639.7 65.9 638.8 64.9 638.8 65.9 638.7 65.5 638.3 66.1 638.2 66.5 637.5 65.8 636.9 65.7 637.5 64.6 638.5 63.4 639.5 62.8 639.9 63.0 641.0 63.2 640.7 63.8 641.6 65.6 640.9 66.4 639.5 67.6 638.1 67.4 636.8 66.3 635.9 65.2 636.4 64.0 635.6 63.5 635.6 62.1 635.0 62.5 635.4 63.0 634.6 63.5 633.7 64.5 633.3 63.8 632.6 63.0 632.7 62.7 633.5 61.4 634.5 60.0 636.1 60.0 636.1 60.3 637.3 60.8 636.1 62.1 636.0 63.2 636.1 63.8 636.0 64.5 635.3 65.2 635.5 64.9 634.8 65.0 634.3 64.9 634.5 65.0 634.5 64.0 634.3 61.9 635.0 61.6 635.4 60.7 636.1 59.8 635.9 58.7 636.6 58.0 636.4 57.8 636.1 57.3 637.1 57.2 637.8 56.6 638.2 57.3 637.6 57.8 637.5 58.4 637.9 59.3 637.2 59.6 637.3 59.8 637.3 59.8 637.0 60.2 636.9 60.0 635.7 59.7 636.3 59.6 636.0 59.0 635.6 58.2 635.5 57.5 635.9 57.5 636.9 55.6 637.1 55.1 638.9 54.8 639.1 55.5 639.5 56.2 639.3 56.8 638.3 57.2 637.9 57.4 638.1 58.3 637.7 57.7 638.1 57.3 638.7 55.8 639.7 55.4 640.5 54.0 641.4 53.6 641.0 53.9 640.7 54.8 640.7 55.6 640.5 55.9 639.3 56.1 638.4 56.1 637.6 54.5 636.2 53.5 637.3 52.3 638.6 52.7 640.1 53.1 642.4 52.9 643.3 53.1 644.8 53.2 645.3 54.0 646.5 53.3 645.4 53.5 645.2 53.3 644.8 53.8 645.6 53.7 646.8 54.3 647.2 53.8 647.2 54.4 646.5 54.6 645.6 55.5 644.5 55.0 643.8 54.2 644.3 53.3 644.3 52.8 644.4 52.5 645.5 52.6 646.6 52.6 646.4 53.1 646.0 52.5 646.0 52.7 645.1 51.1 644.5 50.4 645.3 50.1 646.1 50.6 646.4 51.0 646.2 53.1 646.2 54.4 645.3 55.2 646.4 55.8 646.2 55.6 645.5 56.0 645.4 56.7 645.1 57.0 644.8 57.6 645.0 58.0 644.9 58.7 645.3 59.0 644.6 59.8 644.6 60.5 645.1 59.8 645.4 59.8 645.7 58.7 645.6 58.3 645.6 58.5 645.8 58.1 645.4 57.5 645.2 57.9 645.1 58.0 645.1 57.4 645.4 57.0 646.4 55.9 646.9 56.4 648.1 55.9 649.2 57.3 649.6 57.9 649.5 60.8 649.0 62.4 647.9 62.9 646.3 62.4 645.3 61.8 644.1 60.4 643.6 59.7 643.6 59.9 644.1 59.3 644.4 60.1" fill="none" stroke="#00549F" stroke-width="0.95" stroke-linejoin="round" opacity="1.0"/>
<text x="586.3" y="28.900000000000002" text-anchor="end" fill="#222222" font-size="12">0</text>
<text x="586.3" y="68.5" text-anchor="end" fill="#222222" font-size="12">-150</text>
<text x="586.3" y="109.89999999999999" text-anchor="end" fill="#222222" font-size="12">-300</text>
<text x="589.0" y="122.9" text-anchor="middle" fill="#222222" font-size="12">0</text>
<text x="629.7" y="122.9" text-anchor="middle" fill="#222222" font-size="12">150</text>
<text x="668.4" y="122.9" text-anchor="middle" fill="#222222" font-size="12">300</text>
<text x="629.3" y="134.4" text-anchor="middle" fill="#222222" font-size="12">X-coordinate / µm</text>
<text transform="translate(553.6,74.7) rotate(-90)" text-anchor="middle" fill="#222222" font-size="12">Y-coordinate / µm</text>
<line x1="298.02" y1="170.4" x2="298.02" y2="251.1" stroke="#e7e7e7" stroke-width="1"/>
<line x1="318.05" y1="170.4" x2="318.05" y2="251.1" stroke="#e7e7e7" stroke-width="1"/>
<line x1="338.07" y1="170.4" x2="338.07" y2="251.1" stroke="#e7e7e7" stroke-width="1"/>
<line x1="358.10" y1="170.4" x2="358.10" y2="251.1" stroke="#e7e7e7" stroke-width="1"/>
<line x1="378.12" y1="170.4" x2="378.12" y2="251.1" stroke="#e7e7e7" stroke-width="1"/>
<line x1="398.15" y1="170.4" x2="398.15" y2="251.1" stroke="#e7e7e7" stroke-width="1"/>
<line x1="418.17" y1="170.4" x2="418.17" y2="251.1" stroke="#e7e7e7" stroke-width="1"/>
<line x1="278.0" y1="190.57" x2="438.2" y2="190.57" stroke="#e7e7e7" stroke-width="1"/>
<line x1="278.0" y1="210.75" x2="438.2" y2="210.75" stroke="#e7e7e7" stroke-width="1"/>
<line x1="278.0" y1="230.93" x2="438.2" y2="230.93" stroke="#e7e7e7" stroke-width="1"/>
<rect x="278.0" y="170.4" width="160.20" height="80.70" fill="none" stroke="#dddddd" stroke-width="1"/>
<line x1="298.02" y1="251.1" x2="298.02" y2="253.90" stroke="#cfcfcf" stroke-width="1"/>
<line x1="338.07" y1="251.1" x2="338.07" y2="253.90" stroke="#cfcfcf" stroke-width="1"/>
<line x1="378.12" y1="251.1" x2="378.12" y2="253.90" stroke="#cfcfcf" stroke-width="1"/>
<line x1="418.17" y1="251.1" x2="418.17" y2="253.90" stroke="#cfcfcf" stroke-width="1"/>
<line x1="275.10" y1="190.57" x2="278.0" y2="190.57" stroke="#cfcfcf" stroke-width="1"/>
<line x1="275.10" y1="230.93" x2="278.0" y2="230.93" stroke="#cfcfcf" stroke-width="1"/>
<path d="M389.1 205.2 389.0 205.7 388.7 206.0 388.3 206.1 387.9 206.0 387.6 205.7 387.5 205.3 387.6 204.9 387.9 204.5 388.3 204.4 388.7 204.5 389.0 204.8 389.3 205.3 390.1 205.7 390.4 205.9 390.7 206.2 391.2 206.9 391.5 207.4 391.5 207.4 391.9 208.1 391.9 208.4 392.2 209.2 392.2 209.3 392.2 209.9 392.0 210.3 391.9 210.6 392.0 211.1 391.6 211.5 391.3 211.9 391.0 212.1 390.9 212.5 390.6 212.9 390.4 213.3 389.8 213.4 389.3 213.9 388.8 214.2 387.9 214.2 387.6 214.6 387.2 214.8 386.7 214.8 386.3 214.6 386.1 214.1 386.1 213.7 386.4 213.2 386.8 213.0 387.2 213.0 387.6 213.3 387.9 213.7 387.8 214.1 388.6 214.6 388.8 215.5 389.0 215.7 389.1 216.5 389.5 216.9 389.5 217.6 389.5 218.2 389.5 218.7 389.4 219.1 389.5 219.2 389.4 219.9 389.3 220.2 389.0 220.6 388.8 221.1 388.5 221.4 388.2 221.8 388.1 222.2 387.2 222.1 386.8 222.4 386.7 222.6 386.0 222.8 385.2 222.8 384.7 222.9 384.0 222.9 383.8 223.1 383.5 223.1 383.3 223.0 383.1 222.8 383.1 222.6 383.2 222.3 383.4 222.2 383.6 222.1 383.9 222.2 384.0 222.4 384.1 222.7 383.9 222.7 384.3 223.9 384.2 224.7 384.1 225.3 384.2 226.2 384.1 227.2 383.6 227.6 383.5 228.3 383.1 229.0 382.9 229.5 382.4 230.3 381.9 230.7 381.6 231.4 381.1 231.7 380.7 232.0 380.1 232.5 379.2 232.6 378.8 233.0 378.0 233.4 377.2 233.4 376.7 233.6 375.9 233.6 375.0 233.4 374.2 233.1 373.5 232.8 373.0 232.9 372.5 232.7 372.2 232.3 372.1 231.8 372.2 231.4 372.6 231.0 373.1 230.9 373.6 231.1 373.9 231.5 374.0 232.0 373.8 232.5 373.4 232.9 373.3 233.1 373.0 233.7 372.7 234.0 372.6 234.2 372.2 234.5 372.1 234.9 371.6 235.1 371.6 235.1 371.0 235.6 370.9 235.7 370.7 235.9 370.3 235.9 369.8 235.9 369.5 236.0 369.1 236.2 368.8 236.0 368.4 236.1 368.1 235.9 367.7 235.9 367.3 235.8 367.1 235.5 366.6 235.4 366.3 235.1 365.8 235.0 365.5 234.9 365.2 234.7 365.1 234.5 365.1 234.2 365.3 233.9 365.6 233.8 365.9 233.8 366.1 234.0 366.2 234.3 366.2 234.6 366.0 234.8 365.9 234.8 365.4 236.0 365.2 236.5 364.4 237.0 364.1 237.6 363.7 237.8 363.3 238.5 362.9 238.5 362.4 238.6 361.8 238.9 361.3 238.9 360.8 239.2 360.3 239.0 360.1 238.6 359.3 238.8 358.7 238.4 358.6 238.2 358.0 238.1 357.3 237.6 357.0 237.0 356.8 236.4 356.3 235.9 356.0 235.3 355.8 234.5 355.5 233.3 355.0 233.1 354.7 232.7 354.7 232.1 354.9 231.7 355.4 231.4 355.9 231.4 356.3 231.6 356.6 232.0 356.6 232.6 356.4 233.0 356.0 233.3 355.2 233.1 354.9 234.0 354.4 234.6 354.1 234.8 353.5 235.1 353.1 235.2 352.7 235.6 352.3 235.8 351.5 235.7 351.1 235.8 350.9 235.8 350.3 235.6 350.2 235.3 349.7 235.1 349.2 235.0 348.8 234.8 348.9 234.1 348.3 233.8 348.2 233.2 348.2 233.1 347.9 232.3 347.8 231.6 347.7 230.9 347.8 230.1 347.9 229.2 347.7 229.0 347.6 228.7 347.7 228.4 347.9 228.2 348.2 228.1 348.5 228.2 348.7 228.4 348.7 228.7 348.7 229.0 348.5 229.2 348.2 229.2 347.9 229.0 347.3 229.7 346.7 229.9 346.1 230.1 345.5 230.2 344.8 230.2 344.6 230.2 344.4 230.5 343.5 230.4 343.4 230.2 343.1 229.9 342.6 229.9 342.2 229.5 342.0 229.3 341.7 228.9 341.5 228.7 341.3 228.3 341.3 227.7 341.3 227.4 341.1 226.9 341.3 226.1 341.2 225.5 341.2 225.2 341.4 224.5 341.7 223.7 341.6 223.4 341.6 223.1 341.8 222.9 342.0 222.8 342.3 222.8 342.5 222.9 342.7 223.2 342.6 223.5 342.5 223.7 342.2 223.9 341.9 223.8 341.6 223.9 340.8 223.6 340.3 223.5 339.8 223.2 339.5 223.0 338.8 222.9 338.6 222.7 338.0 222.3 337.6 221.9 337.2 221.6 336.7 221.3 336.7 220.8 336.2 220.1 336.0 220.0 335.6 219.6 335.5 219.2 335.5 218.6 335.3 218.0 335.2 217.6 335.2 216.9 335.1 216.4 335.1 215.8 335.5 215.2 335.3 214.7 335.7 214.1 335.7 213.8 335.9 213.5 336.1 213.4 336.4 213.4 336.6 213.5 336.8 213.8 336.8 214.0 336.7 214.3 336.4 214.5 336.1 214.5 335.9 214.3 335.6 214.1 334.9 214.0 334.4 213.8 333.7 213.4 333.2 213.2 332.7 213.1 332.3 212.7 332.0 212.4 331.8 212.0 331.6 211.6 331.1 211.3 331.1 210.7 331.2 210.4 331.0 209.8 331.1 209.6 330.9 209.2 331.3 208.8 331.5 208.4 331.4 207.8 331.9 207.6 332.5 206.9 332.5 206.6 333.0 206.2 333.5 205.9 334.3 205.5 334.4 205.2 334.6 204.9 335.0 204.8 335.3 204.9 335.5 205.2 335.6 205.5 335.5 205.9 335.3 206.1 334.9 206.2 334.6 206.1 334.4 205.8 334.5 205.6 334.0 205.0 333.8 204.5 333.6 204.0 333.5 203.6 333.3 203.3 333.2 202.7 333.0 202.2 333.3 201.7 333.1 201.3 333.4 200.8 333.2 200.2 333.3 199.6 333.4 199.2 333.8 198.7 333.8 198.3 333.8 198.0 334.4 197.5 334.4 197.1 334.9 196.8 335.0 196.3 335.4 195.8 335.7 195.8 336.2 195.3 336.7 195.0 337.0 194.6 337.4 194.5 337.9 194.5 338.3 194.8 338.4 195.3 338.4 195.8 338.1 196.2 337.6 196.3 337.2 196.3 336.8 196.0 336.6 195.5 336.8 195.0 336.1 194.2 335.9 194.0 335.7 193.0 335.5 192.8 335.3 192.3 335.6 191.7 335.2 191.3 335.6 190.8 335.6 190.5 335.7 190.1 335.6 190.0 336.0 189.5 336.3 188.9 336.4 188.5 336.9 188.3 337.4 188.1 337.6 188.1 338.1 187.5 338.6 187.4 338.8 187.6 339.5 187.2 340.1 187.7 340.4 187.3 341.4 187.6 341.8 187.3 342.3 187.3 342.7 187.5 343.0 187.9 343.0 188.4 342.8 188.9 342.4 189.1 341.9 189.2 341.4 188.9 341.2 188.5 341.2 188.0 341.3 187.5 341.0 186.8 341.1 186.4 341.2 185.3 341.1 184.9 341.4 184.3 341.7 183.9 341.7 183.3 341.9 183.0 342.4 182.6 342.6 182.1 343.2 181.9 343.4 181.3 343.7 181.1 344.0 180.7 344.6 180.7 345.0 180.5 345.5 180.4 346.1 180.1 346.4 180.2 347.0 180.2 347.5 180.1 348.1 180.1 348.7 180.6 349.4 180.8 349.9 180.7 350.4 180.9 350.8 181.3 350.9 181.9 350.7 182.4 350.3 182.8 349.8 182.9 349.2 182.7 348.9 182.3 348.8 181.7 349.0 181.2 349.3 180.6 349.2 179.9 349.5 179.7 349.7 179.2 349.9 178.8 349.9 178.5 350.3 178.2 350.5 177.7 350.8 177.4 350.9 177.2 351.2 176.9 351.5 176.9 351.7 176.8 352.2 176.6 352.4 176.7 352.7 176.5 353.3 176.4 353.6 176.5 354.0 176.6 354.2 176.8 354.6 176.9 355.1 177.0 355.5 177.5 355.7 177.6 356.1 178.2 356.7 178.2 357.1 178.5 357.4 179.0 357.3 179.6 357.0 180.1 356.5 180.3 356.0 180.3 355.5 180.0 355.3 179.5 355.3 178.9 355.6 178.4 356.1 178.3 356.3 177.4 356.7 176.8 356.9 176.2 357.3 175.7 357.4 175.5 357.8 175.0 358.1 174.8 358.4 174.5 358.8 174.5 359.3 174.1 359.6 173.9 360.0 174.0 360.2 173.8 360.7 173.9 361.1 174.0 361.5 174.0 361.9 174.5 362.2 174.8 362.6 174.8 362.9 175.4 363.1 176.1 363.5 176.1 363.8 176.9 364.1 177.7 364.5 177.8 364.7 178.2 364.8 178.6 364.6 179.0 364.3 179.3 363.9 179.4 363.5 179.2 363.2 178.9 363.2 178.4 363.3 178.0 363.7 177.8 364.2 177.9 364.3 177.0 365.1 176.7 365.4 176.6 365.8 176.2 366.3 175.6 366.7 175.8 367.4 175.6 367.7 175.6 368.1 175.4 368.6 175.6 369.3 175.8 369.4 175.6 370.0 176.0 370.5 176.2 370.6 176.2 371.1 176.5 371.7 177.0 371.9 177.2 372.1 177.8 372.3 178.2 372.6 178.6 372.9 179.1 373.4 179.5 373.3 180.4 373.5 180.6 373.6 180.9 373.6 181.3 373.3 181.5 373.0 181.6 372.7 181.6 372.5 181.3 372.3 181.0 372.4 180.7 372.6 180.4 372.9 180.3 373.2 180.3 373.8 180.2 374.6 180.3 375.2 179.9 376.0 180.4 376.6 180.5 377.1 180.6 377.6 180.9 378.2 181.0 378.8 181.2 379.0 181.6 379.7 181.7 380.1 182.2 380.6 182.4 381.1 182.9 381.3 183.5 381.9 183.9 382.0 184.6 382.4 184.9 382.7 185.3 383.1 185.9 383.1 186.6 383.2 187.3 383.5 188.0 383.4 188.6 383.5 188.9 383.5 189.3 383.3 189.6 382.9 189.7 382.6 189.7 382.3 189.4 382.2 189.1 382.2 188.7 382.4 188.5 382.8 188.3 383.1 188.4 383.5 188.7 384.2 188.3 385.0 188.2 385.5 188.1 386.1 188.1 386.4 188.2 386.8 188.3 387.3 188.3 387.7 188.4 388.0 188.5 388.5 188.7 388.3 188.9 388.6 189.3 388.8 189.7 388.7 189.9 389.1 190.1 389.1 190.5 388.8 191.0 388.7 191.3 388.6 191.7 388.3 192.1 388.0 192.7 387.8 193.1 387.3 193.6 386.8 194.3 386.8 194.5 386.7 194.8 386.5 195.0 386.3 195.0 386.0 194.9 385.8 194.7 385.8 194.4 385.9 194.2 386.1 194.0 386.4 193.9 386.6 194.0 386.8 194.4 387.6 194.5 387.9 194.8 388.5 194.9 388.9 195.4 389.5 196.1 389.6 196.3 390.1 196.8 390.2 197.2 390.4 197.5 390.8 197.8 391.0 198.5 391.0 199.0 391.1 199.6 391.1 200.0 391.2 200.6 391.2 201.1 391.4 201.5 391.0 202.1 390.8 202.6 390.5 203.4 390.4 203.7 390.2 204.2 389.7 204.8 389.1 205.2" fill="none" stroke="#00549F" stroke-width="1.1" stroke-linejoin="round" opacity="1.0"/>
<text x="273.2" y="195.6" text-anchor="end" fill="#222222" font-size="12">0</text>
<text x="273.2" y="235.6" text-anchor="end" fill="#222222" font-size="12">-300</text>
<text x="298.02" y="269.0" text-anchor="middle" fill="#222222" font-size="12">-300</text>
<text x="338.07" y="269.0" text-anchor="middle" fill="#222222" font-size="12">0</text>
<text x="378.12" y="269.0" text-anchor="middle" fill="#222222" font-size="12">300</text>
<text x="418.17" y="269.0" text-anchor="middle" fill="#222222" font-size="12">600</text>
<text x="363.6" y="280.4" text-anchor="middle" fill="#222222" font-size="12">X-coordinate / µm</text>
<text transform="translate(245.9,220.6) rotate(-90)" text-anchor="middle" fill="#222222" font-size="12">Y-coordinate / µm</text>
<line x1="528.73" y1="170.4" x2="528.73" y2="251.1" stroke="#e7e7e7" stroke-width="1"/>
<line x1="548.75" y1="170.4" x2="548.75" y2="251.1" stroke="#e7e7e7" stroke-width="1"/>
<line x1="568.77" y1="170.4" x2="568.77" y2="251.1" stroke="#e7e7e7" stroke-width="1"/>
<line x1="588.80" y1="170.4" x2="588.80" y2="251.1" stroke="#e7e7e7" stroke-width="1"/>
<line x1="608.83" y1="170.4" x2="608.83" y2="251.1" stroke="#e7e7e7" stroke-width="1"/>
<line x1="628.85" y1="170.4" x2="628.85" y2="251.1" stroke="#e7e7e7" stroke-width="1"/>
<line x1="648.88" y1="170.4" x2="648.88" y2="251.1" stroke="#e7e7e7" stroke-width="1"/>
<line x1="508.7" y1="190.57" x2="668.9" y2="190.57" stroke="#e7e7e7" stroke-width="1"/>
<line x1="508.7" y1="210.75" x2="668.9" y2="210.75" stroke="#e7e7e7" stroke-width="1"/>
<line x1="508.7" y1="230.93" x2="668.9" y2="230.93" stroke="#e7e7e7" stroke-width="1"/>
<rect x="508.7" y="170.4" width="160.20" height="80.70" fill="none" stroke="#dddddd" stroke-width="1"/>
<line x1="528.73" y1="251.1" x2="528.73" y2="253.90" stroke="#cfcfcf" stroke-width="1"/>
<line x1="568.77" y1="251.1" x2="568.77" y2="253.90" stroke="#cfcfcf" stroke-width="1"/>
<line x1="608.83" y1="251.1" x2="608.83" y2="253.90" stroke="#cfcfcf" stroke-width="1"/>
<line x1="648.88" y1="251.1" x2="648.88" y2="253.90" stroke="#cfcfcf" stroke-width="1"/>
<line x1="505.80" y1="190.57" x2="508.7" y2="190.57" stroke="#cfcfcf" stroke-width="1"/>
<line x1="505.80" y1="230.93" x2="508.7" y2="230.93" stroke="#cfcfcf" stroke-width="1"/>
<path d="M612.0 204.4 612.0 204.6 611.9 204.7 611.7 204.7 611.6 204.7 611.5 204.6 611.4 204.5 611.4 204.3 611.5 204.2 611.7 204.1 611.8 204.2 612.0 204.3 611.8 204.5 612.4 205.0 612.4 205.4 612.9 205.6 613.0 206.3 612.8 206.6 612.9 207.0 613.4 207.4 613.3 207.6 613.2 208.2 613.4 208.7 613.3 209.1 613.0 209.6 613.1 209.9 613.0 210.3 612.8 210.9 612.5 211.2 612.4 211.4 612.3 211.9 612.0 211.9 611.7 212.6 611.1 213.0 611.1 213.1 610.7 213.5 610.1 213.9 610.0 214.1 609.8 214.2 609.6 214.1 609.4 214.0 609.3 213.8 609.3 213.6 609.4 213.4 609.6 213.3 609.8 213.4 610.0 213.5 610.1 213.7 610.2 214.0 610.2 214.2 610.5 214.6 610.5 214.9 610.6 215.7 610.7 215.8 610.4 216.0 610.7 216.4 610.6 216.6 610.4 217.0 610.3 217.2 610.2 217.6 609.8 218.0 610.1 218.2 609.7 218.3 609.4 218.6 609.4 218.9 609.0 218.9 608.8 219.2 608.7 219.5 608.2 219.9 608.1 219.8 607.4 220.1 607.2 220.1 606.8 220.1 606.5 220.3 606.2 220.3 606.0 220.2 605.8 220.0 605.7 219.7 605.8 219.4 606.1 219.2 606.4 219.2 606.7 219.3 606.9 219.5 606.9 219.8 606.7 220.0 606.8 220.9 606.9 221.6 607.0 222.1 606.9 222.6 606.7 223.2 606.5 223.6 606.4 224.3 606.2 224.6 606.1 225.2 605.6 225.7 605.0 226.0 604.9 226.6 604.4 226.9 604.1 227.0 603.7 227.3 602.9 227.7 602.6 227.7 601.9 227.9 601.6 228.0 600.8 228.0 600.5 228.4 599.7 228.1 599.3 228.2 598.5 227.8 598.4 227.9 598.3 227.8 598.2 227.7 598.2 227.6 598.2 227.5 598.3 227.4 598.4 227.4 598.6 227.4 598.6 227.5 598.7 227.6 598.6 227.7 598.7 227.8 598.5 228.4 598.5 228.8 598.2 229.2 598.3 229.4 597.9 229.8 598.1 230.2 597.6 230.6 597.6 230.7 597.3 230.9 597.1 231.1 596.8 231.2 596.6 231.4 596.3 231.4 595.8 231.5 595.7 231.5 595.7 231.5 595.1 231.5 594.6 231.4 594.5 231.3 594.3 231.3 593.9 230.9 593.6 230.6 593.1 230.5 592.9 230.1 592.6 230.0 592.4 229.9 592.3 229.7 592.3 229.4 592.4 229.2 592.6 229.1 592.9 229.1 593.1 229.3 593.2 229.5 593.2 229.7 593.1 229.9 592.7 230.1 592.6 230.5 592.3 230.8 591.9 231.2 591.3 231.4 591.0 231.8 590.5 231.8 589.9 231.8 589.4 232.1 589.3 232.0 588.9 232.2 588.3 232.2 587.7 232.2 587.4 232.0 587.0 232.1 586.4 232.0 586.1 231.9 585.8 232.0 585.2 231.6 584.9 231.3 584.3 231.1 584.1 231.0 583.6 230.4 583.3 230.4 582.9 229.9 582.5 229.7 582.3 229.4 582.3 229.0 582.4 228.6 582.8 228.3 583.2 228.3 583.6 228.5 583.8 228.8 583.8 229.3 583.7 229.6 583.3 229.9 583.0 230.2 582.4 230.1 582.1 230.5 581.5 230.7 580.8 230.8 580.4 230.9 580.1 230.8 579.5 230.9 579.1 230.5 578.7 230.8 578.2 230.6 577.8 230.6 577.4 230.1 576.9 230.2 576.5 230.0 576.2 229.7 575.6 229.2 575.6 228.7 575.1 228.7 574.8 228.1 574.6 227.6 574.3 227.4 574.2 226.7 573.9 226.2 573.8 225.6 573.7 225.4 573.6 225.2 573.7 224.9 573.9 224.7 574.2 224.7 574.4 224.8 574.6 225.0 574.6 225.2 574.6 225.5 574.3 225.7 574.1 225.7 573.9 225.7 573.3 225.9 573.1 225.9 572.7 225.8 572.3 225.7 572.0 226.0 571.9 225.7 571.6 225.6 571.2 225.5 571.0 225.1 570.7 225.3 570.6 225.4 570.4 224.7 570.3 224.7 569.9 224.4 569.9 224.4 569.5 224.2 569.4 223.8 569.6 223.6 569.3 223.0 569.2 223.0 569.1 222.5 569.1 222.2 568.9 221.9 569.2 221.5 569.2 221.4 569.2 221.3 569.2 221.1 569.4 221.1 569.5 221.1 569.6 221.2 569.7 221.3 569.6 221.4 569.6 221.5 569.5 221.6 569.3 221.6 569.0 221.5 568.8 221.3 568.1 221.3 567.6 221.1 567.2 220.8 566.8 220.4 566.5 220.2 566.0 219.6 565.5 219.5 565.1 219.2 565.0 218.9 564.7 218.3 564.4 218.0 564.1 217.6 563.7 217.2 563.8 216.7 563.6 216.1 563.7 215.4 563.5 215.2 563.4 214.7 563.2 214.1 563.4 213.7 563.5 213.1 563.5 212.6 563.7 212.1 563.7 211.8 563.9 211.6 564.1 211.5 564.3 211.5 564.5 211.6 564.6 211.8 564.6 212.1 564.5 212.3 564.3 212.4 564.1 212.4 563.9 212.3 563.8 212.1 563.6 211.8 562.8 211.6 562.7 211.3 562.4 211.0 562.2 210.7 561.9 210.4 561.9 210.0 561.8 209.9 561.5 209.8 561.5 209.1 561.2 208.7 561.2 208.6 561.3 208.1 561.1 208.1 561.2 207.5 561.4 207.1 561.3 206.8 561.5 206.5 561.5 206.1 561.7 205.9 561.8 205.5 562.2 205.2 562.4 204.9 562.7 204.5 562.7 204.5 562.8 204.4 562.9 204.4 562.9 204.4 563.0 204.5 563.0 204.5 563.0 204.6 562.9 204.7 562.9 204.7 562.8 204.7 562.7 204.6 562.9 204.6 562.4 204.2 561.8 203.7 561.6 203.3 561.6 203.1 561.6 202.8 561.2 202.5 561.1 202.1 561.0 201.7 561.0 201.2 561.1 201.0 561.1 200.5 561.0 200.4 561.2 199.8 561.4 199.6 561.3 199.2 561.5 198.9 561.8 198.3 561.9 198.2 562.2 197.9 562.7 197.8 562.7 197.3 563.2 197.2 563.6 196.9 564.2 196.8 564.4 196.4 564.8 196.3 565.2 196.3 565.6 196.5 565.8 196.9 565.7 197.4 565.5 197.7 565.1 197.9 564.7 197.9 564.3 197.6 564.1 197.2 564.1 196.9 563.9 196.3 563.8 195.6 563.7 195.3 563.5 194.9 563.6 194.4 563.6 194.0 563.6 193.4 563.5 193.3 563.9 192.5 564.0 192.4 564.1 192.0 564.4 191.6 564.4 191.1 564.7 190.9 565.0 190.7 565.4 190.3 565.6 190.0 565.9 189.7 566.3 189.4 566.4 189.6 567.1 189.0 567.7 188.9 568.2 188.9 568.6 188.9 568.8 188.8 569.1 188.7 569.3 188.9 569.4 189.1 569.4 189.3 569.3 189.5 569.1 189.7 568.9 189.7 568.7 189.6 568.5 189.4 568.5 189.1 568.5 188.8 568.6 188.4 568.6 187.9 568.6 187.3 568.9 186.9 568.8 186.5 569.0 186.3 569.1 185.8 569.4 185.5 569.7 185.1 569.6 184.8 570.1 184.7 570.3 184.2 570.5 184.1 571.0 183.6 571.3 183.6 571.8 183.5 572.0 183.3 572.3 183.3 572.8 183.1 573.1 183.0 573.6 183.0 574.1 183.1 574.5 183.1 575.1 183.3 575.5 183.2 575.9 183.3 576.1 183.6 576.2 184.0 576.1 184.3 575.8 184.6 575.4 184.7 575.1 184.6 574.8 184.3 574.7 183.9 574.8 183.5 575.0 183.3 575.0 182.4 575.2 182.3 575.4 181.6 575.6 181.2 575.7 181.0 576.1 180.6 576.2 180.6 576.6 180.0 576.8 179.6 577.1 179.5 577.5 179.3 577.8 179.3 578.1 179.2 578.6 178.9 578.7 178.8 579.3 179.0 579.6 178.8 580.1 179.1 580.3 179.0 580.6 179.3 581.1 179.5 581.6 179.7 582.0 180.2 582.4 180.4 582.5 180.5 582.6 180.5 582.6 180.6 582.6 180.7 582.5 180.8 582.5 180.8 582.4 180.8 582.3 180.8 582.2 180.7 582.2 180.6 582.3 180.5 582.4 180.6 582.8 179.8 583.2 179.4 583.6 179.1 584.2 178.7 584.5 178.4 585.0 178.1 585.4 177.7 585.9 177.5 586.5 177.6 587.1 177.6 587.4 177.5 588.1 177.5 588.8 177.4 589.4 177.6 589.9 177.9 590.4 178.1 590.8 178.2 591.3 178.1 591.8 178.9 592.1 179.3 592.7 179.5 593.3 179.8 593.5 180.4 593.9 181.1 594.1 181.2 594.2 181.4 594.2 181.7 594.1 181.9 593.9 182.0 593.6 182.0 593.4 181.9 593.3 181.7 593.3 181.4 593.4 181.2 593.6 181.1 593.8 181.1 594.2 180.8 594.6 180.6 594.8 180.4 595.2 180.1 595.6 180.0 596.0 180.0 596.4 179.8 596.2 179.9 596.9 179.9 596.9 179.8 597.3 180.0 597.5 180.1 597.9 180.3 598.1 180.4 598.3 180.6 598.5 180.7 598.5 181.1 598.8 181.2 599.3 181.5 599.2 181.8 599.3 182.2 599.3 182.7 599.3 182.8 599.5 183.5 599.8 183.8 599.9 184.3 599.8 184.7 599.5 185.0 599.1 185.1 598.7 185.0 598.4 184.7 598.3 184.3 598.4 183.9 598.7 183.6 599.1 183.4 599.5 183.6 600.1 183.4 600.8 183.4 601.2 183.6 601.8 183.6 602.3 183.8 602.9 183.8 603.0 184.1 603.7 184.2 604.0 184.2 604.5 184.7 605.0 185.0 605.3 185.4 605.6 185.9 606.1 186.2 606.2 186.6 606.5 187.0 606.9 187.5 607.2 187.7 607.3 188.2 607.6 188.8 607.7 189.4 607.8 190.0 607.8 190.3 607.8 191.0 607.8 191.2 607.8 191.3 607.7 191.4 607.6 191.4 607.5 191.4 607.4 191.3 607.3 191.2 607.4 191.1 607.4 191.0 607.6 190.9 607.7 191.0 607.6 190.8 608.4 191.2 608.8 191.5 609.2 191.4 609.2 191.6 609.7 191.8 610.1 192.0 610.3 192.4 610.5 192.6 610.7 192.8 611.1 193.1 610.9 193.6 611.2 193.9 611.3 194.0 611.6 194.4 611.7 195.0 611.8 195.2 611.7 195.9 611.9 195.9 611.8 196.4 611.7 196.7 611.7 197.3 611.6 197.6 611.4 198.0 611.2 198.4 611.3 198.8 611.1 199.1 610.8 199.3 610.4 199.3 610.1 199.2 609.9 198.8 609.9 198.5 610.0 198.1 610.4 197.9 610.7 197.9 611.1 198.1 611.4 198.5 611.8 198.7 612.5 198.9 612.5 198.8 612.8 199.1 613.3 199.2 613.6 199.4 613.7 199.9 614.1 199.8 614.0 200.3 614.2 200.3 614.3 200.6 614.4 201.1 614.4 201.2 614.3 201.5 614.3 201.8 614.1 202.2 614.1 202.2 613.6 202.7 613.6 203.1 613.6 203.1 613.3 203.7 613.1 203.7 612.5 204.2 612.0 204.4" fill="none" stroke="#7AAEE0" stroke-width="1.15" stroke-linejoin="round" opacity="1.0"/><path d="M613.0 212.9 612.9 213.2 612.7 213.4 612.4 213.4 612.2 213.3 612.0 213.1 612.0 212.9 612.1 212.6 612.3 212.4 612.5 212.4 612.8 212.5 612.9 212.7 613.0 212.8 613.5 213.0 613.8 213.2 613.6 213.5 614.1 213.7 614.2 214.1 614.1 214.2 614.4 214.5 614.3 214.5 614.4 214.8 614.5 215.1 614.4 215.2 614.4 215.5 614.4 215.7 614.4 216.0 614.1 216.2 613.9 216.3 613.9 216.2 613.9 216.8 613.7 216.5 613.1 216.9 613.1 216.9 612.7 216.9 612.5 217.0 612.1 217.3 611.9 217.6 611.5 217.8 611.2 217.8 610.8 217.6 610.6 217.3 610.6 216.9 610.8 216.6 611.2 216.4 611.6 216.4 611.9 216.6 612.1 216.9 612.2 217.4 612.5 218.0 612.7 218.4 612.7 219.0 612.7 219.5 612.7 219.9 612.6 220.5 612.7 221.2 612.7 221.6 612.5 222.0 612.1 222.2 612.0 223.0 611.8 223.6 611.7 223.9 611.3 224.4 611.1 224.5 610.6 225.1 610.1 225.5 609.7 225.7 609.3 225.9 608.9 226.3 608.3 226.4 607.9 226.5 607.3 226.5 606.6 226.6 606.3 226.9 605.9 226.9 605.6 226.7 605.4 226.4 605.3 226.0 605.5 225.6 605.8 225.4 606.2 225.4 606.6 225.6 606.8 225.9 606.8 226.3 606.4 226.5 606.8 227.1 606.7 227.6 606.9 228.1 606.5 228.6 606.9 228.9 606.7 229.1 606.7 229.6 606.3 230.0 606.2 230.1 606.0 230.5 605.7 230.8 605.4 230.7 605.4 231.2 605.0 231.1 604.7 231.6 604.3 231.4 604.3 231.6 603.7 231.7 603.4 231.8 602.8 231.7 602.5 231.9 602.1 231.6 601.8 231.6 601.2 231.2 601.0 231.3 600.8 231.2 600.6 231.1 600.6 230.9 600.6 230.6 600.8 230.5 601.0 230.4 601.2 230.5 601.3 230.6 601.4 230.9 601.3 231.1 601.3 231.2 601.2 231.9 600.7 232.4 600.6 232.8 600.1 233.3 599.8 233.6 599.8 233.9 599.3 234.3 599.1 234.6 598.6 235.0 598.0 235.1 597.6 235.3 597.4 235.4 596.9 235.8 596.3 235.8 596.0 236.1 595.6 235.8 595.2 235.9 594.6 235.9 594.0 236.0 593.8 235.7 593.1 235.6 593.0 235.6 592.3 235.2 591.8 234.8 591.6 234.8 591.4 234.6 591.3 234.3 591.3 234.1 591.5 233.9 591.7 233.8 592.0 233.8 592.2 234.0 592.3 234.2 592.3 234.5 592.1 234.7 591.9 234.7 591.8 235.4 591.3 235.8 591.2 235.8 590.9 236.1 590.6 236.2 590.6 236.3 589.8 236.4 590.0 236.4 589.5 236.7 589.3 236.8 588.7 237.1 588.6 237.0 588.7 236.8 588.1 236.9 588.1 236.9 587.6 236.6 587.2 236.6 587.2 236.4 586.8 236.1 586.5 236.0 586.6 235.8 586.2 235.5 585.9 235.2 585.8 234.8 585.4 234.6 585.1 234.3 585.1 233.8 585.3 233.4 585.6 233.2 586.0 233.1 586.4 233.3 586.7 233.7 586.7 234.1 586.6 234.5 586.2 234.8 585.8 234.8 585.4 235.3 584.9 235.3 584.2 235.7 583.8 235.6 583.4 235.7 582.8 235.6 582.3 235.8 581.9 235.7 581.3 235.7 580.8 235.5 580.4 235.6 580.0 235.3 579.4 235.1 579.4 234.8 579.0 234.5 578.3 234.2 578.1 233.9 577.8 233.6 577.5 233.3 577.1 232.6 576.9 232.4 576.6 231.9 576.2 231.4 576.3 230.7 576.1 230.6 576.1 230.4 576.2 230.2 576.3 230.0 576.5 230.0 576.7 230.1 576.8 230.2 576.9 230.4 576.8 230.6 576.7 230.8 576.5 230.8 576.4 230.4 575.8 231.0 575.2 231.1 575.0 231.5 574.5 231.2 574.4 231.4 574.0 231.5 573.8 231.4 573.5 231.4 573.2 231.2 573.1 231.4 572.9 231.3 572.7 231.3 572.5 230.8 572.3 230.8 572.3 230.6 572.1 230.1 572.0 229.9 571.8 229.7 572.1 229.3 571.9 228.9 572.2 228.8 572.3 228.2 572.6 227.7 572.6 227.2 572.4 227.0 572.4 226.7 572.6 226.5 572.8 226.3 573.1 226.3 573.3 226.5 573.4 226.7 573.4 227.0 573.3 227.2 573.1 227.4 572.8 227.4 572.3 227.1 571.9 227.1 571.2 227.2 570.5 227.0 570.0 226.7 569.7 226.5 569.2 226.1 568.8 225.9 568.2 225.3 567.8 225.1 567.6 224.6 567.2 224.1 567.1 223.7 566.8 223.3 566.6 222.5 566.6 222.2 566.3 221.7 566.4 221.1 566.5 220.1 566.3 220.1 566.2 219.3 566.4 218.9 566.7 218.1 566.8 217.8 567.3 217.0 567.3 216.7 567.4 216.4 567.7 216.2 568.0 216.2 568.3 216.4 568.5 216.7 568.5 217.0 568.3 217.3 568.0 217.5 567.7 217.5 567.4 217.3 567.3 217.1 566.7 216.7 566.7 216.7 566.5 216.6 566.1 216.4 565.9 216.0 565.8 215.8 565.6 215.7 565.7 215.5 565.4 215.1 565.4 214.8 565.1 214.5 565.1 214.4 565.0 214.1 565.0 213.9 565.0 213.5 565.1 213.3 565.4 213.2 565.3 212.8 565.6 212.7 565.8 212.3 565.7 212.0 565.9 211.9 565.9 211.7 566.5 211.3 566.5 211.1 566.7 210.9 566.9 210.9 567.1 210.9 567.3 211.1 567.3 211.3 567.3 211.5 567.1 211.7 566.9 211.8 566.7 211.7 566.5 211.5 566.3 211.3 566.0 211.0 565.5 210.9 565.2 210.5 564.9 209.9 564.5 209.6 564.2 209.4 564.3 209.1 564.1 208.8 563.8 208.5 563.8 208.1 563.9 207.6 563.8 207.2 564.0 206.9 564.2 206.6 564.3 206.4 564.2 206.0 564.7 205.7 565.0 205.4 565.0 205.3 565.5 204.9 565.9 204.8 566.5 204.3 567.0 204.3 567.5 204.2 567.8 203.9 568.1 203.7 568.5 203.7 568.8 203.9 569.0 204.3 569.0 204.7 568.8 205.0 568.4 205.2 568.1 205.2 567.7 205.0 567.5 204.6 567.3 204.0 567.1 203.9 567.0 203.4 567.1 202.8 567.1 202.5 566.9 201.9 566.9 201.7 567.1 201.2 567.2 200.9 567.1 200.4 567.0 200.2 567.7 199.8 567.6 199.5 567.9 199.1 568.1 198.7 568.1 198.5 568.8 198.2 568.9 198.0 569.3 197.8 569.6 197.5 570.0 197.3 570.4 196.9 570.7 196.8 571.1 196.7 571.8 196.7 571.9 196.6 572.1 196.5 572.3 196.6 572.4 196.8 572.5 197.0 572.4 197.2 572.2 197.3 572.0 197.3 571.8 197.2 571.7 197.1 571.7 196.9 571.8 196.6 571.5 195.9 571.5 195.5 571.4 195.1 571.5 194.3 571.7 194.1 571.9 193.5 572.1 193.0 572.3 192.8 572.3 192.5 572.8 192.1 573.2 191.7 573.3 191.4 573.5 191.2 574.0 190.9 574.5 190.8 574.7 190.8 575.0 190.4 575.6 190.6 576.0 190.4 576.4 190.2 577.3 190.5 577.6 190.6 578.0 190.5 578.7 191.0 579.0 190.9 579.2 191.0 579.4 191.2 579.4 191.4 579.4 191.7 579.2 191.8 578.9 191.9 578.7 191.8 578.5 191.6 578.5 191.4 578.5 191.1 578.6 191.0 578.7 190.4 578.6 189.8 578.8 189.5 578.7 189.0 578.8 188.6 578.9 188.2 579.2 188.0 579.4 187.9 579.6 187.7 579.8 187.5 580.0 187.4 580.3 186.9 580.6 187.2 580.7 187.0 581.1 187.0 581.4 187.0 581.4 187.0 581.7 187.4 582.3 187.5 582.5 187.3 582.6 187.6 583.2 188.2 583.7 188.5 583.8 188.9 584.0 188.9 584.2 189.0 584.2 189.1 584.2 189.3 584.2 189.4 584.0 189.5 583.8 189.5 583.7 189.4 583.6 189.3 583.6 189.1 583.7 188.9 584.0 188.8 584.0 187.8 584.2 187.6 584.7 187.0 585.1 186.5 585.4 186.2 585.7 186.1 586.3 185.9 586.5 185.3 586.9 185.5 587.6 185.5 587.9 184.9 588.5 185.0 588.8 185.2 589.0 185.2 589.7 185.3 590.2 185.3 590.4 185.3 590.8 185.7 591.1 185.9 591.7 186.2 592.1 186.7 592.4 186.9 593.0 187.5 593.1 188.2 593.3 188.3 593.4 188.5 593.4 188.7 593.4 188.9 593.2 189.1 592.9 189.1 592.7 189.0 592.6 188.8 592.5 188.6 592.6 188.3 592.8 188.2 593.1 188.0 593.4 187.6 593.8 187.0 594.1 186.7 594.4 186.9 594.8 186.6 595.2 186.6 595.7 186.2 595.8 186.1 596.1 185.9 596.5 186.2 596.8 186.4 597.0 186.4 597.4 186.3 597.7 186.4 597.5 186.9 597.9 187.0 598.3 187.1 598.5 187.3 598.5 187.7 599.0 188.2 599.0 188.3 599.3 188.8 599.3 189.3 599.3 190.0 599.7 190.3 599.8 190.8 599.7 191.3 599.4 191.7 599.0 191.8 598.5 191.7 598.1 191.4 597.9 190.9 598.0 190.4 598.3 190.0 598.8 189.9 599.4 189.9 599.8 189.4 600.2 189.6 600.8 189.5 601.1 189.5 601.5 189.5 601.9 189.6 602.3 189.6 602.6 189.7 602.9 189.8 603.5 189.9 603.6 190.1 604.1 190.5 604.3 190.6 604.6 190.9 604.9 191.1 605.2 191.7 605.4 191.7 605.6 192.1 605.7 192.4 605.8 192.9 606.0 193.3 606.1 193.7 606.2 194.1 606.1 194.6 606.2 194.8 606.2 195.1 606.1 195.3 605.9 195.4 605.6 195.4 605.4 195.3 605.3 195.1 605.3 194.8 605.4 194.6 605.7 194.5 605.9 194.5 606.0 194.8 606.5 194.7 606.9 194.7 607.4 195.0 607.7 195.1 608.1 195.2 608.6 195.4 608.9 195.6 609.0 195.8 609.6 196.1 609.9 196.4 610.0 196.7 610.4 197.1 610.4 197.3 610.7 197.5 610.6 197.9 611.1 198.2 611.1 198.7 611.1 199.0 611.2 199.7 611.2 199.9 611.5 200.2 611.3 200.6 611.3 201.0 611.0 201.6 611.1 201.8 611.0 202.0 610.8 202.1 610.6 202.2 610.4 202.1 610.3 201.9 610.3 201.7 610.4 201.5 610.5 201.4 610.7 201.4 610.9 201.4 611.0 201.6 611.8 201.9 612.4 202.2 613.0 202.4 613.5 202.9 614.0 203.2 614.2 203.7 614.4 204.1 615.0 204.6 615.3 205.0 615.6 205.6 615.8 205.9 615.7 206.7 615.8 207.1 615.8 207.8 615.8 208.4 615.8 209.0 615.8 209.4 615.4 209.9 615.4 210.5 615.0 211.0 614.3 211.4 614.1 212.2 613.9 212.6 613.0 212.9" fill="none" stroke="#00549F" stroke-width="1.2" stroke-linejoin="round" opacity="1.0"/>
<text x="503.9" y="195.6" text-anchor="end" fill="#222222" font-size="12">0</text>
<text x="503.9" y="235.6" text-anchor="end" fill="#222222" font-size="12">-300</text>
<text x="528.73" y="269.0" text-anchor="middle" fill="#222222" font-size="12">-300</text>
<text x="568.77" y="269.0" text-anchor="middle" fill="#222222" font-size="12">0</text>
<text x="608.83" y="269.0" text-anchor="middle" fill="#222222" font-size="12">300</text>
<text x="648.88" y="269.0" text-anchor="middle" fill="#222222" font-size="12">600</text>
<text x="594.3" y="280.4" text-anchor="middle" fill="#222222" font-size="12">X-coordinate / µm</text>
<text transform="translate(476.6,220.6) rotate(-90)" text-anchor="middle" fill="#222222" font-size="12">Y-coordinate / µm</text>
<line x1="57.1" y1="172.3" x2="57.1" y2="285.6" stroke="#e7e7e7" stroke-width="1"/>
<line x1="85.5" y1="172.3" x2="85.5" y2="285.6" stroke="#e7e7e7" stroke-width="1"/>
<line x1="113.9" y1="172.3" x2="113.9" y2="285.6" stroke="#e7e7e7" stroke-width="1"/>
<line x1="142.3" y1="172.3" x2="142.3" y2="285.6" stroke="#e7e7e7" stroke-width="1"/>
<line x1="170.7" y1="172.3" x2="170.7" y2="285.6" stroke="#e7e7e7" stroke-width="1"/>
<line x1="57.1" y1="172.3" x2="170.7" y2="172.3" stroke="#e7e7e7" stroke-width="1"/>
<line x1="57.1" y1="200.8" x2="170.7" y2="200.8" stroke="#e7e7e7" stroke-width="1"/>
<line x1="57.1" y1="229.3" x2="170.7" y2="229.3" stroke="#e7e7e7" stroke-width="1"/>
<line x1="57.1" y1="257.8" x2="170.7" y2="257.8" stroke="#e7e7e7" stroke-width="1"/>
<line x1="113.6" y1="229.3" x2="113.6" y2="180" stroke="#1a1a1a" stroke-width="1.3"/>
<line x1="113.6" y1="229.3" x2="58.17" y2="261.30" stroke="#1a1a1a" stroke-width="1.3"/>
<line x1="113.6" y1="229.3" x2="169.03" y2="261.30" stroke="#1a1a1a" stroke-width="1.3"/>
<ellipse cx="113.7" cy="172.5" rx="20.6" ry="9.1" fill="#00549F"/>
<text x="113.9" y="177.1" text-anchor="middle" font-size="13.5" fill="#fff">P0</text>
<ellipse cx="37.8" cy="263.6" rx="20.6" ry="9.1" fill="#00549F"/>
<text x="38.0" y="268.20000000000005" text-anchor="middle" font-size="13.5" fill="#fff">P120</text>
<ellipse cx="189.3" cy="263.4" rx="20.6" ry="9.1" fill="#00549F"/>
<text x="189.5" y="268.0" text-anchor="middle" font-size="13.5" fill="#fff">P240</text>
<path d="M60,248.3 Q62.5,254 64.9,258.9 Q68,264 72.6,268.7" fill="none" stroke="#CC071E" stroke-width="1.3"/>
<rect x="63.0" y="257.0" width="3.8" height="3.8" fill="#CC071E"/>
<path d="M156.2,212.9 Q158.6,216 158.8,221 L159.2,234.5" fill="none" stroke="#F6A800" stroke-width="1.4"/>
<rect x="156.9" y="221.2" width="4.3" height="4.3" fill="#F6A800"/>
<path d="M129.19,227.96 A15.6,15.6 0 0 1 125.19,238.94" fill="none" stroke="#8EBAE5" stroke-width="1.3"/>
<path d="M121.87,241.73 A15.6,15.6 0 0 1 104.00,240.79" fill="none" stroke="#8EBAE5" stroke-width="1.3"/>
<path d="M126.74,224.98 A13.6,13.6 0 0 1 123.71,237.60" fill="none" stroke="#00549F" stroke-width="1.3"/>
<path d="M121.21,239.77 A13.6,13.6 0 0 1 103.82,237.95" fill="none" stroke="#00549F" stroke-width="1.3"/>
<path d="M119.48,244.66 A17.2,17.2 0 0 1 103.98,242.76" fill="none" stroke="#1a1a1a" stroke-width="1.3"/>
<circle cx="119.8" cy="245.2" r="2.3" fill="#000"/>
<path d="M125.55,238.53 L123.44,243.09 L121.21,239.77 Z" fill="#8EBAE5"/>
<path d="M124.32,236.87 L122.44,241.60 L119.97,237.95 Z" fill="#00549F"/>
<line x1="15.8" y1="199.5" x2="15.8" y2="177.5" stroke="#00549F" stroke-width="1.3"/>
<path d="M15.8,174.3 L13.9,178.3 L17.7,178.3 Z" fill="#00549F"/>
<line x1="19.3" y1="203.1" x2="41" y2="203.1" stroke="#00549F" stroke-width="1.3"/>
<path d="M44.5,203.1 L40.5,201.2 L40.5,205.0 Z" fill="#00549F"/>
<circle cx="15.8" cy="203.1" r="3.1" fill="#fff" stroke="#00549F" stroke-width="1.6"/>
<text x="20.7" y="181.2" fill="#222222" font-size="12">y</text>
<text x="38.4" y="197.4" fill="#222222" font-size="12">x</text>
<text x="6.0" y="212.7" fill="#222222" font-size="12">z</text>
<line x1="15.6" y1="227" x2="44.7" y2="227" stroke="#1a1a1a" stroke-width="1.3"/>
<line x1="16.2" y1="225" x2="16.2" y2="229" stroke="#1a1a1a" stroke-width="1.2"/>
<line x1="44.1" y1="225" x2="44.1" y2="229" stroke="#1a1a1a" stroke-width="1.2"/>
<text x="30.2" y="241.4" text-anchor="middle" fill="#222222" font-size="12">110 µm</text>
<path d="M192.21,213.20 A19.2,19.2 0 1 1 208.71,212.19" fill="none" stroke="#00549F" stroke-width="1.5"/>
<path d="M204.8,213.6 L208.1,210.0 L210.1,215.0 Z" fill="#00549F"/>
<text x="198.9" y="192" text-anchor="middle" font-size="11.5" font-weight="bold" fill="#222222">1000</text>
<text x="199.0" y="206" text-anchor="middle" font-size="11.5" font-weight="bold" fill="#222222">rpm</text>
<text x="184.6" y="223.2" fill="#222222" font-size="12">n<tspan font-size="8" dy="2.4">in,ccw</tspan></text>
</svg>
</body></html>
